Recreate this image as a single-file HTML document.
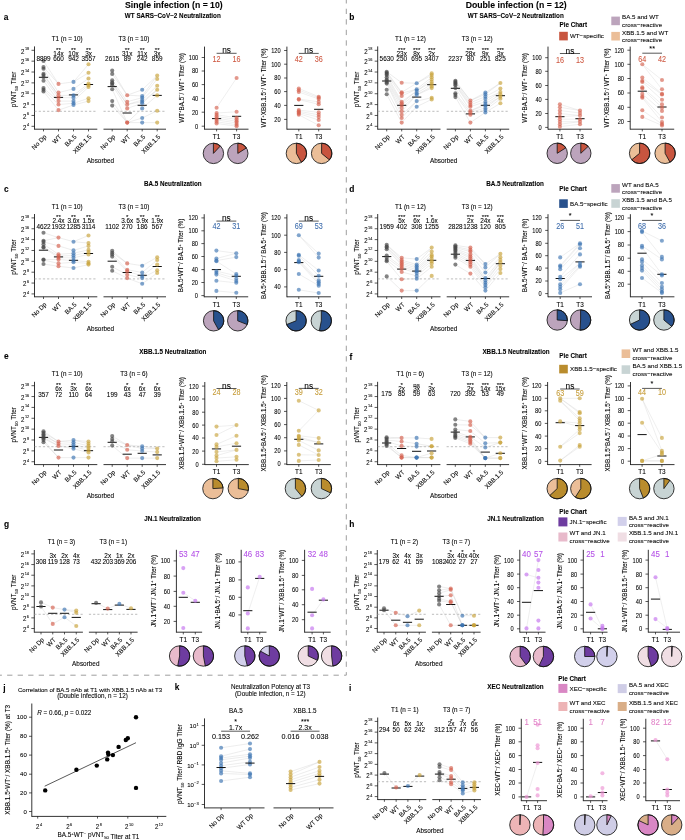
<!DOCTYPE html>
<html><head><meta charset="utf-8"><title>Figure</title><style>
html,body{margin:0;padding:0;background:#fff;}
svg{display:block;font-family:'Liberation Sans', Arial, Helvetica, sans-serif;}
text{stroke:#000;stroke-width:0.14px;stroke-opacity:0.55;}
</style></head><body>
<svg width="685" height="840" viewBox="0 0 685 840">
<rect width="685" height="840" fill="#fff"/>
<text x="173.80" y="8.11" font-size="8.7" text-anchor="middle" font-weight="bold">Single infection (n = 10)</text>
<text x="516.20" y="8.11" font-size="8.7" text-anchor="middle" font-weight="bold">Double infection (n = 12)</text>
<path d="M346.3,0 L346.3,675.2 L0,675.2" fill="none" stroke="#9a9a9a" stroke-width="0.95" stroke-dasharray="5.3,5.23" stroke-dashoffset="1.8"/>
<text x="3.70" y="20.20" font-size="8.4" font-weight="bold">a</text>
<text x="349.20" y="20.20" font-size="8.4" font-weight="bold">b</text>
<text x="3.90" y="191.70" font-size="8.4" font-weight="bold">c</text>
<text x="349.20" y="191.80" font-size="8.4" font-weight="bold">d</text>
<text x="3.90" y="358.80" font-size="8.4" font-weight="bold">e</text>
<text x="349.50" y="359.60" font-size="8.4" font-weight="bold">f</text>
<text x="3.90" y="527.00" font-size="8.4" font-weight="bold">g</text>
<text x="349.20" y="527.40" font-size="8.4" font-weight="bold">h</text>
<text x="3.30" y="691.00" font-size="8.4" font-weight="bold">j</text>
<text x="174.80" y="690.30" font-size="8.4" font-weight="bold">k</text>
<text x="349.00" y="690.60" font-size="8.4" font-weight="bold">i</text>
<text x="172.80" y="18.16" font-size="6.3" text-anchor="middle" font-weight="bold">WT SARS−CoV−2 Neutralization</text>
<text x="515.80" y="18.16" font-size="6.3" text-anchor="middle" font-weight="bold">WT SARS−CoV−2 Neutralization</text>
<text x="172.80" y="185.96" font-size="6.3" text-anchor="middle" font-weight="bold">BA.5 Neutralization</text>
<text x="515.00" y="185.86" font-size="6.3" text-anchor="middle" font-weight="bold">BA.5 Neutralization</text>
<text x="172.80" y="353.76" font-size="6.3" text-anchor="middle" font-weight="bold">XBB.1.5 Neutralization</text>
<text x="516.00" y="353.66" font-size="6.3" text-anchor="middle" font-weight="bold">XBB.1.5 Neutralization</text>
<text x="172.60" y="521.46" font-size="6.3" text-anchor="middle" font-weight="bold">JN.1 Neutralization</text>
<text x="515.50" y="521.36" font-size="6.3" text-anchor="middle" font-weight="bold">JN.1 Neutralization</text>
<text x="515.50" y="689.46" font-size="6.3" text-anchor="middle" font-weight="bold">XEC Neutralization</text>
<line x1="34.50" y1="46.40" x2="34.50" y2="129.62" stroke="#111" stroke-width="0.85"/>
<line x1="31.50" y1="50.30" x2="34.50" y2="50.30" stroke="#111" stroke-width="0.7"/>
<text x="0" y="0" transform="translate(29.20 53.53) scale(0.9 1)" font-size="6.8" text-anchor="end">2<tspan font-size="4.3" dx="0.6" dy="-3.3">18</tspan></text>
<line x1="31.50" y1="61.16" x2="34.50" y2="61.16" stroke="#111" stroke-width="0.7"/>
<text x="0" y="0" transform="translate(29.20 64.39) scale(0.9 1)" font-size="6.8" text-anchor="end">2<tspan font-size="4.3" dx="0.6" dy="-3.3">16</tspan></text>
<line x1="31.50" y1="72.02" x2="34.50" y2="72.02" stroke="#111" stroke-width="0.7"/>
<text x="0" y="0" transform="translate(29.20 75.25) scale(0.9 1)" font-size="6.8" text-anchor="end">2<tspan font-size="4.3" dx="0.6" dy="-3.3">14</tspan></text>
<line x1="31.50" y1="82.88" x2="34.50" y2="82.88" stroke="#111" stroke-width="0.7"/>
<text x="0" y="0" transform="translate(29.20 86.11) scale(0.9 1)" font-size="6.8" text-anchor="end">2<tspan font-size="4.3" dx="0.6" dy="-3.3">12</tspan></text>
<line x1="31.50" y1="93.74" x2="34.50" y2="93.74" stroke="#111" stroke-width="0.7"/>
<text x="0" y="0" transform="translate(29.20 96.97) scale(0.9 1)" font-size="6.8" text-anchor="end">2<tspan font-size="4.3" dx="0.6" dy="-3.3">10</tspan></text>
<line x1="31.50" y1="104.60" x2="34.50" y2="104.60" stroke="#111" stroke-width="0.7"/>
<text x="0" y="0" transform="translate(29.20 107.83) scale(0.9 1)" font-size="6.8" text-anchor="end">2<tspan font-size="4.3" dx="0.6" dy="-3.3">8</tspan></text>
<line x1="31.50" y1="115.46" x2="34.50" y2="115.46" stroke="#111" stroke-width="0.7"/>
<text x="0" y="0" transform="translate(29.20 118.69) scale(0.9 1)" font-size="6.8" text-anchor="end">2<tspan font-size="4.3" dx="0.6" dy="-3.3">6</tspan></text>
<line x1="31.50" y1="126.32" x2="34.50" y2="126.32" stroke="#111" stroke-width="0.7"/>
<text x="0" y="0" transform="translate(29.20 129.55) scale(0.9 1)" font-size="6.8" text-anchor="end">2<tspan font-size="4.3" dx="0.6" dy="-3.3">4</tspan></text>
<text x="14.00" y="89.41" font-size="6.4" text-anchor="middle" transform="rotate(-90 14.00 89.41)" dy="2.29">pVNT<tspan font-size="4.4" dy="1.6">50</tspan><tspan dy="-1.6"> Titer</tspan></text>
<line x1="34.50" y1="129.20" x2="97.30" y2="129.20" stroke="#111" stroke-width="0.85"/>
<line x1="34.50" y1="111.30" x2="97.30" y2="111.30" stroke="#a0a0a0" stroke-width="0.7" stroke-dasharray="2.2,2"/>
<text x="67.20" y="41.06" font-size="6.3" text-anchor="middle">T1 (n = 10)</text>
<line x1="43.50" y1="129.20" x2="43.50" y2="131.40" stroke="#111" stroke-width="0.7"/>
<text x="43.90" y="134.20" font-size="6.4" text-anchor="end" transform="rotate(-45 43.90 134.20)" dy="4.4">No Dp</text>
<line x1="58.50" y1="129.20" x2="58.50" y2="131.40" stroke="#111" stroke-width="0.7"/>
<text x="58.90" y="134.20" font-size="6.4" text-anchor="end" transform="rotate(-45 58.90 134.20)" dy="4.4">WT</text>
<line x1="73.50" y1="129.20" x2="73.50" y2="131.40" stroke="#111" stroke-width="0.7"/>
<text x="73.90" y="134.20" font-size="6.4" text-anchor="end" transform="rotate(-45 73.90 134.20)" dy="4.4">BA.5</text>
<line x1="88.50" y1="129.20" x2="88.50" y2="131.40" stroke="#111" stroke-width="0.7"/>
<text x="88.90" y="134.20" font-size="6.4" text-anchor="end" transform="rotate(-45 88.90 134.20)" dy="4.4">XBB.1.5</text>
<line x1="43.50" y1="60.90" x2="58.50" y2="83.90" stroke="#cbcbcb" stroke-width="0.35"/>
<line x1="43.50" y1="67.10" x2="58.50" y2="83.90" stroke="#cbcbcb" stroke-width="0.35"/>
<line x1="43.50" y1="68.80" x2="58.50" y2="92.60" stroke="#cbcbcb" stroke-width="0.35"/>
<line x1="43.50" y1="73.90" x2="58.50" y2="95.40" stroke="#cbcbcb" stroke-width="0.35"/>
<line x1="43.50" y1="75.00" x2="58.50" y2="95.40" stroke="#cbcbcb" stroke-width="0.35"/>
<line x1="43.50" y1="77.30" x2="58.50" y2="97.70" stroke="#cbcbcb" stroke-width="0.35"/>
<line x1="43.50" y1="80.70" x2="58.50" y2="101.10" stroke="#cbcbcb" stroke-width="0.35"/>
<line x1="43.50" y1="88.10" x2="58.50" y2="101.10" stroke="#cbcbcb" stroke-width="0.35"/>
<line x1="43.50" y1="89.80" x2="58.50" y2="104.50" stroke="#cbcbcb" stroke-width="0.35"/>
<line x1="43.50" y1="91.50" x2="58.50" y2="110.10" stroke="#cbcbcb" stroke-width="0.35"/>
<line x1="58.50" y1="83.90" x2="73.50" y2="81.90" stroke="#cbcbcb" stroke-width="0.35"/>
<line x1="58.50" y1="92.60" x2="73.50" y2="88.90" stroke="#cbcbcb" stroke-width="0.35"/>
<line x1="58.50" y1="95.40" x2="73.50" y2="95.40" stroke="#cbcbcb" stroke-width="0.35"/>
<line x1="58.50" y1="97.70" x2="73.50" y2="97.70" stroke="#cbcbcb" stroke-width="0.35"/>
<line x1="58.50" y1="101.10" x2="73.50" y2="101.10" stroke="#cbcbcb" stroke-width="0.35"/>
<line x1="58.50" y1="104.50" x2="73.50" y2="103.30" stroke="#cbcbcb" stroke-width="0.35"/>
<line x1="58.50" y1="110.10" x2="73.50" y2="105.00" stroke="#cbcbcb" stroke-width="0.35"/>
<line x1="73.50" y1="81.90" x2="88.50" y2="64.30" stroke="#cbcbcb" stroke-width="0.35"/>
<line x1="73.50" y1="81.90" x2="88.50" y2="72.80" stroke="#cbcbcb" stroke-width="0.35"/>
<line x1="73.50" y1="88.90" x2="88.50" y2="78.50" stroke="#cbcbcb" stroke-width="0.35"/>
<line x1="73.50" y1="95.40" x2="88.50" y2="83.50" stroke="#cbcbcb" stroke-width="0.35"/>
<line x1="73.50" y1="97.70" x2="88.50" y2="85.20" stroke="#cbcbcb" stroke-width="0.35"/>
<line x1="73.50" y1="101.10" x2="88.50" y2="87.00" stroke="#cbcbcb" stroke-width="0.35"/>
<line x1="73.50" y1="103.30" x2="88.50" y2="98.30" stroke="#cbcbcb" stroke-width="0.35"/>
<line x1="73.50" y1="105.00" x2="88.50" y2="101.10" stroke="#cbcbcb" stroke-width="0.35"/>
<line x1="38.90" y1="77.30" x2="48.10" y2="77.30" stroke="#111" stroke-width="1.0"/>
<line x1="53.90" y1="97.40" x2="63.10" y2="97.40" stroke="#111" stroke-width="1.0"/>
<line x1="68.90" y1="94.90" x2="78.10" y2="94.90" stroke="#111" stroke-width="1.0"/>
<line x1="83.90" y1="84.50" x2="93.10" y2="84.50" stroke="#111" stroke-width="1.0"/>
<circle cx="43.50" cy="60.90" r="2.05" fill="#444444" fill-opacity="0.66"/>
<circle cx="43.50" cy="67.10" r="2.05" fill="#444444" fill-opacity="0.66"/>
<circle cx="43.50" cy="68.80" r="2.05" fill="#444444" fill-opacity="0.66"/>
<circle cx="43.50" cy="73.90" r="2.05" fill="#444444" fill-opacity="0.66"/>
<circle cx="43.50" cy="75.00" r="2.05" fill="#444444" fill-opacity="0.66"/>
<circle cx="43.50" cy="77.30" r="2.05" fill="#444444" fill-opacity="0.66"/>
<circle cx="43.50" cy="80.70" r="2.05" fill="#444444" fill-opacity="0.66"/>
<circle cx="43.50" cy="88.10" r="2.05" fill="#444444" fill-opacity="0.66"/>
<circle cx="43.50" cy="89.80" r="2.05" fill="#444444" fill-opacity="0.66"/>
<circle cx="43.50" cy="91.50" r="2.05" fill="#444444" fill-opacity="0.66"/>
<circle cx="58.50" cy="83.90" r="2.05" fill="#D55F4D" fill-opacity="0.66"/>
<circle cx="58.50" cy="92.60" r="2.05" fill="#D55F4D" fill-opacity="0.66"/>
<circle cx="58.50" cy="95.40" r="2.05" fill="#D55F4D" fill-opacity="0.66"/>
<circle cx="58.50" cy="97.70" r="2.05" fill="#D55F4D" fill-opacity="0.66"/>
<circle cx="58.50" cy="101.10" r="2.05" fill="#D55F4D" fill-opacity="0.66"/>
<circle cx="58.50" cy="104.50" r="2.05" fill="#D55F4D" fill-opacity="0.66"/>
<circle cx="58.50" cy="110.10" r="2.05" fill="#D55F4D" fill-opacity="0.66"/>
<circle cx="73.50" cy="81.90" r="2.05" fill="#3B74B2" fill-opacity="0.66"/>
<circle cx="73.50" cy="88.90" r="2.05" fill="#3B74B2" fill-opacity="0.66"/>
<circle cx="73.50" cy="95.40" r="2.05" fill="#3B74B2" fill-opacity="0.66"/>
<circle cx="73.50" cy="97.70" r="2.05" fill="#3B74B2" fill-opacity="0.66"/>
<circle cx="73.50" cy="101.10" r="2.05" fill="#3B74B2" fill-opacity="0.66"/>
<circle cx="73.50" cy="103.30" r="2.05" fill="#3B74B2" fill-opacity="0.66"/>
<circle cx="73.50" cy="105.00" r="2.05" fill="#3B74B2" fill-opacity="0.66"/>
<circle cx="88.50" cy="64.30" r="2.05" fill="#C9A23A" fill-opacity="0.66"/>
<circle cx="88.50" cy="72.80" r="2.05" fill="#C9A23A" fill-opacity="0.66"/>
<circle cx="88.50" cy="78.50" r="2.05" fill="#C9A23A" fill-opacity="0.66"/>
<circle cx="88.50" cy="83.50" r="2.05" fill="#C9A23A" fill-opacity="0.66"/>
<circle cx="88.50" cy="85.20" r="2.05" fill="#C9A23A" fill-opacity="0.66"/>
<circle cx="88.50" cy="87.00" r="2.05" fill="#C9A23A" fill-opacity="0.66"/>
<circle cx="88.50" cy="98.30" r="2.05" fill="#C9A23A" fill-opacity="0.66"/>
<circle cx="88.50" cy="101.10" r="2.05" fill="#C9A23A" fill-opacity="0.66"/>
<text x="43.50" y="61.19" font-size="6.4" text-anchor="middle">8899</text>
<text x="58.50" y="61.19" font-size="6.4" text-anchor="middle">660</text>
<text x="58.50" y="55.89" font-size="6.4" text-anchor="middle">14x</text>
<text x="58.50" y="51.72" font-size="6.2" text-anchor="middle">**</text>
<text x="73.50" y="61.19" font-size="6.4" text-anchor="middle">942</text>
<text x="73.50" y="55.89" font-size="6.4" text-anchor="middle">10x</text>
<text x="73.50" y="51.72" font-size="6.2" text-anchor="middle">**</text>
<text x="88.50" y="61.19" font-size="6.4" text-anchor="middle">3557</text>
<text x="88.50" y="55.89" font-size="6.4" text-anchor="middle">3x</text>
<text x="88.50" y="51.72" font-size="6.2" text-anchor="middle">**</text>
<line x1="103.50" y1="129.20" x2="166.00" y2="129.20" stroke="#111" stroke-width="0.85"/>
<line x1="103.50" y1="111.30" x2="166.00" y2="111.30" stroke="#a0a0a0" stroke-width="0.7" stroke-dasharray="2.2,2"/>
<text x="133.95" y="41.06" font-size="6.3" text-anchor="middle">T3 (n = 10)</text>
<line x1="112.20" y1="129.20" x2="112.20" y2="131.40" stroke="#111" stroke-width="0.7"/>
<text x="112.60" y="134.20" font-size="6.4" text-anchor="end" transform="rotate(-45 112.60 134.20)" dy="4.4">No Dp</text>
<line x1="127.20" y1="129.20" x2="127.20" y2="131.40" stroke="#111" stroke-width="0.7"/>
<text x="127.60" y="134.20" font-size="6.4" text-anchor="end" transform="rotate(-45 127.60 134.20)" dy="4.4">WT</text>
<line x1="142.20" y1="129.20" x2="142.20" y2="131.40" stroke="#111" stroke-width="0.7"/>
<text x="142.60" y="134.20" font-size="6.4" text-anchor="end" transform="rotate(-45 142.60 134.20)" dy="4.4">BA.5</text>
<line x1="157.20" y1="129.20" x2="157.20" y2="131.40" stroke="#111" stroke-width="0.7"/>
<text x="157.60" y="134.20" font-size="6.4" text-anchor="end" transform="rotate(-45 157.60 134.20)" dy="4.4">XBB.1.5</text>
<line x1="112.20" y1="70.50" x2="127.20" y2="95.20" stroke="#cbcbcb" stroke-width="0.35"/>
<line x1="112.20" y1="73.90" x2="127.20" y2="95.20" stroke="#cbcbcb" stroke-width="0.35"/>
<line x1="112.20" y1="80.20" x2="127.20" y2="101.70" stroke="#cbcbcb" stroke-width="0.35"/>
<line x1="112.20" y1="82.40" x2="127.20" y2="104.50" stroke="#cbcbcb" stroke-width="0.35"/>
<line x1="112.20" y1="83.60" x2="127.20" y2="104.50" stroke="#cbcbcb" stroke-width="0.35"/>
<line x1="112.20" y1="85.20" x2="127.20" y2="108.40" stroke="#cbcbcb" stroke-width="0.35"/>
<line x1="112.20" y1="89.20" x2="127.20" y2="122.60" stroke="#cbcbcb" stroke-width="0.35"/>
<line x1="112.20" y1="101.10" x2="127.20" y2="122.60" stroke="#cbcbcb" stroke-width="0.35"/>
<line x1="112.20" y1="105.60" x2="127.20" y2="122.60" stroke="#cbcbcb" stroke-width="0.35"/>
<line x1="127.20" y1="95.20" x2="142.20" y2="89.80" stroke="#cbcbcb" stroke-width="0.35"/>
<line x1="127.20" y1="95.20" x2="142.20" y2="96.00" stroke="#cbcbcb" stroke-width="0.35"/>
<line x1="127.20" y1="101.70" x2="142.20" y2="97.70" stroke="#cbcbcb" stroke-width="0.35"/>
<line x1="127.20" y1="104.50" x2="142.20" y2="100.00" stroke="#cbcbcb" stroke-width="0.35"/>
<line x1="127.20" y1="104.50" x2="142.20" y2="101.70" stroke="#cbcbcb" stroke-width="0.35"/>
<line x1="127.20" y1="108.40" x2="142.20" y2="103.30" stroke="#cbcbcb" stroke-width="0.35"/>
<line x1="127.20" y1="122.60" x2="142.20" y2="108.40" stroke="#cbcbcb" stroke-width="0.35"/>
<line x1="127.20" y1="122.60" x2="142.20" y2="118.00" stroke="#cbcbcb" stroke-width="0.35"/>
<line x1="127.20" y1="122.60" x2="142.20" y2="122.60" stroke="#cbcbcb" stroke-width="0.35"/>
<line x1="142.20" y1="89.80" x2="157.20" y2="75.60" stroke="#cbcbcb" stroke-width="0.35"/>
<line x1="142.20" y1="96.00" x2="157.20" y2="75.60" stroke="#cbcbcb" stroke-width="0.35"/>
<line x1="142.20" y1="97.70" x2="157.20" y2="79.00" stroke="#cbcbcb" stroke-width="0.35"/>
<line x1="142.20" y1="100.00" x2="157.20" y2="85.80" stroke="#cbcbcb" stroke-width="0.35"/>
<line x1="142.20" y1="101.70" x2="157.20" y2="89.80" stroke="#cbcbcb" stroke-width="0.35"/>
<line x1="142.20" y1="103.30" x2="157.20" y2="89.80" stroke="#cbcbcb" stroke-width="0.35"/>
<line x1="142.20" y1="108.40" x2="157.20" y2="95.40" stroke="#cbcbcb" stroke-width="0.35"/>
<line x1="142.20" y1="118.00" x2="157.20" y2="110.70" stroke="#cbcbcb" stroke-width="0.35"/>
<line x1="142.20" y1="122.60" x2="157.20" y2="122.60" stroke="#cbcbcb" stroke-width="0.35"/>
<line x1="107.60" y1="86.60" x2="116.80" y2="86.60" stroke="#111" stroke-width="1.0"/>
<line x1="122.60" y1="113.00" x2="131.80" y2="113.00" stroke="#111" stroke-width="1.0"/>
<line x1="137.60" y1="105.30" x2="146.80" y2="105.30" stroke="#111" stroke-width="1.0"/>
<line x1="152.60" y1="95.40" x2="161.80" y2="95.40" stroke="#111" stroke-width="1.0"/>
<circle cx="112.20" cy="70.50" r="2.05" fill="#444444" fill-opacity="0.66"/>
<circle cx="112.20" cy="73.90" r="2.05" fill="#444444" fill-opacity="0.66"/>
<circle cx="112.20" cy="80.20" r="2.05" fill="#444444" fill-opacity="0.66"/>
<circle cx="112.20" cy="82.40" r="2.05" fill="#444444" fill-opacity="0.66"/>
<circle cx="112.20" cy="83.60" r="2.05" fill="#444444" fill-opacity="0.66"/>
<circle cx="112.20" cy="85.20" r="2.05" fill="#444444" fill-opacity="0.66"/>
<circle cx="112.20" cy="89.20" r="2.05" fill="#444444" fill-opacity="0.66"/>
<circle cx="112.20" cy="101.10" r="2.05" fill="#444444" fill-opacity="0.66"/>
<circle cx="112.20" cy="105.60" r="2.05" fill="#444444" fill-opacity="0.66"/>
<circle cx="127.20" cy="95.20" r="2.05" fill="#D55F4D" fill-opacity="0.66"/>
<circle cx="127.20" cy="101.70" r="2.05" fill="#D55F4D" fill-opacity="0.66"/>
<circle cx="127.20" cy="104.50" r="2.05" fill="#D55F4D" fill-opacity="0.66"/>
<circle cx="127.20" cy="108.40" r="2.05" fill="#D55F4D" fill-opacity="0.66"/>
<circle cx="127.20" cy="122.60" r="2.05" fill="#D55F4D" fill-opacity="0.66"/>
<circle cx="127.20" cy="122.60" r="2.05" fill="#D55F4D" fill-opacity="0.66"/>
<circle cx="142.20" cy="89.80" r="2.05" fill="#3B74B2" fill-opacity="0.66"/>
<circle cx="142.20" cy="96.00" r="2.05" fill="#3B74B2" fill-opacity="0.66"/>
<circle cx="142.20" cy="97.70" r="2.05" fill="#3B74B2" fill-opacity="0.66"/>
<circle cx="142.20" cy="100.00" r="2.05" fill="#3B74B2" fill-opacity="0.66"/>
<circle cx="142.20" cy="101.70" r="2.05" fill="#3B74B2" fill-opacity="0.66"/>
<circle cx="142.20" cy="103.30" r="2.05" fill="#3B74B2" fill-opacity="0.66"/>
<circle cx="142.20" cy="108.40" r="2.05" fill="#3B74B2" fill-opacity="0.66"/>
<circle cx="142.20" cy="118.00" r="2.05" fill="#3B74B2" fill-opacity="0.66"/>
<circle cx="142.20" cy="122.60" r="2.05" fill="#3B74B2" fill-opacity="0.66"/>
<circle cx="157.20" cy="75.60" r="2.05" fill="#C9A23A" fill-opacity="0.66"/>
<circle cx="157.20" cy="79.00" r="2.05" fill="#C9A23A" fill-opacity="0.66"/>
<circle cx="157.20" cy="85.80" r="2.05" fill="#C9A23A" fill-opacity="0.66"/>
<circle cx="157.20" cy="89.80" r="2.05" fill="#C9A23A" fill-opacity="0.66"/>
<circle cx="157.20" cy="95.40" r="2.05" fill="#C9A23A" fill-opacity="0.66"/>
<circle cx="157.20" cy="110.70" r="2.05" fill="#C9A23A" fill-opacity="0.66"/>
<circle cx="157.20" cy="122.60" r="2.05" fill="#C9A23A" fill-opacity="0.66"/>
<text x="112.20" y="61.19" font-size="6.4" text-anchor="middle">2615</text>
<text x="127.20" y="61.19" font-size="6.4" text-anchor="middle">89</text>
<text x="127.20" y="55.89" font-size="6.4" text-anchor="middle">31x</text>
<text x="127.20" y="51.72" font-size="6.2" text-anchor="middle">**</text>
<text x="142.20" y="61.19" font-size="6.4" text-anchor="middle">242</text>
<text x="142.20" y="55.89" font-size="6.4" text-anchor="middle">11x</text>
<text x="142.20" y="51.72" font-size="6.2" text-anchor="middle">**</text>
<text x="157.20" y="61.19" font-size="6.4" text-anchor="middle">859</text>
<text x="157.20" y="55.89" font-size="6.4" text-anchor="middle">3x</text>
<text x="157.20" y="51.72" font-size="6.2" text-anchor="middle">**</text>
<text x="100.50" y="163.09" font-size="6.4" text-anchor="middle">Absorbed</text>
<line x1="204.50" y1="46.60" x2="204.50" y2="129.62" stroke="#111" stroke-width="0.85"/>
<line x1="204.50" y1="129.20" x2="248.50" y2="129.20" stroke="#111" stroke-width="0.85"/>
<line x1="201.70" y1="126.20" x2="204.50" y2="126.20" stroke="#111" stroke-width="0.7"/>
<text x="0" y="0" font-size="6.8" transform="translate(198.30 128.63) scale(0.84 1)" text-anchor="end">0</text>
<line x1="201.70" y1="112.20" x2="204.50" y2="112.20" stroke="#111" stroke-width="0.7"/>
<text x="0" y="0" font-size="6.8" transform="translate(198.30 114.63) scale(0.84 1)" text-anchor="end">20</text>
<line x1="201.70" y1="98.40" x2="204.50" y2="98.40" stroke="#111" stroke-width="0.7"/>
<text x="0" y="0" font-size="6.8" transform="translate(198.30 100.83) scale(0.84 1)" text-anchor="end">40</text>
<line x1="201.70" y1="84.60" x2="204.50" y2="84.60" stroke="#111" stroke-width="0.7"/>
<text x="0" y="0" font-size="6.8" transform="translate(198.30 87.03) scale(0.84 1)" text-anchor="end">60</text>
<line x1="201.70" y1="71.00" x2="204.50" y2="71.00" stroke="#111" stroke-width="0.7"/>
<text x="0" y="0" font-size="6.8" transform="translate(198.30 73.43) scale(0.84 1)" text-anchor="end">80</text>
<line x1="201.70" y1="57.50" x2="204.50" y2="57.50" stroke="#111" stroke-width="0.7"/>
<text x="0" y="0" font-size="6.8" transform="translate(198.30 59.93) scale(0.84 1)" text-anchor="end">100</text>
<text x="181.40" y="87.90" font-size="6.3" text-anchor="middle" transform="rotate(-90 181.40 87.90)" dy="2.26">WT<tspan font-size="4.2" dy="-2.4">+</tspan><tspan dy="2.4">BA.5</tspan><tspan font-size="4.2" dy="-2.4">−</tspan><tspan dy="2.4">/ WT</tspan><tspan font-size="4.2" dy="-2.4">+</tspan><tspan dy="2.4"> Titer (%)</tspan></text>
<line x1="216.60" y1="129.20" x2="216.60" y2="131.40" stroke="#111" stroke-width="0.7"/>
<text x="216.60" y="139.09" font-size="6.4" text-anchor="middle">T1</text>
<line x1="236.60" y1="129.20" x2="236.60" y2="131.40" stroke="#111" stroke-width="0.7"/>
<text x="236.60" y="139.09" font-size="6.4" text-anchor="middle">T3</text>
<line x1="216.60" y1="107.80" x2="236.60" y2="78.00" stroke="#d0d0d0" stroke-width="0.35"/>
<line x1="216.60" y1="113.00" x2="236.60" y2="111.80" stroke="#d0d0d0" stroke-width="0.35"/>
<line x1="216.60" y1="114.80" x2="236.60" y2="117.70" stroke="#d0d0d0" stroke-width="0.35"/>
<line x1="216.60" y1="116.50" x2="236.60" y2="119.40" stroke="#d0d0d0" stroke-width="0.35"/>
<line x1="216.60" y1="118.30" x2="236.60" y2="121.20" stroke="#d0d0d0" stroke-width="0.35"/>
<line x1="216.60" y1="120.00" x2="236.60" y2="122.90" stroke="#d0d0d0" stroke-width="0.35"/>
<line x1="216.60" y1="121.80" x2="236.60" y2="124.70" stroke="#d0d0d0" stroke-width="0.35"/>
<line x1="216.60" y1="123.50" x2="236.60" y2="126.20" stroke="#d0d0d0" stroke-width="0.35"/>
<line x1="212.00" y1="118.60" x2="221.20" y2="118.60" stroke="#111" stroke-width="1.0"/>
<line x1="232.00" y1="116.30" x2="241.20" y2="116.30" stroke="#111" stroke-width="1.0"/>
<circle cx="216.60" cy="107.80" r="2.05" fill="#D55F4D" fill-opacity="0.64"/>
<circle cx="216.60" cy="113.00" r="2.05" fill="#D55F4D" fill-opacity="0.64"/>
<circle cx="216.60" cy="114.80" r="2.05" fill="#D55F4D" fill-opacity="0.64"/>
<circle cx="216.60" cy="116.50" r="2.05" fill="#D55F4D" fill-opacity="0.64"/>
<circle cx="216.60" cy="118.30" r="2.05" fill="#D55F4D" fill-opacity="0.64"/>
<circle cx="216.60" cy="120.00" r="2.05" fill="#D55F4D" fill-opacity="0.64"/>
<circle cx="216.60" cy="121.80" r="2.05" fill="#D55F4D" fill-opacity="0.64"/>
<circle cx="216.60" cy="123.50" r="2.05" fill="#D55F4D" fill-opacity="0.64"/>
<circle cx="236.60" cy="78.00" r="2.05" fill="#D55F4D" fill-opacity="0.64"/>
<circle cx="236.60" cy="111.80" r="2.05" fill="#D55F4D" fill-opacity="0.64"/>
<circle cx="236.60" cy="117.70" r="2.05" fill="#D55F4D" fill-opacity="0.64"/>
<circle cx="236.60" cy="119.40" r="2.05" fill="#D55F4D" fill-opacity="0.64"/>
<circle cx="236.60" cy="121.20" r="2.05" fill="#D55F4D" fill-opacity="0.64"/>
<circle cx="236.60" cy="122.90" r="2.05" fill="#D55F4D" fill-opacity="0.64"/>
<circle cx="236.60" cy="124.70" r="2.05" fill="#D55F4D" fill-opacity="0.64"/>
<circle cx="236.60" cy="126.20" r="2.05" fill="#D55F4D" fill-opacity="0.64"/>
<line x1="216.60" y1="53.30" x2="236.60" y2="53.30" stroke="#111" stroke-width="0.7"/>
<text x="226.60" y="53.47" font-size="8.3" text-anchor="middle">ns</text>
<text x="0" y="0" font-size="8.6" transform="translate(216.60 61.78) scale(0.84 1)" text-anchor="middle" fill="#CF5A43" style="stroke:#CF5A43">12</text>
<text x="0" y="0" font-size="8.6" transform="translate(236.60 61.78) scale(0.84 1)" text-anchor="middle" fill="#CF5A43" style="stroke:#CF5A43">16</text>
<circle cx="213.40" cy="153.40" r="10.2" fill="#BCA4BC"/>
<path d="M213.40,153.40 L213.40,143.20 A10.2,10.2 0 0 1 220.38,145.96 Z" fill="#C8553F" stroke="#151515" stroke-width="0.85" stroke-linejoin="round"/>
<circle cx="213.40" cy="153.40" r="10.2" fill="none" stroke="#151515" stroke-width="0.85"/>
<circle cx="237.80" cy="153.40" r="10.2" fill="#BCA4BC"/>
<path d="M237.80,153.40 L237.80,143.20 A10.2,10.2 0 0 1 246.41,147.93 Z" fill="#C8553F" stroke="#151515" stroke-width="0.85" stroke-linejoin="round"/>
<circle cx="237.80" cy="153.40" r="10.2" fill="none" stroke="#151515" stroke-width="0.85"/>
<line x1="286.90" y1="46.60" x2="286.90" y2="129.62" stroke="#111" stroke-width="0.85"/>
<line x1="286.90" y1="129.20" x2="330.90" y2="129.20" stroke="#111" stroke-width="0.85"/>
<line x1="284.10" y1="119.40" x2="286.90" y2="119.40" stroke="#111" stroke-width="0.7"/>
<text x="0" y="0" font-size="6.8" transform="translate(280.70 121.83) scale(0.84 1)" text-anchor="end">20</text>
<line x1="284.10" y1="105.40" x2="286.90" y2="105.40" stroke="#111" stroke-width="0.7"/>
<text x="0" y="0" font-size="6.8" transform="translate(280.70 107.83) scale(0.84 1)" text-anchor="end">40</text>
<line x1="284.10" y1="91.60" x2="286.90" y2="91.60" stroke="#111" stroke-width="0.7"/>
<text x="0" y="0" font-size="6.8" transform="translate(280.70 94.03) scale(0.84 1)" text-anchor="end">60</text>
<line x1="284.10" y1="78.00" x2="286.90" y2="78.00" stroke="#111" stroke-width="0.7"/>
<text x="0" y="0" font-size="6.8" transform="translate(280.70 80.43) scale(0.84 1)" text-anchor="end">80</text>
<line x1="284.10" y1="64.20" x2="286.90" y2="64.20" stroke="#111" stroke-width="0.7"/>
<text x="0" y="0" font-size="6.8" transform="translate(280.70 66.63) scale(0.84 1)" text-anchor="end">100</text>
<line x1="284.10" y1="50.50" x2="286.90" y2="50.50" stroke="#111" stroke-width="0.7"/>
<text x="0" y="0" font-size="6.8" transform="translate(280.70 52.93) scale(0.84 1)" text-anchor="end">120</text>
<text x="263.80" y="87.90" font-size="6.3" text-anchor="middle" transform="rotate(-90 263.80 87.90)" dy="2.26">WT<tspan font-size="4.2" dy="-2.4">+</tspan><tspan dy="2.4">XBB.1.5</tspan><tspan font-size="4.2" dy="-2.4">−</tspan><tspan dy="2.4">/ WT</tspan><tspan font-size="4.2" dy="-2.4">+</tspan><tspan dy="2.4"> Titer (%)</tspan></text>
<line x1="298.80" y1="129.20" x2="298.80" y2="131.40" stroke="#111" stroke-width="0.7"/>
<text x="298.80" y="139.09" font-size="6.4" text-anchor="middle">T1</text>
<line x1="318.70" y1="129.20" x2="318.70" y2="131.40" stroke="#111" stroke-width="0.7"/>
<text x="318.70" y="139.09" font-size="6.4" text-anchor="middle">T3</text>
<line x1="298.80" y1="88.50" x2="318.70" y2="96.70" stroke="#d0d0d0" stroke-width="0.35"/>
<line x1="298.80" y1="90.20" x2="318.70" y2="97.80" stroke="#d0d0d0" stroke-width="0.35"/>
<line x1="298.80" y1="92.00" x2="318.70" y2="99.00" stroke="#d0d0d0" stroke-width="0.35"/>
<line x1="298.80" y1="99.00" x2="318.70" y2="101.90" stroke="#d0d0d0" stroke-width="0.35"/>
<line x1="298.80" y1="99.60" x2="318.70" y2="104.30" stroke="#d0d0d0" stroke-width="0.35"/>
<line x1="298.80" y1="110.10" x2="318.70" y2="112.40" stroke="#d0d0d0" stroke-width="0.35"/>
<line x1="298.80" y1="111.30" x2="318.70" y2="114.80" stroke="#d0d0d0" stroke-width="0.35"/>
<line x1="298.80" y1="112.40" x2="318.70" y2="117.10" stroke="#d0d0d0" stroke-width="0.35"/>
<line x1="298.80" y1="113.60" x2="318.70" y2="120.00" stroke="#d0d0d0" stroke-width="0.35"/>
<line x1="298.80" y1="114.80" x2="318.70" y2="125.30" stroke="#d0d0d0" stroke-width="0.35"/>
<line x1="294.20" y1="105.40" x2="303.40" y2="105.40" stroke="#111" stroke-width="1.0"/>
<line x1="314.10" y1="109.30" x2="323.30" y2="109.30" stroke="#111" stroke-width="1.0"/>
<circle cx="298.80" cy="88.50" r="2.05" fill="#D55F4D" fill-opacity="0.64"/>
<circle cx="298.80" cy="90.20" r="2.05" fill="#D55F4D" fill-opacity="0.64"/>
<circle cx="298.80" cy="92.00" r="2.05" fill="#D55F4D" fill-opacity="0.64"/>
<circle cx="298.80" cy="99.00" r="2.05" fill="#D55F4D" fill-opacity="0.64"/>
<circle cx="298.80" cy="99.60" r="2.05" fill="#D55F4D" fill-opacity="0.64"/>
<circle cx="298.80" cy="110.10" r="2.05" fill="#D55F4D" fill-opacity="0.64"/>
<circle cx="298.80" cy="111.30" r="2.05" fill="#D55F4D" fill-opacity="0.64"/>
<circle cx="298.80" cy="112.40" r="2.05" fill="#D55F4D" fill-opacity="0.64"/>
<circle cx="298.80" cy="113.60" r="2.05" fill="#D55F4D" fill-opacity="0.64"/>
<circle cx="298.80" cy="114.80" r="2.05" fill="#D55F4D" fill-opacity="0.64"/>
<circle cx="318.70" cy="96.70" r="2.05" fill="#D55F4D" fill-opacity="0.64"/>
<circle cx="318.70" cy="97.80" r="2.05" fill="#D55F4D" fill-opacity="0.64"/>
<circle cx="318.70" cy="99.00" r="2.05" fill="#D55F4D" fill-opacity="0.64"/>
<circle cx="318.70" cy="101.90" r="2.05" fill="#D55F4D" fill-opacity="0.64"/>
<circle cx="318.70" cy="104.30" r="2.05" fill="#D55F4D" fill-opacity="0.64"/>
<circle cx="318.70" cy="112.40" r="2.05" fill="#D55F4D" fill-opacity="0.64"/>
<circle cx="318.70" cy="114.80" r="2.05" fill="#D55F4D" fill-opacity="0.64"/>
<circle cx="318.70" cy="117.10" r="2.05" fill="#D55F4D" fill-opacity="0.64"/>
<circle cx="318.70" cy="120.00" r="2.05" fill="#D55F4D" fill-opacity="0.64"/>
<circle cx="318.70" cy="125.30" r="2.05" fill="#D55F4D" fill-opacity="0.64"/>
<line x1="298.80" y1="53.40" x2="318.70" y2="53.40" stroke="#111" stroke-width="0.7"/>
<text x="308.75" y="53.47" font-size="8.3" text-anchor="middle">ns</text>
<text x="0" y="0" font-size="8.6" transform="translate(298.80 61.78) scale(0.84 1)" text-anchor="middle" fill="#CF5A43" style="stroke:#CF5A43">42</text>
<text x="0" y="0" font-size="8.6" transform="translate(318.70 61.78) scale(0.84 1)" text-anchor="middle" fill="#CF5A43" style="stroke:#CF5A43">36</text>
<circle cx="296.40" cy="153.40" r="10.2" fill="#EBBE98"/>
<path d="M296.40,153.40 L296.40,143.20 A10.2,10.2 0 0 1 301.31,162.34 Z" fill="#C8553F" stroke="#151515" stroke-width="0.85" stroke-linejoin="round"/>
<circle cx="296.40" cy="153.40" r="10.2" fill="none" stroke="#151515" stroke-width="0.85"/>
<circle cx="321.60" cy="153.40" r="10.2" fill="#EBBE98"/>
<path d="M321.60,153.40 L321.60,143.20 A10.2,10.2 0 0 1 329.46,159.90 Z" fill="#C8553F" stroke="#151515" stroke-width="0.85" stroke-linejoin="round"/>
<circle cx="321.60" cy="153.40" r="10.2" fill="none" stroke="#151515" stroke-width="0.85"/>
<line x1="377.70" y1="46.40" x2="377.70" y2="129.62" stroke="#111" stroke-width="0.85"/>
<line x1="374.70" y1="50.30" x2="377.70" y2="50.30" stroke="#111" stroke-width="0.7"/>
<text x="0" y="0" transform="translate(372.40 53.53) scale(0.9 1)" font-size="6.8" text-anchor="end">2<tspan font-size="4.3" dx="0.6" dy="-3.3">18</tspan></text>
<line x1="374.70" y1="61.16" x2="377.70" y2="61.16" stroke="#111" stroke-width="0.7"/>
<text x="0" y="0" transform="translate(372.40 64.39) scale(0.9 1)" font-size="6.8" text-anchor="end">2<tspan font-size="4.3" dx="0.6" dy="-3.3">16</tspan></text>
<line x1="374.70" y1="72.02" x2="377.70" y2="72.02" stroke="#111" stroke-width="0.7"/>
<text x="0" y="0" transform="translate(372.40 75.25) scale(0.9 1)" font-size="6.8" text-anchor="end">2<tspan font-size="4.3" dx="0.6" dy="-3.3">14</tspan></text>
<line x1="374.70" y1="82.88" x2="377.70" y2="82.88" stroke="#111" stroke-width="0.7"/>
<text x="0" y="0" transform="translate(372.40 86.11) scale(0.9 1)" font-size="6.8" text-anchor="end">2<tspan font-size="4.3" dx="0.6" dy="-3.3">12</tspan></text>
<line x1="374.70" y1="93.74" x2="377.70" y2="93.74" stroke="#111" stroke-width="0.7"/>
<text x="0" y="0" transform="translate(372.40 96.97) scale(0.9 1)" font-size="6.8" text-anchor="end">2<tspan font-size="4.3" dx="0.6" dy="-3.3">10</tspan></text>
<line x1="374.70" y1="104.60" x2="377.70" y2="104.60" stroke="#111" stroke-width="0.7"/>
<text x="0" y="0" transform="translate(372.40 107.83) scale(0.9 1)" font-size="6.8" text-anchor="end">2<tspan font-size="4.3" dx="0.6" dy="-3.3">8</tspan></text>
<line x1="374.70" y1="115.46" x2="377.70" y2="115.46" stroke="#111" stroke-width="0.7"/>
<text x="0" y="0" transform="translate(372.40 118.69) scale(0.9 1)" font-size="6.8" text-anchor="end">2<tspan font-size="4.3" dx="0.6" dy="-3.3">6</tspan></text>
<line x1="374.70" y1="126.32" x2="377.70" y2="126.32" stroke="#111" stroke-width="0.7"/>
<text x="0" y="0" transform="translate(372.40 129.55) scale(0.9 1)" font-size="6.8" text-anchor="end">2<tspan font-size="4.3" dx="0.6" dy="-3.3">4</tspan></text>
<text x="357.20" y="89.41" font-size="6.4" text-anchor="middle" transform="rotate(-90 357.20 89.41)" dy="2.29">pVNT<tspan font-size="4.4" dy="1.6">50</tspan><tspan dy="-1.6"> Titer</tspan></text>
<line x1="377.70" y1="129.20" x2="440.50" y2="129.20" stroke="#111" stroke-width="0.85"/>
<line x1="377.70" y1="111.30" x2="440.50" y2="111.30" stroke="#a0a0a0" stroke-width="0.7" stroke-dasharray="2.2,2"/>
<text x="410.40" y="41.06" font-size="6.3" text-anchor="middle">T1 (n = 12)</text>
<line x1="386.70" y1="129.20" x2="386.70" y2="131.40" stroke="#111" stroke-width="0.7"/>
<text x="387.10" y="134.20" font-size="6.4" text-anchor="end" transform="rotate(-45 387.10 134.20)" dy="4.4">No Dp</text>
<line x1="401.70" y1="129.20" x2="401.70" y2="131.40" stroke="#111" stroke-width="0.7"/>
<text x="402.10" y="134.20" font-size="6.4" text-anchor="end" transform="rotate(-45 402.10 134.20)" dy="4.4">WT</text>
<line x1="416.70" y1="129.20" x2="416.70" y2="131.40" stroke="#111" stroke-width="0.7"/>
<text x="417.10" y="134.20" font-size="6.4" text-anchor="end" transform="rotate(-45 417.10 134.20)" dy="4.4">BA.5</text>
<line x1="431.70" y1="129.20" x2="431.70" y2="131.40" stroke="#111" stroke-width="0.7"/>
<text x="432.10" y="134.20" font-size="6.4" text-anchor="end" transform="rotate(-45 432.10 134.20)" dy="4.4">XBB.1.5</text>
<line x1="386.70" y1="71.70" x2="401.70" y2="82.80" stroke="#cbcbcb" stroke-width="0.35"/>
<line x1="386.70" y1="71.70" x2="401.70" y2="92.30" stroke="#cbcbcb" stroke-width="0.35"/>
<line x1="386.70" y1="72.80" x2="401.70" y2="93.20" stroke="#cbcbcb" stroke-width="0.35"/>
<line x1="386.70" y1="73.90" x2="401.70" y2="96.00" stroke="#cbcbcb" stroke-width="0.35"/>
<line x1="386.70" y1="75.10" x2="401.70" y2="101.70" stroke="#cbcbcb" stroke-width="0.35"/>
<line x1="386.70" y1="77.30" x2="401.70" y2="103.30" stroke="#cbcbcb" stroke-width="0.35"/>
<line x1="386.70" y1="79.60" x2="401.70" y2="105.00" stroke="#cbcbcb" stroke-width="0.35"/>
<line x1="386.70" y1="80.70" x2="401.70" y2="107.90" stroke="#cbcbcb" stroke-width="0.35"/>
<line x1="386.70" y1="82.40" x2="401.70" y2="111.30" stroke="#cbcbcb" stroke-width="0.35"/>
<line x1="386.70" y1="83.60" x2="401.70" y2="114.70" stroke="#cbcbcb" stroke-width="0.35"/>
<line x1="386.70" y1="89.80" x2="401.70" y2="118.00" stroke="#cbcbcb" stroke-width="0.35"/>
<line x1="386.70" y1="94.30" x2="401.70" y2="122.60" stroke="#cbcbcb" stroke-width="0.35"/>
<line x1="401.70" y1="82.80" x2="416.70" y2="83.20" stroke="#cbcbcb" stroke-width="0.35"/>
<line x1="401.70" y1="92.30" x2="416.70" y2="83.20" stroke="#cbcbcb" stroke-width="0.35"/>
<line x1="401.70" y1="93.20" x2="416.70" y2="89.20" stroke="#cbcbcb" stroke-width="0.35"/>
<line x1="401.70" y1="96.00" x2="416.70" y2="89.20" stroke="#cbcbcb" stroke-width="0.35"/>
<line x1="401.70" y1="101.70" x2="416.70" y2="90.90" stroke="#cbcbcb" stroke-width="0.35"/>
<line x1="401.70" y1="103.30" x2="416.70" y2="90.90" stroke="#cbcbcb" stroke-width="0.35"/>
<line x1="401.70" y1="105.00" x2="416.70" y2="93.20" stroke="#cbcbcb" stroke-width="0.35"/>
<line x1="401.70" y1="107.90" x2="416.70" y2="94.90" stroke="#cbcbcb" stroke-width="0.35"/>
<line x1="401.70" y1="111.30" x2="416.70" y2="94.90" stroke="#cbcbcb" stroke-width="0.35"/>
<line x1="401.70" y1="114.70" x2="416.70" y2="101.10" stroke="#cbcbcb" stroke-width="0.35"/>
<line x1="401.70" y1="118.00" x2="416.70" y2="101.10" stroke="#cbcbcb" stroke-width="0.35"/>
<line x1="401.70" y1="122.60" x2="416.70" y2="106.70" stroke="#cbcbcb" stroke-width="0.35"/>
<line x1="416.70" y1="83.20" x2="431.70" y2="73.40" stroke="#cbcbcb" stroke-width="0.35"/>
<line x1="416.70" y1="83.20" x2="431.70" y2="75.10" stroke="#cbcbcb" stroke-width="0.35"/>
<line x1="416.70" y1="89.20" x2="431.70" y2="77.30" stroke="#cbcbcb" stroke-width="0.35"/>
<line x1="416.70" y1="90.90" x2="431.70" y2="79.60" stroke="#cbcbcb" stroke-width="0.35"/>
<line x1="416.70" y1="90.90" x2="431.70" y2="81.90" stroke="#cbcbcb" stroke-width="0.35"/>
<line x1="416.70" y1="93.20" x2="431.70" y2="84.10" stroke="#cbcbcb" stroke-width="0.35"/>
<line x1="416.70" y1="94.90" x2="431.70" y2="86.40" stroke="#cbcbcb" stroke-width="0.35"/>
<line x1="416.70" y1="94.90" x2="431.70" y2="88.10" stroke="#cbcbcb" stroke-width="0.35"/>
<line x1="416.70" y1="101.10" x2="431.70" y2="97.70" stroke="#cbcbcb" stroke-width="0.35"/>
<line x1="416.70" y1="106.70" x2="431.70" y2="99.40" stroke="#cbcbcb" stroke-width="0.35"/>
<line x1="382.10" y1="81.00" x2="391.30" y2="81.00" stroke="#111" stroke-width="1.0"/>
<line x1="397.10" y1="105.30" x2="406.30" y2="105.30" stroke="#111" stroke-width="1.0"/>
<line x1="412.10" y1="97.10" x2="421.30" y2="97.10" stroke="#111" stroke-width="1.0"/>
<line x1="427.10" y1="84.70" x2="436.30" y2="84.70" stroke="#111" stroke-width="1.0"/>
<circle cx="386.70" cy="71.70" r="2.05" fill="#444444" fill-opacity="0.66"/>
<circle cx="386.70" cy="72.80" r="2.05" fill="#444444" fill-opacity="0.66"/>
<circle cx="386.70" cy="73.90" r="2.05" fill="#444444" fill-opacity="0.66"/>
<circle cx="386.70" cy="75.10" r="2.05" fill="#444444" fill-opacity="0.66"/>
<circle cx="386.70" cy="77.30" r="2.05" fill="#444444" fill-opacity="0.66"/>
<circle cx="386.70" cy="79.60" r="2.05" fill="#444444" fill-opacity="0.66"/>
<circle cx="386.70" cy="80.70" r="2.05" fill="#444444" fill-opacity="0.66"/>
<circle cx="386.70" cy="82.40" r="2.05" fill="#444444" fill-opacity="0.66"/>
<circle cx="386.70" cy="83.60" r="2.05" fill="#444444" fill-opacity="0.66"/>
<circle cx="386.70" cy="89.80" r="2.05" fill="#444444" fill-opacity="0.66"/>
<circle cx="386.70" cy="94.30" r="2.05" fill="#444444" fill-opacity="0.66"/>
<circle cx="401.70" cy="82.80" r="2.05" fill="#D55F4D" fill-opacity="0.66"/>
<circle cx="401.70" cy="92.30" r="2.05" fill="#D55F4D" fill-opacity="0.66"/>
<circle cx="401.70" cy="93.20" r="2.05" fill="#D55F4D" fill-opacity="0.66"/>
<circle cx="401.70" cy="96.00" r="2.05" fill="#D55F4D" fill-opacity="0.66"/>
<circle cx="401.70" cy="101.70" r="2.05" fill="#D55F4D" fill-opacity="0.66"/>
<circle cx="401.70" cy="103.30" r="2.05" fill="#D55F4D" fill-opacity="0.66"/>
<circle cx="401.70" cy="105.00" r="2.05" fill="#D55F4D" fill-opacity="0.66"/>
<circle cx="401.70" cy="107.90" r="2.05" fill="#D55F4D" fill-opacity="0.66"/>
<circle cx="401.70" cy="111.30" r="2.05" fill="#D55F4D" fill-opacity="0.66"/>
<circle cx="401.70" cy="114.70" r="2.05" fill="#D55F4D" fill-opacity="0.66"/>
<circle cx="401.70" cy="118.00" r="2.05" fill="#D55F4D" fill-opacity="0.66"/>
<circle cx="401.70" cy="122.60" r="2.05" fill="#D55F4D" fill-opacity="0.66"/>
<circle cx="416.70" cy="83.20" r="2.05" fill="#3B74B2" fill-opacity="0.66"/>
<circle cx="416.70" cy="89.20" r="2.05" fill="#3B74B2" fill-opacity="0.66"/>
<circle cx="416.70" cy="90.90" r="2.05" fill="#3B74B2" fill-opacity="0.66"/>
<circle cx="416.70" cy="93.20" r="2.05" fill="#3B74B2" fill-opacity="0.66"/>
<circle cx="416.70" cy="94.90" r="2.05" fill="#3B74B2" fill-opacity="0.66"/>
<circle cx="416.70" cy="101.10" r="2.05" fill="#3B74B2" fill-opacity="0.66"/>
<circle cx="416.70" cy="106.70" r="2.05" fill="#3B74B2" fill-opacity="0.66"/>
<circle cx="431.70" cy="73.40" r="2.05" fill="#C9A23A" fill-opacity="0.66"/>
<circle cx="431.70" cy="75.10" r="2.05" fill="#C9A23A" fill-opacity="0.66"/>
<circle cx="431.70" cy="77.30" r="2.05" fill="#C9A23A" fill-opacity="0.66"/>
<circle cx="431.70" cy="79.60" r="2.05" fill="#C9A23A" fill-opacity="0.66"/>
<circle cx="431.70" cy="81.90" r="2.05" fill="#C9A23A" fill-opacity="0.66"/>
<circle cx="431.70" cy="84.10" r="2.05" fill="#C9A23A" fill-opacity="0.66"/>
<circle cx="431.70" cy="86.40" r="2.05" fill="#C9A23A" fill-opacity="0.66"/>
<circle cx="431.70" cy="88.10" r="2.05" fill="#C9A23A" fill-opacity="0.66"/>
<circle cx="431.70" cy="97.70" r="2.05" fill="#C9A23A" fill-opacity="0.66"/>
<circle cx="431.70" cy="99.40" r="2.05" fill="#C9A23A" fill-opacity="0.66"/>
<text x="386.70" y="61.19" font-size="6.4" text-anchor="middle">5630</text>
<text x="401.70" y="61.19" font-size="6.4" text-anchor="middle">250</text>
<text x="401.70" y="55.89" font-size="6.4" text-anchor="middle">23x</text>
<text x="401.70" y="51.72" font-size="6.2" text-anchor="middle">***</text>
<text x="416.70" y="61.19" font-size="6.4" text-anchor="middle">695</text>
<text x="416.70" y="55.89" font-size="6.4" text-anchor="middle">8x</text>
<text x="416.70" y="51.72" font-size="6.2" text-anchor="middle">***</text>
<text x="431.70" y="61.19" font-size="6.4" text-anchor="middle">3407</text>
<text x="431.70" y="55.89" font-size="6.4" text-anchor="middle">2x</text>
<text x="431.70" y="51.72" font-size="6.2" text-anchor="middle">***</text>
<line x1="446.70" y1="129.20" x2="509.20" y2="129.20" stroke="#111" stroke-width="0.85"/>
<line x1="446.70" y1="111.30" x2="509.20" y2="111.30" stroke="#a0a0a0" stroke-width="0.7" stroke-dasharray="2.2,2"/>
<text x="477.15" y="41.06" font-size="6.3" text-anchor="middle">T3 (n = 12)</text>
<line x1="455.40" y1="129.20" x2="455.40" y2="131.40" stroke="#111" stroke-width="0.7"/>
<text x="455.80" y="134.20" font-size="6.4" text-anchor="end" transform="rotate(-45 455.80 134.20)" dy="4.4">No Dp</text>
<line x1="470.40" y1="129.20" x2="470.40" y2="131.40" stroke="#111" stroke-width="0.7"/>
<text x="470.80" y="134.20" font-size="6.4" text-anchor="end" transform="rotate(-45 470.80 134.20)" dy="4.4">WT</text>
<line x1="485.40" y1="129.20" x2="485.40" y2="131.40" stroke="#111" stroke-width="0.7"/>
<text x="485.80" y="134.20" font-size="6.4" text-anchor="end" transform="rotate(-45 485.80 134.20)" dy="4.4">BA.5</text>
<line x1="500.40" y1="129.20" x2="500.40" y2="131.40" stroke="#111" stroke-width="0.7"/>
<text x="500.80" y="134.20" font-size="6.4" text-anchor="end" transform="rotate(-45 500.80 134.20)" dy="4.4">XBB.1.5</text>
<line x1="455.40" y1="80.70" x2="470.40" y2="100.50" stroke="#cbcbcb" stroke-width="0.35"/>
<line x1="455.40" y1="81.90" x2="470.40" y2="100.50" stroke="#cbcbcb" stroke-width="0.35"/>
<line x1="455.40" y1="83.00" x2="470.40" y2="102.80" stroke="#cbcbcb" stroke-width="0.35"/>
<line x1="455.40" y1="84.10" x2="470.40" y2="105.00" stroke="#cbcbcb" stroke-width="0.35"/>
<line x1="455.40" y1="85.20" x2="470.40" y2="106.70" stroke="#cbcbcb" stroke-width="0.35"/>
<line x1="455.40" y1="88.10" x2="470.40" y2="110.70" stroke="#cbcbcb" stroke-width="0.35"/>
<line x1="455.40" y1="93.20" x2="470.40" y2="112.40" stroke="#cbcbcb" stroke-width="0.35"/>
<line x1="455.40" y1="94.90" x2="470.40" y2="114.70" stroke="#cbcbcb" stroke-width="0.35"/>
<line x1="455.40" y1="97.10" x2="470.40" y2="122.60" stroke="#cbcbcb" stroke-width="0.35"/>
<line x1="470.40" y1="100.50" x2="485.40" y2="92.60" stroke="#cbcbcb" stroke-width="0.35"/>
<line x1="470.40" y1="100.50" x2="485.40" y2="94.30" stroke="#cbcbcb" stroke-width="0.35"/>
<line x1="470.40" y1="102.80" x2="485.40" y2="96.60" stroke="#cbcbcb" stroke-width="0.35"/>
<line x1="470.40" y1="105.00" x2="485.40" y2="98.80" stroke="#cbcbcb" stroke-width="0.35"/>
<line x1="470.40" y1="106.70" x2="485.40" y2="101.70" stroke="#cbcbcb" stroke-width="0.35"/>
<line x1="470.40" y1="110.70" x2="485.40" y2="103.90" stroke="#cbcbcb" stroke-width="0.35"/>
<line x1="470.40" y1="110.70" x2="485.40" y2="105.60" stroke="#cbcbcb" stroke-width="0.35"/>
<line x1="470.40" y1="112.40" x2="485.40" y2="107.90" stroke="#cbcbcb" stroke-width="0.35"/>
<line x1="470.40" y1="114.70" x2="485.40" y2="110.10" stroke="#cbcbcb" stroke-width="0.35"/>
<line x1="470.40" y1="122.60" x2="485.40" y2="112.40" stroke="#cbcbcb" stroke-width="0.35"/>
<line x1="485.40" y1="92.60" x2="500.40" y2="83.00" stroke="#cbcbcb" stroke-width="0.35"/>
<line x1="485.40" y1="94.30" x2="500.40" y2="83.00" stroke="#cbcbcb" stroke-width="0.35"/>
<line x1="485.40" y1="96.60" x2="500.40" y2="88.60" stroke="#cbcbcb" stroke-width="0.35"/>
<line x1="485.40" y1="98.80" x2="500.40" y2="92.00" stroke="#cbcbcb" stroke-width="0.35"/>
<line x1="485.40" y1="101.70" x2="500.40" y2="92.00" stroke="#cbcbcb" stroke-width="0.35"/>
<line x1="485.40" y1="103.90" x2="500.40" y2="94.30" stroke="#cbcbcb" stroke-width="0.35"/>
<line x1="485.40" y1="105.60" x2="500.40" y2="96.60" stroke="#cbcbcb" stroke-width="0.35"/>
<line x1="485.40" y1="107.90" x2="500.40" y2="96.60" stroke="#cbcbcb" stroke-width="0.35"/>
<line x1="485.40" y1="110.10" x2="500.40" y2="98.80" stroke="#cbcbcb" stroke-width="0.35"/>
<line x1="485.40" y1="112.40" x2="500.40" y2="103.30" stroke="#cbcbcb" stroke-width="0.35"/>
<line x1="450.80" y1="88.30" x2="460.00" y2="88.30" stroke="#111" stroke-width="1.0"/>
<line x1="465.80" y1="113.90" x2="475.00" y2="113.90" stroke="#111" stroke-width="1.0"/>
<line x1="480.80" y1="105.30" x2="490.00" y2="105.30" stroke="#111" stroke-width="1.0"/>
<line x1="495.80" y1="95.70" x2="505.00" y2="95.70" stroke="#111" stroke-width="1.0"/>
<circle cx="455.40" cy="80.70" r="2.05" fill="#444444" fill-opacity="0.66"/>
<circle cx="455.40" cy="81.90" r="2.05" fill="#444444" fill-opacity="0.66"/>
<circle cx="455.40" cy="83.00" r="2.05" fill="#444444" fill-opacity="0.66"/>
<circle cx="455.40" cy="84.10" r="2.05" fill="#444444" fill-opacity="0.66"/>
<circle cx="455.40" cy="85.20" r="2.05" fill="#444444" fill-opacity="0.66"/>
<circle cx="455.40" cy="88.10" r="2.05" fill="#444444" fill-opacity="0.66"/>
<circle cx="455.40" cy="93.20" r="2.05" fill="#444444" fill-opacity="0.66"/>
<circle cx="455.40" cy="94.90" r="2.05" fill="#444444" fill-opacity="0.66"/>
<circle cx="455.40" cy="97.10" r="2.05" fill="#444444" fill-opacity="0.66"/>
<circle cx="470.40" cy="100.50" r="2.05" fill="#D55F4D" fill-opacity="0.66"/>
<circle cx="470.40" cy="102.80" r="2.05" fill="#D55F4D" fill-opacity="0.66"/>
<circle cx="470.40" cy="105.00" r="2.05" fill="#D55F4D" fill-opacity="0.66"/>
<circle cx="470.40" cy="106.70" r="2.05" fill="#D55F4D" fill-opacity="0.66"/>
<circle cx="470.40" cy="110.70" r="2.05" fill="#D55F4D" fill-opacity="0.66"/>
<circle cx="470.40" cy="112.40" r="2.05" fill="#D55F4D" fill-opacity="0.66"/>
<circle cx="470.40" cy="114.70" r="2.05" fill="#D55F4D" fill-opacity="0.66"/>
<circle cx="470.40" cy="122.60" r="2.05" fill="#D55F4D" fill-opacity="0.66"/>
<circle cx="485.40" cy="92.60" r="2.05" fill="#3B74B2" fill-opacity="0.66"/>
<circle cx="485.40" cy="94.30" r="2.05" fill="#3B74B2" fill-opacity="0.66"/>
<circle cx="485.40" cy="96.60" r="2.05" fill="#3B74B2" fill-opacity="0.66"/>
<circle cx="485.40" cy="98.80" r="2.05" fill="#3B74B2" fill-opacity="0.66"/>
<circle cx="485.40" cy="101.70" r="2.05" fill="#3B74B2" fill-opacity="0.66"/>
<circle cx="485.40" cy="103.90" r="2.05" fill="#3B74B2" fill-opacity="0.66"/>
<circle cx="485.40" cy="105.60" r="2.05" fill="#3B74B2" fill-opacity="0.66"/>
<circle cx="485.40" cy="107.90" r="2.05" fill="#3B74B2" fill-opacity="0.66"/>
<circle cx="485.40" cy="110.10" r="2.05" fill="#3B74B2" fill-opacity="0.66"/>
<circle cx="485.40" cy="112.40" r="2.05" fill="#3B74B2" fill-opacity="0.66"/>
<circle cx="500.40" cy="83.00" r="2.05" fill="#C9A23A" fill-opacity="0.66"/>
<circle cx="500.40" cy="88.60" r="2.05" fill="#C9A23A" fill-opacity="0.66"/>
<circle cx="500.40" cy="92.00" r="2.05" fill="#C9A23A" fill-opacity="0.66"/>
<circle cx="500.40" cy="94.30" r="2.05" fill="#C9A23A" fill-opacity="0.66"/>
<circle cx="500.40" cy="96.60" r="2.05" fill="#C9A23A" fill-opacity="0.66"/>
<circle cx="500.40" cy="98.80" r="2.05" fill="#C9A23A" fill-opacity="0.66"/>
<circle cx="500.40" cy="103.30" r="2.05" fill="#C9A23A" fill-opacity="0.66"/>
<text x="455.40" y="61.19" font-size="6.4" text-anchor="middle">2237</text>
<text x="470.40" y="61.19" font-size="6.4" text-anchor="middle">80</text>
<text x="470.40" y="55.89" font-size="6.4" text-anchor="middle">28x</text>
<text x="470.40" y="51.72" font-size="6.2" text-anchor="middle">***</text>
<text x="485.40" y="61.19" font-size="6.4" text-anchor="middle">251</text>
<text x="485.40" y="55.89" font-size="6.4" text-anchor="middle">9x</text>
<text x="485.40" y="51.72" font-size="6.2" text-anchor="middle">***</text>
<text x="500.40" y="61.19" font-size="6.4" text-anchor="middle">825</text>
<text x="500.40" y="55.89" font-size="6.4" text-anchor="middle">3x</text>
<text x="500.40" y="51.72" font-size="6.2" text-anchor="middle">***</text>
<text x="443.70" y="163.09" font-size="6.4" text-anchor="middle">Absorbed</text>
<line x1="548.00" y1="46.60" x2="548.00" y2="129.62" stroke="#111" stroke-width="0.85"/>
<line x1="548.00" y1="129.20" x2="592.00" y2="129.20" stroke="#111" stroke-width="0.85"/>
<line x1="545.20" y1="127.40" x2="548.00" y2="127.40" stroke="#111" stroke-width="0.7"/>
<text x="0" y="0" font-size="6.8" transform="translate(541.80 129.83) scale(0.84 1)" text-anchor="end">0</text>
<line x1="545.20" y1="113.50" x2="548.00" y2="113.50" stroke="#111" stroke-width="0.7"/>
<text x="0" y="0" font-size="6.8" transform="translate(541.80 115.93) scale(0.84 1)" text-anchor="end">20</text>
<line x1="545.20" y1="99.40" x2="548.00" y2="99.40" stroke="#111" stroke-width="0.7"/>
<text x="0" y="0" font-size="6.8" transform="translate(541.80 101.83) scale(0.84 1)" text-anchor="end">40</text>
<line x1="545.20" y1="85.50" x2="548.00" y2="85.50" stroke="#111" stroke-width="0.7"/>
<text x="0" y="0" font-size="6.8" transform="translate(541.80 87.93) scale(0.84 1)" text-anchor="end">60</text>
<line x1="545.20" y1="71.30" x2="548.00" y2="71.30" stroke="#111" stroke-width="0.7"/>
<text x="0" y="0" font-size="6.8" transform="translate(541.80 73.73) scale(0.84 1)" text-anchor="end">80</text>
<line x1="545.20" y1="57.70" x2="548.00" y2="57.70" stroke="#111" stroke-width="0.7"/>
<text x="0" y="0" font-size="6.8" transform="translate(541.80 60.13) scale(0.84 1)" text-anchor="end">100</text>
<text x="524.90" y="87.90" font-size="6.3" text-anchor="middle" transform="rotate(-90 524.90 87.90)" dy="2.26">WT<tspan font-size="4.2" dy="-2.4">+</tspan><tspan dy="2.4">BA.5</tspan><tspan font-size="4.2" dy="-2.4">−</tspan><tspan dy="2.4">/ WT</tspan><tspan font-size="4.2" dy="-2.4">+</tspan><tspan dy="2.4"> Titer (%)</tspan></text>
<line x1="559.90" y1="129.20" x2="559.90" y2="131.40" stroke="#111" stroke-width="0.7"/>
<text x="559.90" y="139.09" font-size="6.4" text-anchor="middle">T1</text>
<line x1="580.00" y1="129.20" x2="580.00" y2="131.40" stroke="#111" stroke-width="0.7"/>
<text x="580.00" y="139.09" font-size="6.4" text-anchor="middle">T3</text>
<line x1="559.90" y1="104.30" x2="580.00" y2="110.50" stroke="#d0d0d0" stroke-width="0.35"/>
<line x1="559.90" y1="107.30" x2="580.00" y2="110.50" stroke="#d0d0d0" stroke-width="0.35"/>
<line x1="559.90" y1="110.50" x2="580.00" y2="113.00" stroke="#d0d0d0" stroke-width="0.35"/>
<line x1="559.90" y1="113.50" x2="580.00" y2="115.50" stroke="#d0d0d0" stroke-width="0.35"/>
<line x1="559.90" y1="116.70" x2="580.00" y2="115.50" stroke="#d0d0d0" stroke-width="0.35"/>
<line x1="559.90" y1="119.20" x2="580.00" y2="119.20" stroke="#d0d0d0" stroke-width="0.35"/>
<line x1="559.90" y1="121.70" x2="580.00" y2="121.70" stroke="#d0d0d0" stroke-width="0.35"/>
<line x1="559.90" y1="124.20" x2="580.00" y2="121.70" stroke="#d0d0d0" stroke-width="0.35"/>
<line x1="559.90" y1="126.70" x2="580.00" y2="124.20" stroke="#d0d0d0" stroke-width="0.35"/>
<line x1="555.30" y1="116.70" x2="564.50" y2="116.70" stroke="#111" stroke-width="1.0"/>
<line x1="575.40" y1="118.70" x2="584.60" y2="118.70" stroke="#111" stroke-width="1.0"/>
<circle cx="559.90" cy="104.30" r="2.05" fill="#D55F4D" fill-opacity="0.64"/>
<circle cx="559.90" cy="107.30" r="2.05" fill="#D55F4D" fill-opacity="0.64"/>
<circle cx="559.90" cy="110.50" r="2.05" fill="#D55F4D" fill-opacity="0.64"/>
<circle cx="559.90" cy="113.50" r="2.05" fill="#D55F4D" fill-opacity="0.64"/>
<circle cx="559.90" cy="116.70" r="2.05" fill="#D55F4D" fill-opacity="0.64"/>
<circle cx="559.90" cy="119.20" r="2.05" fill="#D55F4D" fill-opacity="0.64"/>
<circle cx="559.90" cy="121.70" r="2.05" fill="#D55F4D" fill-opacity="0.64"/>
<circle cx="559.90" cy="124.20" r="2.05" fill="#D55F4D" fill-opacity="0.64"/>
<circle cx="559.90" cy="126.70" r="2.05" fill="#D55F4D" fill-opacity="0.64"/>
<circle cx="580.00" cy="110.50" r="2.05" fill="#D55F4D" fill-opacity="0.64"/>
<circle cx="580.00" cy="113.00" r="2.05" fill="#D55F4D" fill-opacity="0.64"/>
<circle cx="580.00" cy="115.50" r="2.05" fill="#D55F4D" fill-opacity="0.64"/>
<circle cx="580.00" cy="119.20" r="2.05" fill="#D55F4D" fill-opacity="0.64"/>
<circle cx="580.00" cy="121.70" r="2.05" fill="#D55F4D" fill-opacity="0.64"/>
<circle cx="580.00" cy="124.20" r="2.05" fill="#D55F4D" fill-opacity="0.64"/>
<line x1="559.90" y1="53.50" x2="580.00" y2="53.50" stroke="#111" stroke-width="0.7"/>
<text x="569.95" y="53.97" font-size="8.3" text-anchor="middle">ns</text>
<text x="0" y="0" font-size="8.6" transform="translate(559.90 62.58) scale(0.84 1)" text-anchor="middle" fill="#CF5A43" style="stroke:#CF5A43">16</text>
<text x="0" y="0" font-size="8.6" transform="translate(580.00 62.58) scale(0.84 1)" text-anchor="middle" fill="#CF5A43" style="stroke:#CF5A43">13</text>
<circle cx="557.20" cy="153.30" r="10.2" fill="#BCA4BC"/>
<path d="M557.20,153.30 L557.20,143.10 A10.2,10.2 0 0 1 565.81,147.83 Z" fill="#C8553F" stroke="#151515" stroke-width="0.85" stroke-linejoin="round"/>
<circle cx="557.20" cy="153.30" r="10.2" fill="none" stroke="#151515" stroke-width="0.85"/>
<circle cx="580.80" cy="153.30" r="10.2" fill="#BCA4BC"/>
<path d="M580.80,153.30 L580.80,143.10 A10.2,10.2 0 0 1 588.24,146.32 Z" fill="#C8553F" stroke="#151515" stroke-width="0.85" stroke-linejoin="round"/>
<circle cx="580.80" cy="153.30" r="10.2" fill="none" stroke="#151515" stroke-width="0.85"/>
<line x1="630.20" y1="46.60" x2="630.20" y2="129.62" stroke="#111" stroke-width="0.85"/>
<line x1="630.20" y1="129.20" x2="674.20" y2="129.20" stroke="#111" stroke-width="0.85"/>
<line x1="627.40" y1="121.50" x2="630.20" y2="121.50" stroke="#111" stroke-width="0.7"/>
<text x="0" y="0" font-size="6.8" transform="translate(624.00 123.93) scale(0.84 1)" text-anchor="end">20</text>
<line x1="627.40" y1="107.30" x2="630.20" y2="107.30" stroke="#111" stroke-width="0.7"/>
<text x="0" y="0" font-size="6.8" transform="translate(624.00 109.73) scale(0.84 1)" text-anchor="end">40</text>
<line x1="627.40" y1="93.00" x2="630.20" y2="93.00" stroke="#111" stroke-width="0.7"/>
<text x="0" y="0" font-size="6.8" transform="translate(624.00 95.43) scale(0.84 1)" text-anchor="end">60</text>
<line x1="627.40" y1="78.50" x2="630.20" y2="78.50" stroke="#111" stroke-width="0.7"/>
<text x="0" y="0" font-size="6.8" transform="translate(624.00 80.93) scale(0.84 1)" text-anchor="end">80</text>
<line x1="627.40" y1="64.30" x2="630.20" y2="64.30" stroke="#111" stroke-width="0.7"/>
<text x="0" y="0" font-size="6.8" transform="translate(624.00 66.73) scale(0.84 1)" text-anchor="end">100</text>
<line x1="627.40" y1="50.20" x2="630.20" y2="50.20" stroke="#111" stroke-width="0.7"/>
<text x="0" y="0" font-size="6.8" transform="translate(624.00 52.63) scale(0.84 1)" text-anchor="end">120</text>
<text x="607.10" y="87.90" font-size="6.3" text-anchor="middle" transform="rotate(-90 607.10 87.90)" dy="2.26">WT<tspan font-size="4.2" dy="-2.4">+</tspan><tspan dy="2.4">XBB.1.5</tspan><tspan font-size="4.2" dy="-2.4">−</tspan><tspan dy="2.4">/ WT</tspan><tspan font-size="4.2" dy="-2.4">+</tspan><tspan dy="2.4"> Titer (%)</tspan></text>
<line x1="642.30" y1="129.20" x2="642.30" y2="131.40" stroke="#111" stroke-width="0.7"/>
<text x="642.30" y="139.09" font-size="6.4" text-anchor="middle">T1</text>
<line x1="662.00" y1="129.20" x2="662.00" y2="131.40" stroke="#111" stroke-width="0.7"/>
<text x="662.00" y="139.09" font-size="6.4" text-anchor="middle">T3</text>
<line x1="642.30" y1="64.30" x2="662.00" y2="80.00" stroke="#d0d0d0" stroke-width="0.35"/>
<line x1="642.30" y1="64.30" x2="662.00" y2="89.30" stroke="#d0d0d0" stroke-width="0.35"/>
<line x1="642.30" y1="77.50" x2="662.00" y2="93.90" stroke="#d0d0d0" stroke-width="0.35"/>
<line x1="642.30" y1="80.70" x2="662.00" y2="94.50" stroke="#d0d0d0" stroke-width="0.35"/>
<line x1="642.30" y1="82.00" x2="662.00" y2="99.80" stroke="#d0d0d0" stroke-width="0.35"/>
<line x1="642.30" y1="87.30" x2="662.00" y2="104.40" stroke="#d0d0d0" stroke-width="0.35"/>
<line x1="642.30" y1="88.60" x2="662.00" y2="107.70" stroke="#d0d0d0" stroke-width="0.35"/>
<line x1="642.30" y1="93.90" x2="662.00" y2="111.00" stroke="#d0d0d0" stroke-width="0.35"/>
<line x1="642.30" y1="96.50" x2="662.00" y2="117.50" stroke="#d0d0d0" stroke-width="0.35"/>
<line x1="642.30" y1="97.80" x2="662.00" y2="122.10" stroke="#d0d0d0" stroke-width="0.35"/>
<line x1="642.30" y1="110.30" x2="662.00" y2="124.10" stroke="#d0d0d0" stroke-width="0.35"/>
<line x1="642.30" y1="116.90" x2="662.00" y2="125.40" stroke="#d0d0d0" stroke-width="0.35"/>
<line x1="637.70" y1="91.20" x2="646.90" y2="91.20" stroke="#111" stroke-width="1.0"/>
<line x1="657.40" y1="107.00" x2="666.60" y2="107.00" stroke="#111" stroke-width="1.0"/>
<circle cx="642.30" cy="64.30" r="2.05" fill="#D55F4D" fill-opacity="0.64"/>
<circle cx="642.30" cy="77.50" r="2.05" fill="#D55F4D" fill-opacity="0.64"/>
<circle cx="642.30" cy="80.70" r="2.05" fill="#D55F4D" fill-opacity="0.64"/>
<circle cx="642.30" cy="82.00" r="2.05" fill="#D55F4D" fill-opacity="0.64"/>
<circle cx="642.30" cy="87.30" r="2.05" fill="#D55F4D" fill-opacity="0.64"/>
<circle cx="642.30" cy="88.60" r="2.05" fill="#D55F4D" fill-opacity="0.64"/>
<circle cx="642.30" cy="93.90" r="2.05" fill="#D55F4D" fill-opacity="0.64"/>
<circle cx="642.30" cy="96.50" r="2.05" fill="#D55F4D" fill-opacity="0.64"/>
<circle cx="642.30" cy="97.80" r="2.05" fill="#D55F4D" fill-opacity="0.64"/>
<circle cx="642.30" cy="110.30" r="2.05" fill="#D55F4D" fill-opacity="0.64"/>
<circle cx="642.30" cy="116.90" r="2.05" fill="#D55F4D" fill-opacity="0.64"/>
<circle cx="662.00" cy="80.00" r="2.05" fill="#D55F4D" fill-opacity="0.64"/>
<circle cx="662.00" cy="89.30" r="2.05" fill="#D55F4D" fill-opacity="0.64"/>
<circle cx="662.00" cy="93.90" r="2.05" fill="#D55F4D" fill-opacity="0.64"/>
<circle cx="662.00" cy="94.50" r="2.05" fill="#D55F4D" fill-opacity="0.64"/>
<circle cx="662.00" cy="99.80" r="2.05" fill="#D55F4D" fill-opacity="0.64"/>
<circle cx="662.00" cy="104.40" r="2.05" fill="#D55F4D" fill-opacity="0.64"/>
<circle cx="662.00" cy="107.70" r="2.05" fill="#D55F4D" fill-opacity="0.64"/>
<circle cx="662.00" cy="111.00" r="2.05" fill="#D55F4D" fill-opacity="0.64"/>
<circle cx="662.00" cy="117.50" r="2.05" fill="#D55F4D" fill-opacity="0.64"/>
<circle cx="662.00" cy="122.10" r="2.05" fill="#D55F4D" fill-opacity="0.64"/>
<circle cx="662.00" cy="124.10" r="2.05" fill="#D55F4D" fill-opacity="0.64"/>
<circle cx="662.00" cy="125.40" r="2.05" fill="#D55F4D" fill-opacity="0.64"/>
<line x1="642.30" y1="53.20" x2="662.00" y2="53.20" stroke="#111" stroke-width="0.7"/>
<text x="652.15" y="51.18" font-size="7.2" text-anchor="middle">**</text>
<text x="0" y="0" font-size="8.6" transform="translate(642.30 62.38) scale(0.84 1)" text-anchor="middle" fill="#CF5A43" style="stroke:#CF5A43">64</text>
<text x="0" y="0" font-size="8.6" transform="translate(662.00 62.38) scale(0.84 1)" text-anchor="middle" fill="#CF5A43" style="stroke:#CF5A43">42</text>
<circle cx="639.60" cy="153.30" r="10.2" fill="#EBBE98"/>
<path d="M639.60,153.30 L639.60,143.10 A10.2,10.2 0 1 1 631.74,159.80 Z" fill="#C8553F" stroke="#151515" stroke-width="0.85" stroke-linejoin="round"/>
<circle cx="639.60" cy="153.30" r="10.2" fill="none" stroke="#151515" stroke-width="0.85"/>
<circle cx="665.10" cy="153.30" r="10.2" fill="#EBBE98"/>
<path d="M665.10,153.30 L665.10,143.10 A10.2,10.2 0 0 1 670.01,162.24 Z" fill="#C8553F" stroke="#151515" stroke-width="0.85" stroke-linejoin="round"/>
<circle cx="665.10" cy="153.30" r="10.2" fill="none" stroke="#151515" stroke-width="0.85"/>
<text x="559.50" y="27.16" font-size="6.3" font-weight="bold">Pie Chart</text>
<rect x="559.20" y="31.80" width="8.60" height="8.60" fill="#C8553F"/>
<text x="570.00" y="38.32" font-size="6.2">WT−specific</text>
<rect x="611.30" y="16.60" width="8.60" height="8.60" fill="#BCA4BC"/>
<text x="622.10" y="19.42" font-size="6.2">BA.5 and WT</text>
<text x="622.10" y="26.82" font-size="6.2">cross−reactive</text>
<rect x="611.30" y="31.90" width="8.60" height="8.60" fill="#EBBE98"/>
<text x="622.10" y="34.72" font-size="6.2">XBB.1.5 and WT</text>
<text x="622.10" y="42.12" font-size="6.2">cross−reactive</text>
<line x1="34.50" y1="214.00" x2="34.50" y2="297.23" stroke="#111" stroke-width="0.85"/>
<line x1="31.50" y1="217.90" x2="34.50" y2="217.90" stroke="#111" stroke-width="0.7"/>
<text x="0" y="0" transform="translate(29.20 221.13) scale(0.9 1)" font-size="6.8" text-anchor="end">2<tspan font-size="4.3" dx="0.6" dy="-3.3">18</tspan></text>
<line x1="31.50" y1="228.76" x2="34.50" y2="228.76" stroke="#111" stroke-width="0.7"/>
<text x="0" y="0" transform="translate(29.20 231.99) scale(0.9 1)" font-size="6.8" text-anchor="end">2<tspan font-size="4.3" dx="0.6" dy="-3.3">16</tspan></text>
<line x1="31.50" y1="239.62" x2="34.50" y2="239.62" stroke="#111" stroke-width="0.7"/>
<text x="0" y="0" transform="translate(29.20 242.85) scale(0.9 1)" font-size="6.8" text-anchor="end">2<tspan font-size="4.3" dx="0.6" dy="-3.3">14</tspan></text>
<line x1="31.50" y1="250.48" x2="34.50" y2="250.48" stroke="#111" stroke-width="0.7"/>
<text x="0" y="0" transform="translate(29.20 253.71) scale(0.9 1)" font-size="6.8" text-anchor="end">2<tspan font-size="4.3" dx="0.6" dy="-3.3">12</tspan></text>
<line x1="31.50" y1="261.34" x2="34.50" y2="261.34" stroke="#111" stroke-width="0.7"/>
<text x="0" y="0" transform="translate(29.20 264.57) scale(0.9 1)" font-size="6.8" text-anchor="end">2<tspan font-size="4.3" dx="0.6" dy="-3.3">10</tspan></text>
<line x1="31.50" y1="272.20" x2="34.50" y2="272.20" stroke="#111" stroke-width="0.7"/>
<text x="0" y="0" transform="translate(29.20 275.43) scale(0.9 1)" font-size="6.8" text-anchor="end">2<tspan font-size="4.3" dx="0.6" dy="-3.3">8</tspan></text>
<line x1="31.50" y1="283.06" x2="34.50" y2="283.06" stroke="#111" stroke-width="0.7"/>
<text x="0" y="0" transform="translate(29.20 286.29) scale(0.9 1)" font-size="6.8" text-anchor="end">2<tspan font-size="4.3" dx="0.6" dy="-3.3">6</tspan></text>
<line x1="31.50" y1="293.92" x2="34.50" y2="293.92" stroke="#111" stroke-width="0.7"/>
<text x="0" y="0" transform="translate(29.20 297.15) scale(0.9 1)" font-size="6.8" text-anchor="end">2<tspan font-size="4.3" dx="0.6" dy="-3.3">4</tspan></text>
<text x="14.00" y="257.01" font-size="6.4" text-anchor="middle" transform="rotate(-90 14.00 257.01)" dy="2.29">pVNT<tspan font-size="4.4" dy="1.6">50</tspan><tspan dy="-1.6"> Titer</tspan></text>
<line x1="34.50" y1="296.80" x2="97.30" y2="296.80" stroke="#111" stroke-width="0.85"/>
<line x1="34.50" y1="278.90" x2="97.30" y2="278.90" stroke="#a0a0a0" stroke-width="0.7" stroke-dasharray="2.2,2"/>
<text x="67.20" y="208.66" font-size="6.3" text-anchor="middle">T1 (n = 10)</text>
<line x1="43.50" y1="296.80" x2="43.50" y2="299.00" stroke="#111" stroke-width="0.7"/>
<text x="43.90" y="301.80" font-size="6.4" text-anchor="end" transform="rotate(-45 43.90 301.80)" dy="4.4">No Dp</text>
<line x1="58.50" y1="296.80" x2="58.50" y2="299.00" stroke="#111" stroke-width="0.7"/>
<text x="58.90" y="301.80" font-size="6.4" text-anchor="end" transform="rotate(-45 58.90 301.80)" dy="4.4">WT</text>
<line x1="73.50" y1="296.80" x2="73.50" y2="299.00" stroke="#111" stroke-width="0.7"/>
<text x="73.90" y="301.80" font-size="6.4" text-anchor="end" transform="rotate(-45 73.90 301.80)" dy="4.4">BA.5</text>
<line x1="88.50" y1="296.80" x2="88.50" y2="299.00" stroke="#111" stroke-width="0.7"/>
<text x="88.90" y="301.80" font-size="6.4" text-anchor="end" transform="rotate(-45 88.90 301.80)" dy="4.4">XBB.1.5</text>
<line x1="43.50" y1="232.70" x2="58.50" y2="237.60" stroke="#cbcbcb" stroke-width="0.35"/>
<line x1="43.50" y1="240.80" x2="58.50" y2="237.60" stroke="#cbcbcb" stroke-width="0.35"/>
<line x1="43.50" y1="241.90" x2="58.50" y2="245.90" stroke="#cbcbcb" stroke-width="0.35"/>
<line x1="43.50" y1="244.20" x2="58.50" y2="254.40" stroke="#cbcbcb" stroke-width="0.35"/>
<line x1="43.50" y1="247.00" x2="58.50" y2="256.10" stroke="#cbcbcb" stroke-width="0.35"/>
<line x1="43.50" y1="247.60" x2="58.50" y2="257.80" stroke="#cbcbcb" stroke-width="0.35"/>
<line x1="43.50" y1="259.50" x2="58.50" y2="259.50" stroke="#cbcbcb" stroke-width="0.35"/>
<line x1="43.50" y1="260.00" x2="58.50" y2="263.40" stroke="#cbcbcb" stroke-width="0.35"/>
<line x1="43.50" y1="264.00" x2="58.50" y2="266.30" stroke="#cbcbcb" stroke-width="0.35"/>
<line x1="58.50" y1="237.60" x2="73.50" y2="241.70" stroke="#cbcbcb" stroke-width="0.35"/>
<line x1="58.50" y1="245.90" x2="73.50" y2="250.40" stroke="#cbcbcb" stroke-width="0.35"/>
<line x1="58.50" y1="254.40" x2="73.50" y2="253.20" stroke="#cbcbcb" stroke-width="0.35"/>
<line x1="58.50" y1="256.10" x2="73.50" y2="255.50" stroke="#cbcbcb" stroke-width="0.35"/>
<line x1="58.50" y1="257.80" x2="73.50" y2="257.80" stroke="#cbcbcb" stroke-width="0.35"/>
<line x1="58.50" y1="259.50" x2="73.50" y2="260.60" stroke="#cbcbcb" stroke-width="0.35"/>
<line x1="58.50" y1="263.40" x2="73.50" y2="262.30" stroke="#cbcbcb" stroke-width="0.35"/>
<line x1="58.50" y1="266.30" x2="73.50" y2="268.00" stroke="#cbcbcb" stroke-width="0.35"/>
<line x1="73.50" y1="241.70" x2="88.50" y2="235.50" stroke="#cbcbcb" stroke-width="0.35"/>
<line x1="73.50" y1="241.70" x2="88.50" y2="243.10" stroke="#cbcbcb" stroke-width="0.35"/>
<line x1="73.50" y1="250.40" x2="88.50" y2="245.90" stroke="#cbcbcb" stroke-width="0.35"/>
<line x1="73.50" y1="253.20" x2="88.50" y2="249.90" stroke="#cbcbcb" stroke-width="0.35"/>
<line x1="73.50" y1="255.50" x2="88.50" y2="252.10" stroke="#cbcbcb" stroke-width="0.35"/>
<line x1="73.50" y1="257.80" x2="88.50" y2="254.40" stroke="#cbcbcb" stroke-width="0.35"/>
<line x1="73.50" y1="260.60" x2="88.50" y2="261.70" stroke="#cbcbcb" stroke-width="0.35"/>
<line x1="73.50" y1="262.30" x2="88.50" y2="263.40" stroke="#cbcbcb" stroke-width="0.35"/>
<line x1="73.50" y1="268.00" x2="88.50" y2="264.60" stroke="#cbcbcb" stroke-width="0.35"/>
<line x1="38.90" y1="250.20" x2="48.10" y2="250.20" stroke="#111" stroke-width="1.0"/>
<line x1="53.90" y1="256.90" x2="63.10" y2="256.90" stroke="#111" stroke-width="1.0"/>
<line x1="68.90" y1="260.30" x2="78.10" y2="260.30" stroke="#111" stroke-width="1.0"/>
<line x1="83.90" y1="253.50" x2="93.10" y2="253.50" stroke="#111" stroke-width="1.0"/>
<circle cx="43.50" cy="232.70" r="2.05" fill="#444444" fill-opacity="0.66"/>
<circle cx="43.50" cy="240.80" r="2.05" fill="#444444" fill-opacity="0.66"/>
<circle cx="43.50" cy="241.90" r="2.05" fill="#444444" fill-opacity="0.66"/>
<circle cx="43.50" cy="244.20" r="2.05" fill="#444444" fill-opacity="0.66"/>
<circle cx="43.50" cy="247.00" r="2.05" fill="#444444" fill-opacity="0.66"/>
<circle cx="43.50" cy="247.60" r="2.05" fill="#444444" fill-opacity="0.66"/>
<circle cx="43.50" cy="259.50" r="2.05" fill="#444444" fill-opacity="0.66"/>
<circle cx="43.50" cy="260.00" r="2.05" fill="#444444" fill-opacity="0.66"/>
<circle cx="43.50" cy="264.00" r="2.05" fill="#444444" fill-opacity="0.66"/>
<circle cx="58.50" cy="237.60" r="2.05" fill="#D55F4D" fill-opacity="0.66"/>
<circle cx="58.50" cy="245.90" r="2.05" fill="#D55F4D" fill-opacity="0.66"/>
<circle cx="58.50" cy="254.40" r="2.05" fill="#D55F4D" fill-opacity="0.66"/>
<circle cx="58.50" cy="256.10" r="2.05" fill="#D55F4D" fill-opacity="0.66"/>
<circle cx="58.50" cy="257.80" r="2.05" fill="#D55F4D" fill-opacity="0.66"/>
<circle cx="58.50" cy="259.50" r="2.05" fill="#D55F4D" fill-opacity="0.66"/>
<circle cx="58.50" cy="263.40" r="2.05" fill="#D55F4D" fill-opacity="0.66"/>
<circle cx="58.50" cy="266.30" r="2.05" fill="#D55F4D" fill-opacity="0.66"/>
<circle cx="73.50" cy="241.70" r="2.05" fill="#3B74B2" fill-opacity="0.66"/>
<circle cx="73.50" cy="250.40" r="2.05" fill="#3B74B2" fill-opacity="0.66"/>
<circle cx="73.50" cy="253.20" r="2.05" fill="#3B74B2" fill-opacity="0.66"/>
<circle cx="73.50" cy="255.50" r="2.05" fill="#3B74B2" fill-opacity="0.66"/>
<circle cx="73.50" cy="257.80" r="2.05" fill="#3B74B2" fill-opacity="0.66"/>
<circle cx="73.50" cy="260.60" r="2.05" fill="#3B74B2" fill-opacity="0.66"/>
<circle cx="73.50" cy="262.30" r="2.05" fill="#3B74B2" fill-opacity="0.66"/>
<circle cx="73.50" cy="268.00" r="2.05" fill="#3B74B2" fill-opacity="0.66"/>
<circle cx="88.50" cy="235.50" r="2.05" fill="#C9A23A" fill-opacity="0.66"/>
<circle cx="88.50" cy="243.10" r="2.05" fill="#C9A23A" fill-opacity="0.66"/>
<circle cx="88.50" cy="245.90" r="2.05" fill="#C9A23A" fill-opacity="0.66"/>
<circle cx="88.50" cy="249.90" r="2.05" fill="#C9A23A" fill-opacity="0.66"/>
<circle cx="88.50" cy="252.10" r="2.05" fill="#C9A23A" fill-opacity="0.66"/>
<circle cx="88.50" cy="254.40" r="2.05" fill="#C9A23A" fill-opacity="0.66"/>
<circle cx="88.50" cy="261.70" r="2.05" fill="#C9A23A" fill-opacity="0.66"/>
<circle cx="88.50" cy="263.40" r="2.05" fill="#C9A23A" fill-opacity="0.66"/>
<circle cx="88.50" cy="264.60" r="2.05" fill="#C9A23A" fill-opacity="0.66"/>
<text x="43.50" y="228.79" font-size="6.4" text-anchor="middle">4622</text>
<text x="58.50" y="228.79" font-size="6.4" text-anchor="middle">1932</text>
<text x="58.50" y="223.49" font-size="6.4" text-anchor="middle">2.4x</text>
<text x="58.50" y="219.32" font-size="6.2" text-anchor="middle">**</text>
<text x="73.50" y="228.79" font-size="6.4" text-anchor="middle">1285</text>
<text x="73.50" y="223.49" font-size="6.4" text-anchor="middle">3.6x</text>
<text x="73.50" y="219.32" font-size="6.2" text-anchor="middle">**</text>
<text x="88.50" y="228.79" font-size="6.4" text-anchor="middle">3114</text>
<text x="88.50" y="223.49" font-size="6.4" text-anchor="middle">1.5x</text>
<text x="88.50" y="219.32" font-size="6.2" text-anchor="middle">**</text>
<line x1="103.50" y1="296.80" x2="166.00" y2="296.80" stroke="#111" stroke-width="0.85"/>
<line x1="103.50" y1="278.90" x2="166.00" y2="278.90" stroke="#a0a0a0" stroke-width="0.7" stroke-dasharray="2.2,2"/>
<text x="133.95" y="208.66" font-size="6.3" text-anchor="middle">T3 (n = 10)</text>
<line x1="112.20" y1="296.80" x2="112.20" y2="299.00" stroke="#111" stroke-width="0.7"/>
<text x="112.60" y="301.80" font-size="6.4" text-anchor="end" transform="rotate(-45 112.60 301.80)" dy="4.4">No Dp</text>
<line x1="127.20" y1="296.80" x2="127.20" y2="299.00" stroke="#111" stroke-width="0.7"/>
<text x="127.60" y="301.80" font-size="6.4" text-anchor="end" transform="rotate(-45 127.60 301.80)" dy="4.4">WT</text>
<line x1="142.20" y1="296.80" x2="142.20" y2="299.00" stroke="#111" stroke-width="0.7"/>
<text x="142.60" y="301.80" font-size="6.4" text-anchor="end" transform="rotate(-45 142.60 301.80)" dy="4.4">BA.5</text>
<line x1="157.20" y1="296.80" x2="157.20" y2="299.00" stroke="#111" stroke-width="0.7"/>
<text x="157.60" y="301.80" font-size="6.4" text-anchor="end" transform="rotate(-45 157.60 301.80)" dy="4.4">XBB.1.5</text>
<line x1="112.20" y1="250.80" x2="127.20" y2="263.40" stroke="#cbcbcb" stroke-width="0.35"/>
<line x1="112.20" y1="252.70" x2="127.20" y2="263.40" stroke="#cbcbcb" stroke-width="0.35"/>
<line x1="112.20" y1="254.40" x2="127.20" y2="269.70" stroke="#cbcbcb" stroke-width="0.35"/>
<line x1="112.20" y1="256.60" x2="127.20" y2="271.30" stroke="#cbcbcb" stroke-width="0.35"/>
<line x1="112.20" y1="266.80" x2="127.20" y2="274.70" stroke="#cbcbcb" stroke-width="0.35"/>
<line x1="112.20" y1="270.80" x2="127.20" y2="278.10" stroke="#cbcbcb" stroke-width="0.35"/>
<line x1="127.20" y1="263.40" x2="142.20" y2="265.70" stroke="#cbcbcb" stroke-width="0.35"/>
<line x1="127.20" y1="269.70" x2="142.20" y2="272.50" stroke="#cbcbcb" stroke-width="0.35"/>
<line x1="127.20" y1="271.30" x2="142.20" y2="275.90" stroke="#cbcbcb" stroke-width="0.35"/>
<line x1="127.20" y1="274.70" x2="142.20" y2="278.10" stroke="#cbcbcb" stroke-width="0.35"/>
<line x1="127.20" y1="278.10" x2="142.20" y2="283.80" stroke="#cbcbcb" stroke-width="0.35"/>
<line x1="142.20" y1="265.70" x2="157.20" y2="257.20" stroke="#cbcbcb" stroke-width="0.35"/>
<line x1="142.20" y1="272.50" x2="157.20" y2="260.00" stroke="#cbcbcb" stroke-width="0.35"/>
<line x1="142.20" y1="275.90" x2="157.20" y2="264.60" stroke="#cbcbcb" stroke-width="0.35"/>
<line x1="142.20" y1="278.10" x2="157.20" y2="270.20" stroke="#cbcbcb" stroke-width="0.35"/>
<line x1="142.20" y1="283.80" x2="157.20" y2="273.00" stroke="#cbcbcb" stroke-width="0.35"/>
<line x1="107.60" y1="261.20" x2="116.80" y2="261.20" stroke="#111" stroke-width="1.0"/>
<line x1="122.60" y1="272.50" x2="131.80" y2="272.50" stroke="#111" stroke-width="1.0"/>
<line x1="137.60" y1="275.30" x2="146.80" y2="275.30" stroke="#111" stroke-width="1.0"/>
<line x1="152.60" y1="266.50" x2="161.80" y2="266.50" stroke="#111" stroke-width="1.0"/>
<circle cx="112.20" cy="250.80" r="2.05" fill="#444444" fill-opacity="0.66"/>
<circle cx="112.20" cy="252.70" r="2.05" fill="#444444" fill-opacity="0.66"/>
<circle cx="112.20" cy="254.40" r="2.05" fill="#444444" fill-opacity="0.66"/>
<circle cx="112.20" cy="256.60" r="2.05" fill="#444444" fill-opacity="0.66"/>
<circle cx="112.20" cy="266.80" r="2.05" fill="#444444" fill-opacity="0.66"/>
<circle cx="112.20" cy="270.80" r="2.05" fill="#444444" fill-opacity="0.66"/>
<circle cx="127.20" cy="263.40" r="2.05" fill="#D55F4D" fill-opacity="0.66"/>
<circle cx="127.20" cy="269.70" r="2.05" fill="#D55F4D" fill-opacity="0.66"/>
<circle cx="127.20" cy="271.30" r="2.05" fill="#D55F4D" fill-opacity="0.66"/>
<circle cx="127.20" cy="274.70" r="2.05" fill="#D55F4D" fill-opacity="0.66"/>
<circle cx="127.20" cy="278.10" r="2.05" fill="#D55F4D" fill-opacity="0.66"/>
<circle cx="142.20" cy="265.70" r="2.05" fill="#3B74B2" fill-opacity="0.66"/>
<circle cx="142.20" cy="272.50" r="2.05" fill="#3B74B2" fill-opacity="0.66"/>
<circle cx="142.20" cy="275.90" r="2.05" fill="#3B74B2" fill-opacity="0.66"/>
<circle cx="142.20" cy="278.10" r="2.05" fill="#3B74B2" fill-opacity="0.66"/>
<circle cx="142.20" cy="283.80" r="2.05" fill="#3B74B2" fill-opacity="0.66"/>
<circle cx="157.20" cy="257.20" r="2.05" fill="#C9A23A" fill-opacity="0.66"/>
<circle cx="157.20" cy="260.00" r="2.05" fill="#C9A23A" fill-opacity="0.66"/>
<circle cx="157.20" cy="264.60" r="2.05" fill="#C9A23A" fill-opacity="0.66"/>
<circle cx="157.20" cy="270.20" r="2.05" fill="#C9A23A" fill-opacity="0.66"/>
<circle cx="157.20" cy="273.00" r="2.05" fill="#C9A23A" fill-opacity="0.66"/>
<text x="112.20" y="228.79" font-size="6.4" text-anchor="middle">1102</text>
<text x="127.20" y="228.79" font-size="6.4" text-anchor="middle">270</text>
<text x="127.20" y="223.49" font-size="6.4" text-anchor="middle">3.6x</text>
<text x="127.20" y="219.32" font-size="6.2" text-anchor="middle">*</text>
<text x="142.20" y="228.79" font-size="6.4" text-anchor="middle">186</text>
<text x="142.20" y="223.49" font-size="6.4" text-anchor="middle">5.9x</text>
<text x="142.20" y="219.32" font-size="6.2" text-anchor="middle">**</text>
<text x="157.20" y="228.79" font-size="6.4" text-anchor="middle">567</text>
<text x="157.20" y="223.49" font-size="6.4" text-anchor="middle">1.9x</text>
<text x="157.20" y="219.32" font-size="6.2" text-anchor="middle">**</text>
<text x="100.50" y="330.69" font-size="6.4" text-anchor="middle">Absorbed</text>
<line x1="204.20" y1="214.20" x2="204.20" y2="297.23" stroke="#111" stroke-width="0.85"/>
<line x1="204.20" y1="296.80" x2="248.20" y2="296.80" stroke="#111" stroke-width="0.85"/>
<line x1="201.40" y1="295.60" x2="204.20" y2="295.60" stroke="#111" stroke-width="0.7"/>
<text x="0" y="0" font-size="6.8" transform="translate(198.00 298.03) scale(0.84 1)" text-anchor="end">0</text>
<line x1="201.40" y1="282.50" x2="204.20" y2="282.50" stroke="#111" stroke-width="0.7"/>
<text x="0" y="0" font-size="6.8" transform="translate(198.00 284.93) scale(0.84 1)" text-anchor="end">20</text>
<line x1="201.40" y1="269.60" x2="204.20" y2="269.60" stroke="#111" stroke-width="0.7"/>
<text x="0" y="0" font-size="6.8" transform="translate(198.00 272.03) scale(0.84 1)" text-anchor="end">40</text>
<line x1="201.40" y1="256.50" x2="204.20" y2="256.50" stroke="#111" stroke-width="0.7"/>
<text x="0" y="0" font-size="6.8" transform="translate(198.00 258.93) scale(0.84 1)" text-anchor="end">60</text>
<line x1="201.40" y1="243.60" x2="204.20" y2="243.60" stroke="#111" stroke-width="0.7"/>
<text x="0" y="0" font-size="6.8" transform="translate(198.00 246.03) scale(0.84 1)" text-anchor="end">80</text>
<line x1="201.40" y1="230.80" x2="204.20" y2="230.80" stroke="#111" stroke-width="0.7"/>
<text x="0" y="0" font-size="6.8" transform="translate(198.00 233.23) scale(0.84 1)" text-anchor="end">100</text>
<line x1="201.40" y1="217.90" x2="204.20" y2="217.90" stroke="#111" stroke-width="0.7"/>
<text x="0" y="0" font-size="6.8" transform="translate(198.00 220.33) scale(0.84 1)" text-anchor="end">120</text>
<text x="181.10" y="255.50" font-size="6.3" text-anchor="middle" transform="rotate(-90 181.10 255.50)" dy="2.26">BA.5<tspan font-size="4.2" dy="-2.4">+</tspan><tspan dy="2.4">WT</tspan><tspan font-size="4.2" dy="-2.4">−</tspan><tspan dy="2.4">/ BA.5</tspan><tspan font-size="4.2" dy="-2.4">+</tspan><tspan dy="2.4"> Titer (%)</tspan></text>
<line x1="216.40" y1="296.80" x2="216.40" y2="299.00" stroke="#111" stroke-width="0.7"/>
<text x="216.40" y="306.69" font-size="6.4" text-anchor="middle">T1</text>
<line x1="236.30" y1="296.80" x2="236.30" y2="299.00" stroke="#111" stroke-width="0.7"/>
<text x="236.30" y="306.69" font-size="6.4" text-anchor="middle">T3</text>
<line x1="216.40" y1="250.60" x2="236.30" y2="253.30" stroke="#d0d0d0" stroke-width="0.35"/>
<line x1="216.40" y1="258.50" x2="236.30" y2="253.30" stroke="#d0d0d0" stroke-width="0.35"/>
<line x1="216.40" y1="260.60" x2="236.30" y2="257.10" stroke="#d0d0d0" stroke-width="0.35"/>
<line x1="216.40" y1="261.20" x2="236.30" y2="274.00" stroke="#d0d0d0" stroke-width="0.35"/>
<line x1="216.40" y1="271.10" x2="236.30" y2="275.80" stroke="#d0d0d0" stroke-width="0.35"/>
<line x1="216.40" y1="272.80" x2="236.30" y2="278.70" stroke="#d0d0d0" stroke-width="0.35"/>
<line x1="216.40" y1="274.60" x2="236.30" y2="281.00" stroke="#d0d0d0" stroke-width="0.35"/>
<line x1="216.40" y1="280.70" x2="236.30" y2="282.80" stroke="#d0d0d0" stroke-width="0.35"/>
<line x1="216.40" y1="290.90" x2="236.30" y2="292.70" stroke="#d0d0d0" stroke-width="0.35"/>
<line x1="211.80" y1="269.60" x2="221.00" y2="269.60" stroke="#111" stroke-width="1.0"/>
<line x1="231.70" y1="276.30" x2="240.90" y2="276.30" stroke="#111" stroke-width="1.0"/>
<circle cx="216.40" cy="250.60" r="2.05" fill="#3B74B2" fill-opacity="0.64"/>
<circle cx="216.40" cy="258.50" r="2.05" fill="#3B74B2" fill-opacity="0.64"/>
<circle cx="216.40" cy="260.60" r="2.05" fill="#3B74B2" fill-opacity="0.64"/>
<circle cx="216.40" cy="261.20" r="2.05" fill="#3B74B2" fill-opacity="0.64"/>
<circle cx="216.40" cy="271.10" r="2.05" fill="#3B74B2" fill-opacity="0.64"/>
<circle cx="216.40" cy="272.80" r="2.05" fill="#3B74B2" fill-opacity="0.64"/>
<circle cx="216.40" cy="274.60" r="2.05" fill="#3B74B2" fill-opacity="0.64"/>
<circle cx="216.40" cy="280.70" r="2.05" fill="#3B74B2" fill-opacity="0.64"/>
<circle cx="216.40" cy="290.90" r="2.05" fill="#3B74B2" fill-opacity="0.64"/>
<circle cx="236.30" cy="253.30" r="2.05" fill="#3B74B2" fill-opacity="0.64"/>
<circle cx="236.30" cy="257.10" r="2.05" fill="#3B74B2" fill-opacity="0.64"/>
<circle cx="236.30" cy="274.00" r="2.05" fill="#3B74B2" fill-opacity="0.64"/>
<circle cx="236.30" cy="275.80" r="2.05" fill="#3B74B2" fill-opacity="0.64"/>
<circle cx="236.30" cy="278.70" r="2.05" fill="#3B74B2" fill-opacity="0.64"/>
<circle cx="236.30" cy="281.00" r="2.05" fill="#3B74B2" fill-opacity="0.64"/>
<circle cx="236.30" cy="282.80" r="2.05" fill="#3B74B2" fill-opacity="0.64"/>
<circle cx="236.30" cy="292.70" r="2.05" fill="#3B74B2" fill-opacity="0.64"/>
<line x1="216.40" y1="221.10" x2="236.30" y2="221.10" stroke="#111" stroke-width="0.7"/>
<text x="226.35" y="221.27" font-size="8.3" text-anchor="middle">ns</text>
<text x="0" y="0" font-size="8.6" transform="translate(216.40 229.18) scale(0.84 1)" text-anchor="middle" fill="#3F6EAD" style="stroke:#3F6EAD">42</text>
<text x="0" y="0" font-size="8.6" transform="translate(236.30 229.18) scale(0.84 1)" text-anchor="middle" fill="#3F6EAD" style="stroke:#3F6EAD">31</text>
<circle cx="213.60" cy="320.80" r="10.2" fill="#BCA4BC"/>
<path d="M213.60,320.80 L213.60,310.60 A10.2,10.2 0 0 1 218.51,329.74 Z" fill="#28518D" stroke="#151515" stroke-width="0.85" stroke-linejoin="round"/>
<circle cx="213.60" cy="320.80" r="10.2" fill="none" stroke="#151515" stroke-width="0.85"/>
<circle cx="237.70" cy="320.80" r="10.2" fill="#BCA4BC"/>
<path d="M237.70,320.80 L237.70,310.60 A10.2,10.2 0 0 1 247.18,324.55 Z" fill="#28518D" stroke="#151515" stroke-width="0.85" stroke-linejoin="round"/>
<circle cx="237.70" cy="320.80" r="10.2" fill="none" stroke="#151515" stroke-width="0.85"/>
<line x1="286.90" y1="214.20" x2="286.90" y2="297.23" stroke="#111" stroke-width="0.85"/>
<line x1="286.90" y1="296.80" x2="330.90" y2="296.80" stroke="#111" stroke-width="0.85"/>
<line x1="284.10" y1="286.90" x2="286.90" y2="286.90" stroke="#111" stroke-width="0.7"/>
<text x="0" y="0" font-size="6.8" transform="translate(280.70 289.33) scale(0.84 1)" text-anchor="end">40</text>
<line x1="284.10" y1="269.60" x2="286.90" y2="269.60" stroke="#111" stroke-width="0.7"/>
<text x="0" y="0" font-size="6.8" transform="translate(280.70 272.03) scale(0.84 1)" text-anchor="end">60</text>
<line x1="284.10" y1="252.40" x2="286.90" y2="252.40" stroke="#111" stroke-width="0.7"/>
<text x="0" y="0" font-size="6.8" transform="translate(280.70 254.83) scale(0.84 1)" text-anchor="end">80</text>
<line x1="284.10" y1="235.20" x2="286.90" y2="235.20" stroke="#111" stroke-width="0.7"/>
<text x="0" y="0" font-size="6.8" transform="translate(280.70 237.63) scale(0.84 1)" text-anchor="end">100</text>
<line x1="284.10" y1="217.90" x2="286.90" y2="217.90" stroke="#111" stroke-width="0.7"/>
<text x="0" y="0" font-size="6.8" transform="translate(280.70 220.33) scale(0.84 1)" text-anchor="end">120</text>
<text x="263.80" y="255.50" font-size="6.3" text-anchor="middle" transform="rotate(-90 263.80 255.50)" dy="2.26">BA.5<tspan font-size="4.2" dy="-2.4">+</tspan><tspan dy="2.4">XBB.1.5</tspan><tspan font-size="4.2" dy="-2.4">−</tspan><tspan dy="2.4">/ BA.5</tspan><tspan font-size="4.2" dy="-2.4">+</tspan><tspan dy="2.4"> Titer (%)</tspan></text>
<line x1="298.80" y1="296.80" x2="298.80" y2="299.00" stroke="#111" stroke-width="0.7"/>
<text x="298.80" y="306.69" font-size="6.4" text-anchor="middle">T1</text>
<line x1="318.70" y1="296.80" x2="318.70" y2="299.00" stroke="#111" stroke-width="0.7"/>
<text x="318.70" y="306.69" font-size="6.4" text-anchor="middle">T3</text>
<line x1="298.80" y1="235.20" x2="318.70" y2="253.60" stroke="#d0d0d0" stroke-width="0.35"/>
<line x1="298.80" y1="235.20" x2="318.70" y2="257.60" stroke="#d0d0d0" stroke-width="0.35"/>
<line x1="298.80" y1="254.70" x2="318.70" y2="270.50" stroke="#d0d0d0" stroke-width="0.35"/>
<line x1="298.80" y1="255.70" x2="318.70" y2="275.80" stroke="#d0d0d0" stroke-width="0.35"/>
<line x1="298.80" y1="260.00" x2="318.70" y2="280.40" stroke="#d0d0d0" stroke-width="0.35"/>
<line x1="298.80" y1="261.20" x2="318.70" y2="282.20" stroke="#d0d0d0" stroke-width="0.35"/>
<line x1="298.80" y1="262.30" x2="318.70" y2="283.90" stroke="#d0d0d0" stroke-width="0.35"/>
<line x1="298.80" y1="274.00" x2="318.70" y2="285.70" stroke="#d0d0d0" stroke-width="0.35"/>
<line x1="298.80" y1="289.80" x2="318.70" y2="293.00" stroke="#d0d0d0" stroke-width="0.35"/>
<line x1="294.20" y1="262.60" x2="303.40" y2="262.60" stroke="#111" stroke-width="1.0"/>
<line x1="314.10" y1="276.30" x2="323.30" y2="276.30" stroke="#111" stroke-width="1.0"/>
<circle cx="298.80" cy="235.20" r="2.05" fill="#3B74B2" fill-opacity="0.64"/>
<circle cx="298.80" cy="254.70" r="2.05" fill="#3B74B2" fill-opacity="0.64"/>
<circle cx="298.80" cy="255.70" r="2.05" fill="#3B74B2" fill-opacity="0.64"/>
<circle cx="298.80" cy="260.00" r="2.05" fill="#3B74B2" fill-opacity="0.64"/>
<circle cx="298.80" cy="261.20" r="2.05" fill="#3B74B2" fill-opacity="0.64"/>
<circle cx="298.80" cy="262.30" r="2.05" fill="#3B74B2" fill-opacity="0.64"/>
<circle cx="298.80" cy="274.00" r="2.05" fill="#3B74B2" fill-opacity="0.64"/>
<circle cx="298.80" cy="289.80" r="2.05" fill="#3B74B2" fill-opacity="0.64"/>
<circle cx="318.70" cy="253.60" r="2.05" fill="#3B74B2" fill-opacity="0.64"/>
<circle cx="318.70" cy="257.60" r="2.05" fill="#3B74B2" fill-opacity="0.64"/>
<circle cx="318.70" cy="270.50" r="2.05" fill="#3B74B2" fill-opacity="0.64"/>
<circle cx="318.70" cy="275.80" r="2.05" fill="#3B74B2" fill-opacity="0.64"/>
<circle cx="318.70" cy="280.40" r="2.05" fill="#3B74B2" fill-opacity="0.64"/>
<circle cx="318.70" cy="282.20" r="2.05" fill="#3B74B2" fill-opacity="0.64"/>
<circle cx="318.70" cy="283.90" r="2.05" fill="#3B74B2" fill-opacity="0.64"/>
<circle cx="318.70" cy="285.70" r="2.05" fill="#3B74B2" fill-opacity="0.64"/>
<circle cx="318.70" cy="293.00" r="2.05" fill="#3B74B2" fill-opacity="0.64"/>
<line x1="298.80" y1="221.10" x2="318.70" y2="221.10" stroke="#111" stroke-width="0.7"/>
<text x="308.75" y="221.27" font-size="8.3" text-anchor="middle">ns</text>
<text x="0" y="0" font-size="8.6" transform="translate(298.80 229.18) scale(0.84 1)" text-anchor="middle" fill="#3F6EAD" style="stroke:#3F6EAD">69</text>
<text x="0" y="0" font-size="8.6" transform="translate(318.70 229.18) scale(0.84 1)" text-anchor="middle" fill="#3F6EAD" style="stroke:#3F6EAD">53</text>
<circle cx="296.10" cy="320.80" r="10.2" fill="#C8D4D4"/>
<path d="M296.10,320.80 L296.10,310.60 A10.2,10.2 0 1 1 286.62,324.55 Z" fill="#28518D" stroke="#151515" stroke-width="0.85" stroke-linejoin="round"/>
<circle cx="296.10" cy="320.80" r="10.2" fill="none" stroke="#151515" stroke-width="0.85"/>
<circle cx="321.30" cy="320.80" r="10.2" fill="#C8D4D4"/>
<path d="M321.30,320.80 L321.30,310.60 A10.2,10.2 0 1 1 319.39,330.82 Z" fill="#28518D" stroke="#151515" stroke-width="0.85" stroke-linejoin="round"/>
<circle cx="321.30" cy="320.80" r="10.2" fill="none" stroke="#151515" stroke-width="0.85"/>
<line x1="377.70" y1="214.00" x2="377.70" y2="297.23" stroke="#111" stroke-width="0.85"/>
<line x1="374.70" y1="217.90" x2="377.70" y2="217.90" stroke="#111" stroke-width="0.7"/>
<text x="0" y="0" transform="translate(372.40 221.13) scale(0.9 1)" font-size="6.8" text-anchor="end">2<tspan font-size="4.3" dx="0.6" dy="-3.3">18</tspan></text>
<line x1="374.70" y1="228.76" x2="377.70" y2="228.76" stroke="#111" stroke-width="0.7"/>
<text x="0" y="0" transform="translate(372.40 231.99) scale(0.9 1)" font-size="6.8" text-anchor="end">2<tspan font-size="4.3" dx="0.6" dy="-3.3">16</tspan></text>
<line x1="374.70" y1="239.62" x2="377.70" y2="239.62" stroke="#111" stroke-width="0.7"/>
<text x="0" y="0" transform="translate(372.40 242.85) scale(0.9 1)" font-size="6.8" text-anchor="end">2<tspan font-size="4.3" dx="0.6" dy="-3.3">14</tspan></text>
<line x1="374.70" y1="250.48" x2="377.70" y2="250.48" stroke="#111" stroke-width="0.7"/>
<text x="0" y="0" transform="translate(372.40 253.71) scale(0.9 1)" font-size="6.8" text-anchor="end">2<tspan font-size="4.3" dx="0.6" dy="-3.3">12</tspan></text>
<line x1="374.70" y1="261.34" x2="377.70" y2="261.34" stroke="#111" stroke-width="0.7"/>
<text x="0" y="0" transform="translate(372.40 264.57) scale(0.9 1)" font-size="6.8" text-anchor="end">2<tspan font-size="4.3" dx="0.6" dy="-3.3">10</tspan></text>
<line x1="374.70" y1="272.20" x2="377.70" y2="272.20" stroke="#111" stroke-width="0.7"/>
<text x="0" y="0" transform="translate(372.40 275.43) scale(0.9 1)" font-size="6.8" text-anchor="end">2<tspan font-size="4.3" dx="0.6" dy="-3.3">8</tspan></text>
<line x1="374.70" y1="283.06" x2="377.70" y2="283.06" stroke="#111" stroke-width="0.7"/>
<text x="0" y="0" transform="translate(372.40 286.29) scale(0.9 1)" font-size="6.8" text-anchor="end">2<tspan font-size="4.3" dx="0.6" dy="-3.3">6</tspan></text>
<line x1="374.70" y1="293.92" x2="377.70" y2="293.92" stroke="#111" stroke-width="0.7"/>
<text x="0" y="0" transform="translate(372.40 297.15) scale(0.9 1)" font-size="6.8" text-anchor="end">2<tspan font-size="4.3" dx="0.6" dy="-3.3">4</tspan></text>
<text x="357.20" y="257.01" font-size="6.4" text-anchor="middle" transform="rotate(-90 357.20 257.01)" dy="2.29">pVNT<tspan font-size="4.4" dy="1.6">50</tspan><tspan dy="-1.6"> Titer</tspan></text>
<line x1="377.70" y1="296.80" x2="440.50" y2="296.80" stroke="#111" stroke-width="0.85"/>
<line x1="377.70" y1="278.90" x2="440.50" y2="278.90" stroke="#a0a0a0" stroke-width="0.7" stroke-dasharray="2.2,2"/>
<text x="410.40" y="208.66" font-size="6.3" text-anchor="middle">T1 (n = 12)</text>
<line x1="386.70" y1="296.80" x2="386.70" y2="299.00" stroke="#111" stroke-width="0.7"/>
<text x="387.10" y="301.80" font-size="6.4" text-anchor="end" transform="rotate(-45 387.10 301.80)" dy="4.4">No Dp</text>
<line x1="401.70" y1="296.80" x2="401.70" y2="299.00" stroke="#111" stroke-width="0.7"/>
<text x="402.10" y="301.80" font-size="6.4" text-anchor="end" transform="rotate(-45 402.10 301.80)" dy="4.4">WT</text>
<line x1="416.70" y1="296.80" x2="416.70" y2="299.00" stroke="#111" stroke-width="0.7"/>
<text x="417.10" y="301.80" font-size="6.4" text-anchor="end" transform="rotate(-45 417.10 301.80)" dy="4.4">BA.5</text>
<line x1="431.70" y1="296.80" x2="431.70" y2="299.00" stroke="#111" stroke-width="0.7"/>
<text x="432.10" y="301.80" font-size="6.4" text-anchor="end" transform="rotate(-45 432.10 301.80)" dy="4.4">XBB.1.5</text>
<line x1="386.70" y1="244.80" x2="401.70" y2="257.80" stroke="#cbcbcb" stroke-width="0.35"/>
<line x1="386.70" y1="244.80" x2="401.70" y2="260.00" stroke="#cbcbcb" stroke-width="0.35"/>
<line x1="386.70" y1="246.50" x2="401.70" y2="261.70" stroke="#cbcbcb" stroke-width="0.35"/>
<line x1="386.70" y1="247.60" x2="401.70" y2="263.40" stroke="#cbcbcb" stroke-width="0.35"/>
<line x1="386.70" y1="249.30" x2="401.70" y2="265.10" stroke="#cbcbcb" stroke-width="0.35"/>
<line x1="386.70" y1="255.50" x2="401.70" y2="266.80" stroke="#cbcbcb" stroke-width="0.35"/>
<line x1="386.70" y1="257.80" x2="401.70" y2="268.50" stroke="#cbcbcb" stroke-width="0.35"/>
<line x1="386.70" y1="260.00" x2="401.70" y2="271.90" stroke="#cbcbcb" stroke-width="0.35"/>
<line x1="386.70" y1="261.20" x2="401.70" y2="279.30" stroke="#cbcbcb" stroke-width="0.35"/>
<line x1="386.70" y1="276.40" x2="401.70" y2="290.60" stroke="#cbcbcb" stroke-width="0.35"/>
<line x1="401.70" y1="257.80" x2="416.70" y2="259.10" stroke="#cbcbcb" stroke-width="0.35"/>
<line x1="401.70" y1="260.00" x2="416.70" y2="264.60" stroke="#cbcbcb" stroke-width="0.35"/>
<line x1="401.70" y1="261.70" x2="416.70" y2="266.30" stroke="#cbcbcb" stroke-width="0.35"/>
<line x1="401.70" y1="263.40" x2="416.70" y2="268.00" stroke="#cbcbcb" stroke-width="0.35"/>
<line x1="401.70" y1="265.10" x2="416.70" y2="269.70" stroke="#cbcbcb" stroke-width="0.35"/>
<line x1="401.70" y1="266.80" x2="416.70" y2="271.30" stroke="#cbcbcb" stroke-width="0.35"/>
<line x1="401.70" y1="268.50" x2="416.70" y2="273.00" stroke="#cbcbcb" stroke-width="0.35"/>
<line x1="401.70" y1="271.90" x2="416.70" y2="275.90" stroke="#cbcbcb" stroke-width="0.35"/>
<line x1="401.70" y1="279.30" x2="416.70" y2="278.70" stroke="#cbcbcb" stroke-width="0.35"/>
<line x1="401.70" y1="290.60" x2="416.70" y2="290.60" stroke="#cbcbcb" stroke-width="0.35"/>
<line x1="416.70" y1="259.10" x2="431.70" y2="247.60" stroke="#cbcbcb" stroke-width="0.35"/>
<line x1="416.70" y1="264.60" x2="431.70" y2="247.60" stroke="#cbcbcb" stroke-width="0.35"/>
<line x1="416.70" y1="266.30" x2="431.70" y2="251.60" stroke="#cbcbcb" stroke-width="0.35"/>
<line x1="416.70" y1="268.00" x2="431.70" y2="254.90" stroke="#cbcbcb" stroke-width="0.35"/>
<line x1="416.70" y1="269.70" x2="431.70" y2="256.60" stroke="#cbcbcb" stroke-width="0.35"/>
<line x1="416.70" y1="271.30" x2="431.70" y2="258.90" stroke="#cbcbcb" stroke-width="0.35"/>
<line x1="416.70" y1="273.00" x2="431.70" y2="261.20" stroke="#cbcbcb" stroke-width="0.35"/>
<line x1="416.70" y1="275.90" x2="431.70" y2="263.40" stroke="#cbcbcb" stroke-width="0.35"/>
<line x1="416.70" y1="278.70" x2="431.70" y2="266.80" stroke="#cbcbcb" stroke-width="0.35"/>
<line x1="416.70" y1="290.60" x2="431.70" y2="275.90" stroke="#cbcbcb" stroke-width="0.35"/>
<line x1="382.10" y1="256.60" x2="391.30" y2="256.60" stroke="#111" stroke-width="1.0"/>
<line x1="397.10" y1="269.10" x2="406.30" y2="269.10" stroke="#111" stroke-width="1.0"/>
<line x1="412.10" y1="271.10" x2="421.30" y2="271.10" stroke="#111" stroke-width="1.0"/>
<line x1="427.10" y1="260.30" x2="436.30" y2="260.30" stroke="#111" stroke-width="1.0"/>
<circle cx="386.70" cy="244.80" r="2.05" fill="#444444" fill-opacity="0.66"/>
<circle cx="386.70" cy="246.50" r="2.05" fill="#444444" fill-opacity="0.66"/>
<circle cx="386.70" cy="247.60" r="2.05" fill="#444444" fill-opacity="0.66"/>
<circle cx="386.70" cy="249.30" r="2.05" fill="#444444" fill-opacity="0.66"/>
<circle cx="386.70" cy="255.50" r="2.05" fill="#444444" fill-opacity="0.66"/>
<circle cx="386.70" cy="257.80" r="2.05" fill="#444444" fill-opacity="0.66"/>
<circle cx="386.70" cy="260.00" r="2.05" fill="#444444" fill-opacity="0.66"/>
<circle cx="386.70" cy="261.20" r="2.05" fill="#444444" fill-opacity="0.66"/>
<circle cx="386.70" cy="276.40" r="2.05" fill="#444444" fill-opacity="0.66"/>
<circle cx="401.70" cy="257.80" r="2.05" fill="#D55F4D" fill-opacity="0.66"/>
<circle cx="401.70" cy="260.00" r="2.05" fill="#D55F4D" fill-opacity="0.66"/>
<circle cx="401.70" cy="261.70" r="2.05" fill="#D55F4D" fill-opacity="0.66"/>
<circle cx="401.70" cy="263.40" r="2.05" fill="#D55F4D" fill-opacity="0.66"/>
<circle cx="401.70" cy="265.10" r="2.05" fill="#D55F4D" fill-opacity="0.66"/>
<circle cx="401.70" cy="266.80" r="2.05" fill="#D55F4D" fill-opacity="0.66"/>
<circle cx="401.70" cy="268.50" r="2.05" fill="#D55F4D" fill-opacity="0.66"/>
<circle cx="401.70" cy="271.90" r="2.05" fill="#D55F4D" fill-opacity="0.66"/>
<circle cx="401.70" cy="279.30" r="2.05" fill="#D55F4D" fill-opacity="0.66"/>
<circle cx="401.70" cy="290.60" r="2.05" fill="#D55F4D" fill-opacity="0.66"/>
<circle cx="416.70" cy="259.10" r="2.05" fill="#3B74B2" fill-opacity="0.66"/>
<circle cx="416.70" cy="264.60" r="2.05" fill="#3B74B2" fill-opacity="0.66"/>
<circle cx="416.70" cy="266.30" r="2.05" fill="#3B74B2" fill-opacity="0.66"/>
<circle cx="416.70" cy="268.00" r="2.05" fill="#3B74B2" fill-opacity="0.66"/>
<circle cx="416.70" cy="269.70" r="2.05" fill="#3B74B2" fill-opacity="0.66"/>
<circle cx="416.70" cy="271.30" r="2.05" fill="#3B74B2" fill-opacity="0.66"/>
<circle cx="416.70" cy="273.00" r="2.05" fill="#3B74B2" fill-opacity="0.66"/>
<circle cx="416.70" cy="275.90" r="2.05" fill="#3B74B2" fill-opacity="0.66"/>
<circle cx="416.70" cy="278.70" r="2.05" fill="#3B74B2" fill-opacity="0.66"/>
<circle cx="416.70" cy="290.60" r="2.05" fill="#3B74B2" fill-opacity="0.66"/>
<circle cx="431.70" cy="247.60" r="2.05" fill="#C9A23A" fill-opacity="0.66"/>
<circle cx="431.70" cy="251.60" r="2.05" fill="#C9A23A" fill-opacity="0.66"/>
<circle cx="431.70" cy="254.90" r="2.05" fill="#C9A23A" fill-opacity="0.66"/>
<circle cx="431.70" cy="256.60" r="2.05" fill="#C9A23A" fill-opacity="0.66"/>
<circle cx="431.70" cy="258.90" r="2.05" fill="#C9A23A" fill-opacity="0.66"/>
<circle cx="431.70" cy="261.20" r="2.05" fill="#C9A23A" fill-opacity="0.66"/>
<circle cx="431.70" cy="263.40" r="2.05" fill="#C9A23A" fill-opacity="0.66"/>
<circle cx="431.70" cy="266.80" r="2.05" fill="#C9A23A" fill-opacity="0.66"/>
<circle cx="431.70" cy="275.90" r="2.05" fill="#C9A23A" fill-opacity="0.66"/>
<text x="386.70" y="228.79" font-size="6.4" text-anchor="middle">1959</text>
<text x="401.70" y="228.79" font-size="6.4" text-anchor="middle">402</text>
<text x="401.70" y="223.49" font-size="6.4" text-anchor="middle">5x</text>
<text x="401.70" y="219.32" font-size="6.2" text-anchor="middle">***</text>
<text x="416.70" y="228.79" font-size="6.4" text-anchor="middle">308</text>
<text x="416.70" y="223.49" font-size="6.4" text-anchor="middle">6x</text>
<text x="416.70" y="219.32" font-size="6.2" text-anchor="middle">***</text>
<text x="431.70" y="228.79" font-size="6.4" text-anchor="middle">1255</text>
<text x="431.70" y="223.49" font-size="6.4" text-anchor="middle">1.6x</text>
<text x="431.70" y="219.32" font-size="6.2" text-anchor="middle">*</text>
<line x1="446.70" y1="296.80" x2="509.20" y2="296.80" stroke="#111" stroke-width="0.85"/>
<line x1="446.70" y1="278.90" x2="509.20" y2="278.90" stroke="#a0a0a0" stroke-width="0.7" stroke-dasharray="2.2,2"/>
<text x="477.15" y="208.66" font-size="6.3" text-anchor="middle">T3 (n = 12)</text>
<line x1="455.40" y1="296.80" x2="455.40" y2="299.00" stroke="#111" stroke-width="0.7"/>
<text x="455.80" y="301.80" font-size="6.4" text-anchor="end" transform="rotate(-45 455.80 301.80)" dy="4.4">No Dp</text>
<line x1="470.40" y1="296.80" x2="470.40" y2="299.00" stroke="#111" stroke-width="0.7"/>
<text x="470.80" y="301.80" font-size="6.4" text-anchor="end" transform="rotate(-45 470.80 301.80)" dy="4.4">WT</text>
<line x1="485.40" y1="296.80" x2="485.40" y2="299.00" stroke="#111" stroke-width="0.7"/>
<text x="485.80" y="301.80" font-size="6.4" text-anchor="end" transform="rotate(-45 485.80 301.80)" dy="4.4">BA.5</text>
<line x1="500.40" y1="296.80" x2="500.40" y2="299.00" stroke="#111" stroke-width="0.7"/>
<text x="500.80" y="301.80" font-size="6.4" text-anchor="end" transform="rotate(-45 500.80 301.80)" dy="4.4">XBB.1.5</text>
<line x1="455.40" y1="245.30" x2="470.40" y2="247.60" stroke="#cbcbcb" stroke-width="0.35"/>
<line x1="455.40" y1="246.50" x2="470.40" y2="249.90" stroke="#cbcbcb" stroke-width="0.35"/>
<line x1="455.40" y1="247.60" x2="470.40" y2="251.60" stroke="#cbcbcb" stroke-width="0.35"/>
<line x1="455.40" y1="248.70" x2="470.40" y2="254.40" stroke="#cbcbcb" stroke-width="0.35"/>
<line x1="455.40" y1="249.90" x2="470.40" y2="256.60" stroke="#cbcbcb" stroke-width="0.35"/>
<line x1="455.40" y1="251.00" x2="470.40" y2="258.30" stroke="#cbcbcb" stroke-width="0.35"/>
<line x1="455.40" y1="252.70" x2="470.40" y2="260.60" stroke="#cbcbcb" stroke-width="0.35"/>
<line x1="455.40" y1="254.40" x2="470.40" y2="262.30" stroke="#cbcbcb" stroke-width="0.35"/>
<line x1="455.40" y1="256.10" x2="470.40" y2="264.60" stroke="#cbcbcb" stroke-width="0.35"/>
<line x1="455.40" y1="257.80" x2="470.40" y2="266.80" stroke="#cbcbcb" stroke-width="0.35"/>
<line x1="455.40" y1="264.60" x2="470.40" y2="273.60" stroke="#cbcbcb" stroke-width="0.35"/>
<line x1="470.40" y1="247.60" x2="485.40" y2="264.00" stroke="#cbcbcb" stroke-width="0.35"/>
<line x1="470.40" y1="249.90" x2="485.40" y2="264.00" stroke="#cbcbcb" stroke-width="0.35"/>
<line x1="470.40" y1="251.60" x2="485.40" y2="267.40" stroke="#cbcbcb" stroke-width="0.35"/>
<line x1="470.40" y1="254.40" x2="485.40" y2="272.50" stroke="#cbcbcb" stroke-width="0.35"/>
<line x1="470.40" y1="256.60" x2="485.40" y2="278.10" stroke="#cbcbcb" stroke-width="0.35"/>
<line x1="470.40" y1="258.30" x2="485.40" y2="280.40" stroke="#cbcbcb" stroke-width="0.35"/>
<line x1="470.40" y1="260.60" x2="485.40" y2="280.40" stroke="#cbcbcb" stroke-width="0.35"/>
<line x1="470.40" y1="262.30" x2="485.40" y2="282.70" stroke="#cbcbcb" stroke-width="0.35"/>
<line x1="470.40" y1="264.60" x2="485.40" y2="284.90" stroke="#cbcbcb" stroke-width="0.35"/>
<line x1="470.40" y1="266.80" x2="485.40" y2="287.20" stroke="#cbcbcb" stroke-width="0.35"/>
<line x1="470.40" y1="273.60" x2="485.40" y2="290.60" stroke="#cbcbcb" stroke-width="0.35"/>
<line x1="485.40" y1="264.00" x2="500.40" y2="253.80" stroke="#cbcbcb" stroke-width="0.35"/>
<line x1="485.40" y1="267.40" x2="500.40" y2="253.80" stroke="#cbcbcb" stroke-width="0.35"/>
<line x1="485.40" y1="272.50" x2="500.40" y2="257.20" stroke="#cbcbcb" stroke-width="0.35"/>
<line x1="485.40" y1="278.10" x2="500.40" y2="260.00" stroke="#cbcbcb" stroke-width="0.35"/>
<line x1="485.40" y1="280.40" x2="500.40" y2="262.30" stroke="#cbcbcb" stroke-width="0.35"/>
<line x1="485.40" y1="282.70" x2="500.40" y2="262.30" stroke="#cbcbcb" stroke-width="0.35"/>
<line x1="485.40" y1="284.90" x2="500.40" y2="265.70" stroke="#cbcbcb" stroke-width="0.35"/>
<line x1="485.40" y1="287.20" x2="500.40" y2="269.10" stroke="#cbcbcb" stroke-width="0.35"/>
<line x1="485.40" y1="290.60" x2="500.40" y2="273.00" stroke="#cbcbcb" stroke-width="0.35"/>
<line x1="450.80" y1="254.20" x2="460.00" y2="254.20" stroke="#111" stroke-width="1.0"/>
<line x1="465.80" y1="260.40" x2="475.00" y2="260.40" stroke="#111" stroke-width="1.0"/>
<line x1="480.80" y1="278.50" x2="490.00" y2="278.50" stroke="#111" stroke-width="1.0"/>
<line x1="495.80" y1="263.70" x2="505.00" y2="263.70" stroke="#111" stroke-width="1.0"/>
<circle cx="455.40" cy="245.30" r="2.05" fill="#444444" fill-opacity="0.66"/>
<circle cx="455.40" cy="246.50" r="2.05" fill="#444444" fill-opacity="0.66"/>
<circle cx="455.40" cy="247.60" r="2.05" fill="#444444" fill-opacity="0.66"/>
<circle cx="455.40" cy="248.70" r="2.05" fill="#444444" fill-opacity="0.66"/>
<circle cx="455.40" cy="249.90" r="2.05" fill="#444444" fill-opacity="0.66"/>
<circle cx="455.40" cy="251.00" r="2.05" fill="#444444" fill-opacity="0.66"/>
<circle cx="455.40" cy="252.70" r="2.05" fill="#444444" fill-opacity="0.66"/>
<circle cx="455.40" cy="254.40" r="2.05" fill="#444444" fill-opacity="0.66"/>
<circle cx="455.40" cy="256.10" r="2.05" fill="#444444" fill-opacity="0.66"/>
<circle cx="455.40" cy="257.80" r="2.05" fill="#444444" fill-opacity="0.66"/>
<circle cx="455.40" cy="264.60" r="2.05" fill="#444444" fill-opacity="0.66"/>
<circle cx="470.40" cy="247.60" r="2.05" fill="#D55F4D" fill-opacity="0.66"/>
<circle cx="470.40" cy="249.90" r="2.05" fill="#D55F4D" fill-opacity="0.66"/>
<circle cx="470.40" cy="251.60" r="2.05" fill="#D55F4D" fill-opacity="0.66"/>
<circle cx="470.40" cy="254.40" r="2.05" fill="#D55F4D" fill-opacity="0.66"/>
<circle cx="470.40" cy="256.60" r="2.05" fill="#D55F4D" fill-opacity="0.66"/>
<circle cx="470.40" cy="258.30" r="2.05" fill="#D55F4D" fill-opacity="0.66"/>
<circle cx="470.40" cy="260.60" r="2.05" fill="#D55F4D" fill-opacity="0.66"/>
<circle cx="470.40" cy="262.30" r="2.05" fill="#D55F4D" fill-opacity="0.66"/>
<circle cx="470.40" cy="264.60" r="2.05" fill="#D55F4D" fill-opacity="0.66"/>
<circle cx="470.40" cy="266.80" r="2.05" fill="#D55F4D" fill-opacity="0.66"/>
<circle cx="470.40" cy="273.60" r="2.05" fill="#D55F4D" fill-opacity="0.66"/>
<circle cx="485.40" cy="264.00" r="2.05" fill="#3B74B2" fill-opacity="0.66"/>
<circle cx="485.40" cy="267.40" r="2.05" fill="#3B74B2" fill-opacity="0.66"/>
<circle cx="485.40" cy="272.50" r="2.05" fill="#3B74B2" fill-opacity="0.66"/>
<circle cx="485.40" cy="278.10" r="2.05" fill="#3B74B2" fill-opacity="0.66"/>
<circle cx="485.40" cy="280.40" r="2.05" fill="#3B74B2" fill-opacity="0.66"/>
<circle cx="485.40" cy="282.70" r="2.05" fill="#3B74B2" fill-opacity="0.66"/>
<circle cx="485.40" cy="284.90" r="2.05" fill="#3B74B2" fill-opacity="0.66"/>
<circle cx="485.40" cy="287.20" r="2.05" fill="#3B74B2" fill-opacity="0.66"/>
<circle cx="485.40" cy="290.60" r="2.05" fill="#3B74B2" fill-opacity="0.66"/>
<circle cx="500.40" cy="253.80" r="2.05" fill="#C9A23A" fill-opacity="0.66"/>
<circle cx="500.40" cy="257.20" r="2.05" fill="#C9A23A" fill-opacity="0.66"/>
<circle cx="500.40" cy="260.00" r="2.05" fill="#C9A23A" fill-opacity="0.66"/>
<circle cx="500.40" cy="262.30" r="2.05" fill="#C9A23A" fill-opacity="0.66"/>
<circle cx="500.40" cy="265.70" r="2.05" fill="#C9A23A" fill-opacity="0.66"/>
<circle cx="500.40" cy="269.10" r="2.05" fill="#C9A23A" fill-opacity="0.66"/>
<circle cx="500.40" cy="273.00" r="2.05" fill="#C9A23A" fill-opacity="0.66"/>
<text x="455.40" y="228.79" font-size="6.4" text-anchor="middle">2828</text>
<text x="470.40" y="228.79" font-size="6.4" text-anchor="middle">1238</text>
<text x="470.40" y="223.49" font-size="6.4" text-anchor="middle">2x</text>
<text x="470.40" y="219.32" font-size="6.2" text-anchor="middle">***</text>
<text x="485.40" y="228.79" font-size="6.4" text-anchor="middle">120</text>
<text x="485.40" y="223.49" font-size="6.4" text-anchor="middle">24x</text>
<text x="485.40" y="219.32" font-size="6.2" text-anchor="middle">***</text>
<text x="500.40" y="228.79" font-size="6.4" text-anchor="middle">805</text>
<text x="500.40" y="223.49" font-size="6.4" text-anchor="middle">4x</text>
<text x="500.40" y="219.32" font-size="6.2" text-anchor="middle">***</text>
<text x="443.70" y="330.69" font-size="6.4" text-anchor="middle">Absorbed</text>
<line x1="548.00" y1="214.20" x2="548.00" y2="297.23" stroke="#111" stroke-width="0.85"/>
<line x1="548.00" y1="296.80" x2="592.00" y2="296.80" stroke="#111" stroke-width="0.85"/>
<line x1="545.20" y1="293.60" x2="548.00" y2="293.60" stroke="#111" stroke-width="0.7"/>
<text x="0" y="0" font-size="6.8" transform="translate(541.80 296.03) scale(0.84 1)" text-anchor="end">0</text>
<line x1="545.20" y1="281.00" x2="548.00" y2="281.00" stroke="#111" stroke-width="0.7"/>
<text x="0" y="0" font-size="6.8" transform="translate(541.80 283.43) scale(0.84 1)" text-anchor="end">20</text>
<line x1="545.20" y1="268.10" x2="548.00" y2="268.10" stroke="#111" stroke-width="0.7"/>
<text x="0" y="0" font-size="6.8" transform="translate(541.80 270.53) scale(0.84 1)" text-anchor="end">40</text>
<line x1="545.20" y1="255.70" x2="548.00" y2="255.70" stroke="#111" stroke-width="0.7"/>
<text x="0" y="0" font-size="6.8" transform="translate(541.80 258.13) scale(0.84 1)" text-anchor="end">60</text>
<line x1="545.20" y1="243.30" x2="548.00" y2="243.30" stroke="#111" stroke-width="0.7"/>
<text x="0" y="0" font-size="6.8" transform="translate(541.80 245.73) scale(0.84 1)" text-anchor="end">80</text>
<line x1="545.20" y1="230.40" x2="548.00" y2="230.40" stroke="#111" stroke-width="0.7"/>
<text x="0" y="0" font-size="6.8" transform="translate(541.80 232.83) scale(0.84 1)" text-anchor="end">100</text>
<line x1="545.20" y1="217.70" x2="548.00" y2="217.70" stroke="#111" stroke-width="0.7"/>
<text x="0" y="0" font-size="6.8" transform="translate(541.80 220.13) scale(0.84 1)" text-anchor="end">120</text>
<text x="524.90" y="255.50" font-size="6.3" text-anchor="middle" transform="rotate(-90 524.90 255.50)" dy="2.26">BA.5<tspan font-size="4.2" dy="-2.4">+</tspan><tspan dy="2.4">WT</tspan><tspan font-size="4.2" dy="-2.4">−</tspan><tspan dy="2.4">/ BA.5</tspan><tspan font-size="4.2" dy="-2.4">+</tspan><tspan dy="2.4"> Titer (%)</tspan></text>
<line x1="560.20" y1="296.80" x2="560.20" y2="299.00" stroke="#111" stroke-width="0.7"/>
<text x="560.20" y="306.69" font-size="6.4" text-anchor="middle">T1</text>
<line x1="580.00" y1="296.80" x2="580.00" y2="299.00" stroke="#111" stroke-width="0.7"/>
<text x="580.00" y="306.69" font-size="6.4" text-anchor="middle">T3</text>
<line x1="560.20" y1="257.40" x2="580.00" y2="243.30" stroke="#d0d0d0" stroke-width="0.35"/>
<line x1="560.20" y1="265.60" x2="580.00" y2="243.30" stroke="#d0d0d0" stroke-width="0.35"/>
<line x1="560.20" y1="266.80" x2="580.00" y2="244.50" stroke="#d0d0d0" stroke-width="0.35"/>
<line x1="560.20" y1="269.30" x2="580.00" y2="248.20" stroke="#d0d0d0" stroke-width="0.35"/>
<line x1="560.20" y1="276.80" x2="580.00" y2="254.40" stroke="#d0d0d0" stroke-width="0.35"/>
<line x1="560.20" y1="279.30" x2="580.00" y2="263.10" stroke="#d0d0d0" stroke-width="0.35"/>
<line x1="560.20" y1="284.20" x2="580.00" y2="263.10" stroke="#d0d0d0" stroke-width="0.35"/>
<line x1="560.20" y1="286.70" x2="580.00" y2="265.60" stroke="#d0d0d0" stroke-width="0.35"/>
<line x1="560.20" y1="289.20" x2="580.00" y2="266.80" stroke="#d0d0d0" stroke-width="0.35"/>
<line x1="560.20" y1="292.90" x2="580.00" y2="284.20" stroke="#d0d0d0" stroke-width="0.35"/>
<line x1="555.60" y1="278.50" x2="564.80" y2="278.50" stroke="#111" stroke-width="1.0"/>
<line x1="575.40" y1="261.90" x2="584.60" y2="261.90" stroke="#111" stroke-width="1.0"/>
<circle cx="560.20" cy="257.40" r="2.05" fill="#3B74B2" fill-opacity="0.64"/>
<circle cx="560.20" cy="265.60" r="2.05" fill="#3B74B2" fill-opacity="0.64"/>
<circle cx="560.20" cy="266.80" r="2.05" fill="#3B74B2" fill-opacity="0.64"/>
<circle cx="560.20" cy="269.30" r="2.05" fill="#3B74B2" fill-opacity="0.64"/>
<circle cx="560.20" cy="276.80" r="2.05" fill="#3B74B2" fill-opacity="0.64"/>
<circle cx="560.20" cy="279.30" r="2.05" fill="#3B74B2" fill-opacity="0.64"/>
<circle cx="560.20" cy="284.20" r="2.05" fill="#3B74B2" fill-opacity="0.64"/>
<circle cx="560.20" cy="286.70" r="2.05" fill="#3B74B2" fill-opacity="0.64"/>
<circle cx="560.20" cy="289.20" r="2.05" fill="#3B74B2" fill-opacity="0.64"/>
<circle cx="560.20" cy="292.90" r="2.05" fill="#3B74B2" fill-opacity="0.64"/>
<circle cx="580.00" cy="243.30" r="2.05" fill="#3B74B2" fill-opacity="0.64"/>
<circle cx="580.00" cy="244.50" r="2.05" fill="#3B74B2" fill-opacity="0.64"/>
<circle cx="580.00" cy="248.20" r="2.05" fill="#3B74B2" fill-opacity="0.64"/>
<circle cx="580.00" cy="254.40" r="2.05" fill="#3B74B2" fill-opacity="0.64"/>
<circle cx="580.00" cy="263.10" r="2.05" fill="#3B74B2" fill-opacity="0.64"/>
<circle cx="580.00" cy="265.60" r="2.05" fill="#3B74B2" fill-opacity="0.64"/>
<circle cx="580.00" cy="266.80" r="2.05" fill="#3B74B2" fill-opacity="0.64"/>
<circle cx="580.00" cy="284.20" r="2.05" fill="#3B74B2" fill-opacity="0.64"/>
<line x1="560.20" y1="220.40" x2="580.00" y2="220.40" stroke="#111" stroke-width="0.7"/>
<text x="570.10" y="217.58" font-size="7.2" text-anchor="middle">*</text>
<text x="0" y="0" font-size="8.6" transform="translate(560.20 228.98) scale(0.84 1)" text-anchor="middle" fill="#3F6EAD" style="stroke:#3F6EAD">26</text>
<text x="0" y="0" font-size="8.6" transform="translate(580.00 228.98) scale(0.84 1)" text-anchor="middle" fill="#3F6EAD" style="stroke:#3F6EAD">51</text>
<circle cx="557.20" cy="320.00" r="10.2" fill="#BCA4BC"/>
<path d="M557.20,320.00 L557.20,309.80 A10.2,10.2 0 0 1 567.38,320.64 Z" fill="#28518D" stroke="#151515" stroke-width="0.85" stroke-linejoin="round"/>
<circle cx="557.20" cy="320.00" r="10.2" fill="none" stroke="#151515" stroke-width="0.85"/>
<circle cx="580.60" cy="320.00" r="10.2" fill="#BCA4BC"/>
<path d="M580.60,320.00 L580.60,309.80 A10.2,10.2 0 1 1 579.96,330.18 Z" fill="#28518D" stroke="#151515" stroke-width="0.85" stroke-linejoin="round"/>
<circle cx="580.60" cy="320.00" r="10.2" fill="none" stroke="#151515" stroke-width="0.85"/>
<line x1="630.40" y1="214.20" x2="630.40" y2="297.23" stroke="#111" stroke-width="0.85"/>
<line x1="630.40" y1="296.80" x2="674.40" y2="296.80" stroke="#111" stroke-width="0.85"/>
<line x1="627.60" y1="284.20" x2="630.40" y2="284.20" stroke="#111" stroke-width="0.7"/>
<text x="0" y="0" font-size="6.8" transform="translate(624.20 286.63) scale(0.84 1)" text-anchor="end">20</text>
<line x1="627.60" y1="271.30" x2="630.40" y2="271.30" stroke="#111" stroke-width="0.7"/>
<text x="0" y="0" font-size="6.8" transform="translate(624.20 273.73) scale(0.84 1)" text-anchor="end">40</text>
<line x1="627.60" y1="258.20" x2="630.40" y2="258.20" stroke="#111" stroke-width="0.7"/>
<text x="0" y="0" font-size="6.8" transform="translate(624.20 260.63) scale(0.84 1)" text-anchor="end">60</text>
<line x1="627.60" y1="245.00" x2="630.40" y2="245.00" stroke="#111" stroke-width="0.7"/>
<text x="0" y="0" font-size="6.8" transform="translate(624.20 247.43) scale(0.84 1)" text-anchor="end">80</text>
<line x1="627.60" y1="231.60" x2="630.40" y2="231.60" stroke="#111" stroke-width="0.7"/>
<text x="0" y="0" font-size="6.8" transform="translate(624.20 234.03) scale(0.84 1)" text-anchor="end">100</text>
<line x1="627.60" y1="218.00" x2="630.40" y2="218.00" stroke="#111" stroke-width="0.7"/>
<text x="0" y="0" font-size="6.8" transform="translate(624.20 220.43) scale(0.84 1)" text-anchor="end">120</text>
<text x="607.30" y="255.50" font-size="6.3" text-anchor="middle" transform="rotate(-90 607.30 255.50)" dy="2.26">BA.5<tspan font-size="4.2" dy="-2.4">+</tspan><tspan dy="2.4">XBB.1.5</tspan><tspan font-size="4.2" dy="-2.4">−</tspan><tspan dy="2.4">/ BA.5</tspan><tspan font-size="4.2" dy="-2.4">+</tspan><tspan dy="2.4"> Titer (%)</tspan></text>
<line x1="642.00" y1="296.80" x2="642.00" y2="299.00" stroke="#111" stroke-width="0.7"/>
<text x="642.00" y="306.69" font-size="6.4" text-anchor="middle">T1</text>
<line x1="661.90" y1="296.80" x2="661.90" y2="299.00" stroke="#111" stroke-width="0.7"/>
<text x="661.90" y="306.69" font-size="6.4" text-anchor="middle">T3</text>
<line x1="642.00" y1="230.90" x2="661.90" y2="240.80" stroke="#d0d0d0" stroke-width="0.35"/>
<line x1="642.00" y1="232.10" x2="661.90" y2="256.90" stroke="#d0d0d0" stroke-width="0.35"/>
<line x1="642.00" y1="245.80" x2="661.90" y2="259.40" stroke="#d0d0d0" stroke-width="0.35"/>
<line x1="642.00" y1="247.50" x2="661.90" y2="274.30" stroke="#d0d0d0" stroke-width="0.35"/>
<line x1="642.00" y1="259.40" x2="661.90" y2="275.50" stroke="#d0d0d0" stroke-width="0.35"/>
<line x1="642.00" y1="261.90" x2="661.90" y2="283.00" stroke="#d0d0d0" stroke-width="0.35"/>
<line x1="642.00" y1="265.60" x2="661.90" y2="286.70" stroke="#d0d0d0" stroke-width="0.35"/>
<line x1="642.00" y1="268.10" x2="661.90" y2="289.20" stroke="#d0d0d0" stroke-width="0.35"/>
<line x1="642.00" y1="270.60" x2="661.90" y2="291.70" stroke="#d0d0d0" stroke-width="0.35"/>
<line x1="642.00" y1="278.00" x2="661.90" y2="292.90" stroke="#d0d0d0" stroke-width="0.35"/>
<line x1="637.40" y1="253.20" x2="646.60" y2="253.20" stroke="#111" stroke-width="1.0"/>
<line x1="657.30" y1="274.30" x2="666.50" y2="274.30" stroke="#111" stroke-width="1.0"/>
<circle cx="642.00" cy="230.90" r="2.05" fill="#3B74B2" fill-opacity="0.64"/>
<circle cx="642.00" cy="232.10" r="2.05" fill="#3B74B2" fill-opacity="0.64"/>
<circle cx="642.00" cy="245.80" r="2.05" fill="#3B74B2" fill-opacity="0.64"/>
<circle cx="642.00" cy="247.50" r="2.05" fill="#3B74B2" fill-opacity="0.64"/>
<circle cx="642.00" cy="259.40" r="2.05" fill="#3B74B2" fill-opacity="0.64"/>
<circle cx="642.00" cy="261.90" r="2.05" fill="#3B74B2" fill-opacity="0.64"/>
<circle cx="642.00" cy="265.60" r="2.05" fill="#3B74B2" fill-opacity="0.64"/>
<circle cx="642.00" cy="268.10" r="2.05" fill="#3B74B2" fill-opacity="0.64"/>
<circle cx="642.00" cy="270.60" r="2.05" fill="#3B74B2" fill-opacity="0.64"/>
<circle cx="642.00" cy="278.00" r="2.05" fill="#3B74B2" fill-opacity="0.64"/>
<circle cx="661.90" cy="240.80" r="2.05" fill="#3B74B2" fill-opacity="0.64"/>
<circle cx="661.90" cy="256.90" r="2.05" fill="#3B74B2" fill-opacity="0.64"/>
<circle cx="661.90" cy="259.40" r="2.05" fill="#3B74B2" fill-opacity="0.64"/>
<circle cx="661.90" cy="274.30" r="2.05" fill="#3B74B2" fill-opacity="0.64"/>
<circle cx="661.90" cy="275.50" r="2.05" fill="#3B74B2" fill-opacity="0.64"/>
<circle cx="661.90" cy="283.00" r="2.05" fill="#3B74B2" fill-opacity="0.64"/>
<circle cx="661.90" cy="286.70" r="2.05" fill="#3B74B2" fill-opacity="0.64"/>
<circle cx="661.90" cy="289.20" r="2.05" fill="#3B74B2" fill-opacity="0.64"/>
<circle cx="661.90" cy="291.70" r="2.05" fill="#3B74B2" fill-opacity="0.64"/>
<circle cx="661.90" cy="292.90" r="2.05" fill="#3B74B2" fill-opacity="0.64"/>
<line x1="642.00" y1="220.40" x2="661.90" y2="220.40" stroke="#111" stroke-width="0.7"/>
<text x="651.95" y="217.58" font-size="7.2" text-anchor="middle">*</text>
<text x="0" y="0" font-size="8.6" transform="translate(642.00 228.98) scale(0.84 1)" text-anchor="middle" fill="#3F6EAD" style="stroke:#3F6EAD">68</text>
<text x="0" y="0" font-size="8.6" transform="translate(661.90 228.98) scale(0.84 1)" text-anchor="middle" fill="#3F6EAD" style="stroke:#3F6EAD">36</text>
<circle cx="639.60" cy="320.00" r="10.2" fill="#C8D4D4"/>
<path d="M639.60,320.00 L639.60,309.80 A10.2,10.2 0 1 1 630.37,324.34 Z" fill="#28518D" stroke="#151515" stroke-width="0.85" stroke-linejoin="round"/>
<circle cx="639.60" cy="320.00" r="10.2" fill="none" stroke="#151515" stroke-width="0.85"/>
<circle cx="663.90" cy="320.00" r="10.2" fill="#C8D4D4"/>
<path d="M663.90,320.00 L663.90,309.80 A10.2,10.2 0 0 1 671.76,326.50 Z" fill="#28518D" stroke="#151515" stroke-width="0.85" stroke-linejoin="round"/>
<circle cx="663.90" cy="320.00" r="10.2" fill="none" stroke="#151515" stroke-width="0.85"/>
<text x="559.20" y="190.96" font-size="6.3" font-weight="bold">Pie Chart</text>
<rect x="559.20" y="199.30" width="8.60" height="8.60" fill="#28518D"/>
<text x="570.00" y="205.82" font-size="6.2">BA.5−specific</text>
<rect x="611.30" y="184.10" width="8.60" height="8.60" fill="#BCA4BC"/>
<text x="622.10" y="186.82" font-size="6.2">WT and BA.5</text>
<text x="622.10" y="194.42" font-size="6.2">cross−reactive</text>
<rect x="611.30" y="199.20" width="8.60" height="8.60" fill="#C8D4D4"/>
<text x="622.10" y="201.92" font-size="6.2">XBB.1.5 and BA.5</text>
<text x="622.10" y="209.52" font-size="6.2">cross−reactive</text>
<line x1="34.50" y1="381.80" x2="34.50" y2="465.03" stroke="#111" stroke-width="0.85"/>
<line x1="31.50" y1="385.70" x2="34.50" y2="385.70" stroke="#111" stroke-width="0.7"/>
<text x="0" y="0" transform="translate(29.20 388.93) scale(0.9 1)" font-size="6.8" text-anchor="end">2<tspan font-size="4.3" dx="0.6" dy="-3.3">18</tspan></text>
<line x1="31.50" y1="396.56" x2="34.50" y2="396.56" stroke="#111" stroke-width="0.7"/>
<text x="0" y="0" transform="translate(29.20 399.79) scale(0.9 1)" font-size="6.8" text-anchor="end">2<tspan font-size="4.3" dx="0.6" dy="-3.3">16</tspan></text>
<line x1="31.50" y1="407.42" x2="34.50" y2="407.42" stroke="#111" stroke-width="0.7"/>
<text x="0" y="0" transform="translate(29.20 410.65) scale(0.9 1)" font-size="6.8" text-anchor="end">2<tspan font-size="4.3" dx="0.6" dy="-3.3">14</tspan></text>
<line x1="31.50" y1="418.28" x2="34.50" y2="418.28" stroke="#111" stroke-width="0.7"/>
<text x="0" y="0" transform="translate(29.20 421.51) scale(0.9 1)" font-size="6.8" text-anchor="end">2<tspan font-size="4.3" dx="0.6" dy="-3.3">12</tspan></text>
<line x1="31.50" y1="429.14" x2="34.50" y2="429.14" stroke="#111" stroke-width="0.7"/>
<text x="0" y="0" transform="translate(29.20 432.37) scale(0.9 1)" font-size="6.8" text-anchor="end">2<tspan font-size="4.3" dx="0.6" dy="-3.3">10</tspan></text>
<line x1="31.50" y1="440.00" x2="34.50" y2="440.00" stroke="#111" stroke-width="0.7"/>
<text x="0" y="0" transform="translate(29.20 443.23) scale(0.9 1)" font-size="6.8" text-anchor="end">2<tspan font-size="4.3" dx="0.6" dy="-3.3">8</tspan></text>
<line x1="31.50" y1="450.86" x2="34.50" y2="450.86" stroke="#111" stroke-width="0.7"/>
<text x="0" y="0" transform="translate(29.20 454.09) scale(0.9 1)" font-size="6.8" text-anchor="end">2<tspan font-size="4.3" dx="0.6" dy="-3.3">6</tspan></text>
<line x1="31.50" y1="461.72" x2="34.50" y2="461.72" stroke="#111" stroke-width="0.7"/>
<text x="0" y="0" transform="translate(29.20 464.95) scale(0.9 1)" font-size="6.8" text-anchor="end">2<tspan font-size="4.3" dx="0.6" dy="-3.3">4</tspan></text>
<text x="14.00" y="424.81" font-size="6.4" text-anchor="middle" transform="rotate(-90 14.00 424.81)" dy="2.29">pVNT<tspan font-size="4.4" dy="1.6">50</tspan><tspan dy="-1.6"> Titer</tspan></text>
<line x1="34.50" y1="464.60" x2="97.30" y2="464.60" stroke="#111" stroke-width="0.85"/>
<line x1="34.50" y1="446.70" x2="97.30" y2="446.70" stroke="#a0a0a0" stroke-width="0.7" stroke-dasharray="2.2,2"/>
<text x="67.20" y="376.46" font-size="6.3" text-anchor="middle">T1 (n = 10)</text>
<line x1="43.50" y1="464.60" x2="43.50" y2="466.80" stroke="#111" stroke-width="0.7"/>
<text x="43.90" y="469.60" font-size="6.4" text-anchor="end" transform="rotate(-45 43.90 469.60)" dy="4.4">No Dp</text>
<line x1="58.50" y1="464.60" x2="58.50" y2="466.80" stroke="#111" stroke-width="0.7"/>
<text x="58.90" y="469.60" font-size="6.4" text-anchor="end" transform="rotate(-45 58.90 469.60)" dy="4.4">WT</text>
<line x1="73.50" y1="464.60" x2="73.50" y2="466.80" stroke="#111" stroke-width="0.7"/>
<text x="73.90" y="469.60" font-size="6.4" text-anchor="end" transform="rotate(-45 73.90 469.60)" dy="4.4">BA.5</text>
<line x1="88.50" y1="464.60" x2="88.50" y2="466.80" stroke="#111" stroke-width="0.7"/>
<text x="88.90" y="469.60" font-size="6.4" text-anchor="end" transform="rotate(-45 88.90 469.60)" dy="4.4">XBB.1.5</text>
<line x1="43.50" y1="431.30" x2="58.50" y2="441.50" stroke="#cbcbcb" stroke-width="0.35"/>
<line x1="43.50" y1="432.80" x2="58.50" y2="441.50" stroke="#cbcbcb" stroke-width="0.35"/>
<line x1="43.50" y1="434.20" x2="58.50" y2="443.70" stroke="#cbcbcb" stroke-width="0.35"/>
<line x1="43.50" y1="435.70" x2="58.50" y2="443.70" stroke="#cbcbcb" stroke-width="0.35"/>
<line x1="43.50" y1="437.20" x2="58.50" y2="445.90" stroke="#cbcbcb" stroke-width="0.35"/>
<line x1="43.50" y1="438.60" x2="58.50" y2="445.90" stroke="#cbcbcb" stroke-width="0.35"/>
<line x1="43.50" y1="440.10" x2="58.50" y2="457.60" stroke="#cbcbcb" stroke-width="0.35"/>
<line x1="43.50" y1="442.30" x2="58.50" y2="457.60" stroke="#cbcbcb" stroke-width="0.35"/>
<line x1="58.50" y1="441.50" x2="73.50" y2="440.10" stroke="#cbcbcb" stroke-width="0.35"/>
<line x1="58.50" y1="441.50" x2="73.50" y2="442.30" stroke="#cbcbcb" stroke-width="0.35"/>
<line x1="58.50" y1="443.70" x2="73.50" y2="444.50" stroke="#cbcbcb" stroke-width="0.35"/>
<line x1="58.50" y1="445.90" x2="73.50" y2="446.60" stroke="#cbcbcb" stroke-width="0.35"/>
<line x1="58.50" y1="445.90" x2="73.50" y2="448.80" stroke="#cbcbcb" stroke-width="0.35"/>
<line x1="58.50" y1="457.60" x2="73.50" y2="457.60" stroke="#cbcbcb" stroke-width="0.35"/>
<line x1="73.50" y1="440.10" x2="88.50" y2="441.50" stroke="#cbcbcb" stroke-width="0.35"/>
<line x1="73.50" y1="440.10" x2="88.50" y2="443.70" stroke="#cbcbcb" stroke-width="0.35"/>
<line x1="73.50" y1="442.30" x2="88.50" y2="445.90" stroke="#cbcbcb" stroke-width="0.35"/>
<line x1="73.50" y1="444.50" x2="88.50" y2="448.10" stroke="#cbcbcb" stroke-width="0.35"/>
<line x1="73.50" y1="446.60" x2="88.50" y2="450.30" stroke="#cbcbcb" stroke-width="0.35"/>
<line x1="73.50" y1="448.80" x2="88.50" y2="452.50" stroke="#cbcbcb" stroke-width="0.35"/>
<line x1="73.50" y1="457.60" x2="88.50" y2="457.60" stroke="#cbcbcb" stroke-width="0.35"/>
<line x1="38.90" y1="437.40" x2="48.10" y2="437.40" stroke="#111" stroke-width="1.0"/>
<line x1="53.90" y1="450.00" x2="63.10" y2="450.00" stroke="#111" stroke-width="1.0"/>
<line x1="68.90" y1="446.40" x2="78.10" y2="446.40" stroke="#111" stroke-width="1.0"/>
<line x1="83.90" y1="450.70" x2="93.10" y2="450.70" stroke="#111" stroke-width="1.0"/>
<circle cx="43.50" cy="431.30" r="2.05" fill="#444444" fill-opacity="0.66"/>
<circle cx="43.50" cy="432.80" r="2.05" fill="#444444" fill-opacity="0.66"/>
<circle cx="43.50" cy="434.20" r="2.05" fill="#444444" fill-opacity="0.66"/>
<circle cx="43.50" cy="435.70" r="2.05" fill="#444444" fill-opacity="0.66"/>
<circle cx="43.50" cy="437.20" r="2.05" fill="#444444" fill-opacity="0.66"/>
<circle cx="43.50" cy="438.60" r="2.05" fill="#444444" fill-opacity="0.66"/>
<circle cx="43.50" cy="440.10" r="2.05" fill="#444444" fill-opacity="0.66"/>
<circle cx="43.50" cy="442.30" r="2.05" fill="#444444" fill-opacity="0.66"/>
<circle cx="58.50" cy="441.50" r="2.05" fill="#D55F4D" fill-opacity="0.66"/>
<circle cx="58.50" cy="443.70" r="2.05" fill="#D55F4D" fill-opacity="0.66"/>
<circle cx="58.50" cy="445.90" r="2.05" fill="#D55F4D" fill-opacity="0.66"/>
<circle cx="58.50" cy="457.60" r="2.05" fill="#D55F4D" fill-opacity="0.66"/>
<circle cx="73.50" cy="440.10" r="2.05" fill="#3B74B2" fill-opacity="0.66"/>
<circle cx="73.50" cy="442.30" r="2.05" fill="#3B74B2" fill-opacity="0.66"/>
<circle cx="73.50" cy="444.50" r="2.05" fill="#3B74B2" fill-opacity="0.66"/>
<circle cx="73.50" cy="446.60" r="2.05" fill="#3B74B2" fill-opacity="0.66"/>
<circle cx="73.50" cy="448.80" r="2.05" fill="#3B74B2" fill-opacity="0.66"/>
<circle cx="73.50" cy="457.60" r="2.05" fill="#3B74B2" fill-opacity="0.66"/>
<circle cx="88.50" cy="441.50" r="2.05" fill="#C9A23A" fill-opacity="0.66"/>
<circle cx="88.50" cy="443.70" r="2.05" fill="#C9A23A" fill-opacity="0.66"/>
<circle cx="88.50" cy="445.90" r="2.05" fill="#C9A23A" fill-opacity="0.66"/>
<circle cx="88.50" cy="448.10" r="2.05" fill="#C9A23A" fill-opacity="0.66"/>
<circle cx="88.50" cy="450.30" r="2.05" fill="#C9A23A" fill-opacity="0.66"/>
<circle cx="88.50" cy="452.50" r="2.05" fill="#C9A23A" fill-opacity="0.66"/>
<circle cx="88.50" cy="457.60" r="2.05" fill="#C9A23A" fill-opacity="0.66"/>
<text x="43.50" y="396.59" font-size="6.4" text-anchor="middle">357</text>
<text x="58.50" y="396.59" font-size="6.4" text-anchor="middle">72</text>
<text x="58.50" y="391.29" font-size="6.4" text-anchor="middle">6x</text>
<text x="58.50" y="387.12" font-size="6.2" text-anchor="middle">**</text>
<text x="73.50" y="396.59" font-size="6.4" text-anchor="middle">110</text>
<text x="73.50" y="391.29" font-size="6.4" text-anchor="middle">3x</text>
<text x="73.50" y="387.12" font-size="6.2" text-anchor="middle">**</text>
<text x="88.50" y="396.59" font-size="6.4" text-anchor="middle">64</text>
<text x="88.50" y="391.29" font-size="6.4" text-anchor="middle">6x</text>
<text x="88.50" y="387.12" font-size="6.2" text-anchor="middle">**</text>
<line x1="103.50" y1="464.60" x2="166.00" y2="464.60" stroke="#111" stroke-width="0.85"/>
<line x1="103.50" y1="446.70" x2="166.00" y2="446.70" stroke="#a0a0a0" stroke-width="0.7" stroke-dasharray="2.2,2"/>
<text x="133.95" y="376.46" font-size="6.3" text-anchor="middle">T3 (n = 6)</text>
<line x1="112.20" y1="464.60" x2="112.20" y2="466.80" stroke="#111" stroke-width="0.7"/>
<text x="112.60" y="469.60" font-size="6.4" text-anchor="end" transform="rotate(-45 112.60 469.60)" dy="4.4">No Dp</text>
<line x1="127.20" y1="464.60" x2="127.20" y2="466.80" stroke="#111" stroke-width="0.7"/>
<text x="127.60" y="469.60" font-size="6.4" text-anchor="end" transform="rotate(-45 127.60 469.60)" dy="4.4">WT</text>
<line x1="142.20" y1="464.60" x2="142.20" y2="466.80" stroke="#111" stroke-width="0.7"/>
<text x="142.60" y="469.60" font-size="6.4" text-anchor="end" transform="rotate(-45 142.60 469.60)" dy="4.4">BA.5</text>
<line x1="157.20" y1="464.60" x2="157.20" y2="466.80" stroke="#111" stroke-width="0.7"/>
<text x="157.60" y="469.60" font-size="6.4" text-anchor="end" transform="rotate(-45 157.60 469.60)" dy="4.4">XBB.1.5</text>
<line x1="112.20" y1="436.10" x2="127.20" y2="445.00" stroke="#cbcbcb" stroke-width="0.35"/>
<line x1="112.20" y1="439.00" x2="127.20" y2="445.00" stroke="#cbcbcb" stroke-width="0.35"/>
<line x1="112.20" y1="441.40" x2="127.20" y2="449.80" stroke="#cbcbcb" stroke-width="0.35"/>
<line x1="112.20" y1="445.60" x2="127.20" y2="458.10" stroke="#cbcbcb" stroke-width="0.35"/>
<line x1="127.20" y1="445.00" x2="142.20" y2="446.20" stroke="#cbcbcb" stroke-width="0.35"/>
<line x1="127.20" y1="445.00" x2="142.20" y2="448.60" stroke="#cbcbcb" stroke-width="0.35"/>
<line x1="127.20" y1="449.80" x2="142.20" y2="451.00" stroke="#cbcbcb" stroke-width="0.35"/>
<line x1="127.20" y1="458.10" x2="142.20" y2="458.10" stroke="#cbcbcb" stroke-width="0.35"/>
<line x1="142.20" y1="446.20" x2="157.20" y2="448.60" stroke="#cbcbcb" stroke-width="0.35"/>
<line x1="142.20" y1="448.60" x2="157.20" y2="448.60" stroke="#cbcbcb" stroke-width="0.35"/>
<line x1="142.20" y1="451.00" x2="157.20" y2="452.10" stroke="#cbcbcb" stroke-width="0.35"/>
<line x1="142.20" y1="458.10" x2="157.20" y2="458.10" stroke="#cbcbcb" stroke-width="0.35"/>
<line x1="107.60" y1="442.30" x2="116.80" y2="442.30" stroke="#111" stroke-width="1.0"/>
<line x1="122.60" y1="454.20" x2="131.80" y2="454.20" stroke="#111" stroke-width="1.0"/>
<line x1="137.60" y1="453.30" x2="146.80" y2="453.30" stroke="#111" stroke-width="1.0"/>
<line x1="152.60" y1="454.90" x2="161.80" y2="454.90" stroke="#111" stroke-width="1.0"/>
<circle cx="112.20" cy="436.10" r="2.05" fill="#444444" fill-opacity="0.66"/>
<circle cx="112.20" cy="439.00" r="2.05" fill="#444444" fill-opacity="0.66"/>
<circle cx="112.20" cy="441.40" r="2.05" fill="#444444" fill-opacity="0.66"/>
<circle cx="112.20" cy="445.60" r="2.05" fill="#444444" fill-opacity="0.66"/>
<circle cx="127.20" cy="445.00" r="2.05" fill="#D55F4D" fill-opacity="0.66"/>
<circle cx="127.20" cy="449.80" r="2.05" fill="#D55F4D" fill-opacity="0.66"/>
<circle cx="127.20" cy="458.10" r="2.05" fill="#D55F4D" fill-opacity="0.66"/>
<circle cx="142.20" cy="446.20" r="2.05" fill="#3B74B2" fill-opacity="0.66"/>
<circle cx="142.20" cy="448.60" r="2.05" fill="#3B74B2" fill-opacity="0.66"/>
<circle cx="142.20" cy="451.00" r="2.05" fill="#3B74B2" fill-opacity="0.66"/>
<circle cx="142.20" cy="458.10" r="2.05" fill="#3B74B2" fill-opacity="0.66"/>
<circle cx="157.20" cy="448.60" r="2.05" fill="#C9A23A" fill-opacity="0.66"/>
<circle cx="157.20" cy="452.10" r="2.05" fill="#C9A23A" fill-opacity="0.66"/>
<circle cx="157.20" cy="458.10" r="2.05" fill="#C9A23A" fill-opacity="0.66"/>
<text x="112.20" y="396.59" font-size="6.4" text-anchor="middle">199</text>
<text x="127.20" y="396.59" font-size="6.4" text-anchor="middle">43</text>
<text x="127.20" y="391.29" font-size="6.4" text-anchor="middle">6x</text>
<text x="127.20" y="387.12" font-size="6.2" text-anchor="middle">*</text>
<text x="142.20" y="396.59" font-size="6.4" text-anchor="middle">47</text>
<text x="142.20" y="391.29" font-size="6.4" text-anchor="middle">6x</text>
<text x="142.20" y="387.12" font-size="6.2" text-anchor="middle">*</text>
<text x="157.20" y="396.59" font-size="6.4" text-anchor="middle">39</text>
<text x="157.20" y="391.29" font-size="6.4" text-anchor="middle">6x</text>
<text x="157.20" y="387.12" font-size="6.2" text-anchor="middle">*</text>
<text x="100.50" y="498.49" font-size="6.4" text-anchor="middle">Absorbed</text>
<line x1="204.80" y1="382.00" x2="204.80" y2="465.03" stroke="#111" stroke-width="0.85"/>
<line x1="204.80" y1="464.60" x2="248.80" y2="464.60" stroke="#111" stroke-width="0.85"/>
<line x1="202.00" y1="464.30" x2="204.80" y2="464.30" stroke="#111" stroke-width="0.7"/>
<text x="0" y="0" font-size="6.8" transform="translate(198.60 466.73) scale(0.84 1)" text-anchor="end">0</text>
<line x1="202.00" y1="451.10" x2="204.80" y2="451.10" stroke="#111" stroke-width="0.7"/>
<text x="0" y="0" font-size="6.8" transform="translate(198.60 453.53) scale(0.84 1)" text-anchor="end">20</text>
<line x1="202.00" y1="438.00" x2="204.80" y2="438.00" stroke="#111" stroke-width="0.7"/>
<text x="0" y="0" font-size="6.8" transform="translate(198.60 440.43) scale(0.84 1)" text-anchor="end">40</text>
<line x1="202.00" y1="425.10" x2="204.80" y2="425.10" stroke="#111" stroke-width="0.7"/>
<text x="0" y="0" font-size="6.8" transform="translate(198.60 427.53) scale(0.84 1)" text-anchor="end">60</text>
<line x1="202.00" y1="412.20" x2="204.80" y2="412.20" stroke="#111" stroke-width="0.7"/>
<text x="0" y="0" font-size="6.8" transform="translate(198.60 414.63) scale(0.84 1)" text-anchor="end">80</text>
<line x1="202.00" y1="399.00" x2="204.80" y2="399.00" stroke="#111" stroke-width="0.7"/>
<text x="0" y="0" font-size="6.8" transform="translate(198.60 401.43) scale(0.84 1)" text-anchor="end">100</text>
<line x1="202.00" y1="386.10" x2="204.80" y2="386.10" stroke="#111" stroke-width="0.7"/>
<text x="0" y="0" font-size="6.8" transform="translate(198.60 388.53) scale(0.84 1)" text-anchor="end">120</text>
<text x="181.70" y="423.30" font-size="6.3" text-anchor="middle" transform="rotate(-90 181.70 423.30)" dy="2.26">XBB.1.5<tspan font-size="4.2" dy="-2.4">+</tspan><tspan dy="2.4">WT</tspan><tspan font-size="4.2" dy="-2.4">−</tspan><tspan dy="2.4">/ XBB.1.5</tspan><tspan font-size="4.2" dy="-2.4">+</tspan><tspan dy="2.4"> Titer (%)</tspan></text>
<line x1="216.50" y1="464.60" x2="216.50" y2="466.80" stroke="#111" stroke-width="0.7"/>
<text x="216.50" y="474.49" font-size="6.4" text-anchor="middle">T1</text>
<line x1="236.50" y1="464.60" x2="236.50" y2="466.80" stroke="#111" stroke-width="0.7"/>
<text x="236.50" y="474.49" font-size="6.4" text-anchor="middle">T3</text>
<line x1="216.50" y1="426.60" x2="236.50" y2="425.10" stroke="#d0d0d0" stroke-width="0.35"/>
<line x1="216.50" y1="435.00" x2="236.50" y2="425.10" stroke="#d0d0d0" stroke-width="0.35"/>
<line x1="216.50" y1="444.40" x2="236.50" y2="435.80" stroke="#d0d0d0" stroke-width="0.35"/>
<line x1="216.50" y1="446.90" x2="236.50" y2="443.20" stroke="#d0d0d0" stroke-width="0.35"/>
<line x1="216.50" y1="451.90" x2="236.50" y2="449.90" stroke="#d0d0d0" stroke-width="0.35"/>
<line x1="216.50" y1="455.60" x2="236.50" y2="449.90" stroke="#d0d0d0" stroke-width="0.35"/>
<line x1="216.50" y1="458.10" x2="236.50" y2="456.80" stroke="#d0d0d0" stroke-width="0.35"/>
<line x1="216.50" y1="461.30" x2="236.50" y2="459.80" stroke="#d0d0d0" stroke-width="0.35"/>
<line x1="211.90" y1="448.90" x2="221.10" y2="448.90" stroke="#111" stroke-width="1.0"/>
<line x1="231.90" y1="446.20" x2="241.10" y2="446.20" stroke="#111" stroke-width="1.0"/>
<circle cx="216.50" cy="426.60" r="2.05" fill="#C9A23A" fill-opacity="0.64"/>
<circle cx="216.50" cy="435.00" r="2.05" fill="#C9A23A" fill-opacity="0.64"/>
<circle cx="216.50" cy="444.40" r="2.05" fill="#C9A23A" fill-opacity="0.64"/>
<circle cx="216.50" cy="446.90" r="2.05" fill="#C9A23A" fill-opacity="0.64"/>
<circle cx="216.50" cy="451.90" r="2.05" fill="#C9A23A" fill-opacity="0.64"/>
<circle cx="216.50" cy="455.60" r="2.05" fill="#C9A23A" fill-opacity="0.64"/>
<circle cx="216.50" cy="458.10" r="2.05" fill="#C9A23A" fill-opacity="0.64"/>
<circle cx="216.50" cy="461.30" r="2.05" fill="#C9A23A" fill-opacity="0.64"/>
<circle cx="236.50" cy="425.10" r="2.05" fill="#C9A23A" fill-opacity="0.64"/>
<circle cx="236.50" cy="435.80" r="2.05" fill="#C9A23A" fill-opacity="0.64"/>
<circle cx="236.50" cy="443.20" r="2.05" fill="#C9A23A" fill-opacity="0.64"/>
<circle cx="236.50" cy="449.90" r="2.05" fill="#C9A23A" fill-opacity="0.64"/>
<circle cx="236.50" cy="456.80" r="2.05" fill="#C9A23A" fill-opacity="0.64"/>
<circle cx="236.50" cy="459.80" r="2.05" fill="#C9A23A" fill-opacity="0.64"/>
<line x1="216.50" y1="388.50" x2="236.50" y2="388.50" stroke="#111" stroke-width="0.7"/>
<text x="226.50" y="388.97" font-size="8.3" text-anchor="middle">ns</text>
<text x="0" y="0" font-size="8.6" transform="translate(216.50 395.08) scale(0.84 1)" text-anchor="middle" fill="#C69C38" style="stroke:#C69C38">24</text>
<text x="0" y="0" font-size="8.6" transform="translate(236.50 395.08) scale(0.84 1)" text-anchor="middle" fill="#C69C38" style="stroke:#C69C38">28</text>
<circle cx="212.90" cy="488.60" r="10.2" fill="#EBBE98"/>
<path d="M212.90,488.60 L212.90,478.40 A10.2,10.2 0 0 1 223.08,487.96 Z" fill="#B98C2D" stroke="#151515" stroke-width="0.85" stroke-linejoin="round"/>
<circle cx="212.90" cy="488.60" r="10.2" fill="none" stroke="#151515" stroke-width="0.85"/>
<circle cx="238.30" cy="488.60" r="10.2" fill="#EBBE98"/>
<path d="M238.30,488.60 L238.30,478.40 A10.2,10.2 0 0 1 248.32,490.51 Z" fill="#B98C2D" stroke="#151515" stroke-width="0.85" stroke-linejoin="round"/>
<circle cx="238.30" cy="488.60" r="10.2" fill="none" stroke="#151515" stroke-width="0.85"/>
<line x1="286.80" y1="382.00" x2="286.80" y2="465.03" stroke="#111" stroke-width="0.85"/>
<line x1="286.80" y1="464.60" x2="330.80" y2="464.60" stroke="#111" stroke-width="0.85"/>
<line x1="284.00" y1="464.00" x2="286.80" y2="464.00" stroke="#111" stroke-width="0.7"/>
<text x="0" y="0" font-size="6.8" transform="translate(280.60 466.43) scale(0.84 1)" text-anchor="end">0</text>
<line x1="284.00" y1="450.90" x2="286.80" y2="450.90" stroke="#111" stroke-width="0.7"/>
<text x="0" y="0" font-size="6.8" transform="translate(280.60 453.33) scale(0.84 1)" text-anchor="end">20</text>
<line x1="284.00" y1="437.70" x2="286.80" y2="437.70" stroke="#111" stroke-width="0.7"/>
<text x="0" y="0" font-size="6.8" transform="translate(280.60 440.13) scale(0.84 1)" text-anchor="end">40</text>
<line x1="284.00" y1="424.60" x2="286.80" y2="424.60" stroke="#111" stroke-width="0.7"/>
<text x="0" y="0" font-size="6.8" transform="translate(280.60 427.03) scale(0.84 1)" text-anchor="end">60</text>
<line x1="284.00" y1="411.40" x2="286.80" y2="411.40" stroke="#111" stroke-width="0.7"/>
<text x="0" y="0" font-size="6.8" transform="translate(280.60 413.83) scale(0.84 1)" text-anchor="end">80</text>
<line x1="284.00" y1="398.40" x2="286.80" y2="398.40" stroke="#111" stroke-width="0.7"/>
<text x="0" y="0" font-size="6.8" transform="translate(280.60 400.83) scale(0.84 1)" text-anchor="end">100</text>
<line x1="284.00" y1="385.50" x2="286.80" y2="385.50" stroke="#111" stroke-width="0.7"/>
<text x="0" y="0" font-size="6.8" transform="translate(280.60 387.93) scale(0.84 1)" text-anchor="end">120</text>
<text x="263.70" y="423.30" font-size="6.3" text-anchor="middle" transform="rotate(-90 263.70 423.30)" dy="2.26">XBB.1.5<tspan font-size="4.2" dy="-2.4">+</tspan><tspan dy="2.4">BA.5</tspan><tspan font-size="4.2" dy="-2.4">−</tspan><tspan dy="2.4">/ XBB.1.5</tspan><tspan font-size="4.2" dy="-2.4">+</tspan><tspan dy="2.4"> Titer (%)</tspan></text>
<line x1="298.80" y1="464.60" x2="298.80" y2="466.80" stroke="#111" stroke-width="0.7"/>
<text x="298.80" y="474.49" font-size="6.4" text-anchor="middle">T1</text>
<line x1="318.70" y1="464.60" x2="318.70" y2="466.80" stroke="#111" stroke-width="0.7"/>
<text x="318.70" y="474.49" font-size="6.4" text-anchor="middle">T3</text>
<line x1="298.80" y1="400.70" x2="318.70" y2="410.40" stroke="#d0d0d0" stroke-width="0.35"/>
<line x1="298.80" y1="430.80" x2="318.70" y2="410.40" stroke="#d0d0d0" stroke-width="0.35"/>
<line x1="298.80" y1="435.70" x2="318.70" y2="438.10" stroke="#d0d0d0" stroke-width="0.35"/>
<line x1="298.80" y1="436.90" x2="318.70" y2="442.50" stroke="#d0d0d0" stroke-width="0.35"/>
<line x1="298.80" y1="438.70" x2="318.70" y2="442.50" stroke="#d0d0d0" stroke-width="0.35"/>
<line x1="298.80" y1="440.40" x2="318.70" y2="450.40" stroke="#d0d0d0" stroke-width="0.35"/>
<line x1="298.80" y1="444.90" x2="318.70" y2="455.00" stroke="#d0d0d0" stroke-width="0.35"/>
<line x1="298.80" y1="454.80" x2="318.70" y2="455.00" stroke="#d0d0d0" stroke-width="0.35"/>
<line x1="298.80" y1="460.90" x2="318.70" y2="460.00" stroke="#d0d0d0" stroke-width="0.35"/>
<line x1="294.20" y1="439.30" x2="303.40" y2="439.30" stroke="#111" stroke-width="1.0"/>
<line x1="314.10" y1="443.90" x2="323.30" y2="443.90" stroke="#111" stroke-width="1.0"/>
<circle cx="298.80" cy="400.70" r="2.05" fill="#C9A23A" fill-opacity="0.64"/>
<circle cx="298.80" cy="430.80" r="2.05" fill="#C9A23A" fill-opacity="0.64"/>
<circle cx="298.80" cy="435.70" r="2.05" fill="#C9A23A" fill-opacity="0.64"/>
<circle cx="298.80" cy="436.90" r="2.05" fill="#C9A23A" fill-opacity="0.64"/>
<circle cx="298.80" cy="438.70" r="2.05" fill="#C9A23A" fill-opacity="0.64"/>
<circle cx="298.80" cy="440.40" r="2.05" fill="#C9A23A" fill-opacity="0.64"/>
<circle cx="298.80" cy="444.90" r="2.05" fill="#C9A23A" fill-opacity="0.64"/>
<circle cx="298.80" cy="454.80" r="2.05" fill="#C9A23A" fill-opacity="0.64"/>
<circle cx="298.80" cy="460.90" r="2.05" fill="#C9A23A" fill-opacity="0.64"/>
<circle cx="318.70" cy="410.40" r="2.05" fill="#C9A23A" fill-opacity="0.64"/>
<circle cx="318.70" cy="438.10" r="2.05" fill="#C9A23A" fill-opacity="0.64"/>
<circle cx="318.70" cy="442.50" r="2.05" fill="#C9A23A" fill-opacity="0.64"/>
<circle cx="318.70" cy="450.40" r="2.05" fill="#C9A23A" fill-opacity="0.64"/>
<circle cx="318.70" cy="455.00" r="2.05" fill="#C9A23A" fill-opacity="0.64"/>
<circle cx="318.70" cy="460.00" r="2.05" fill="#C9A23A" fill-opacity="0.64"/>
<line x1="298.80" y1="388.40" x2="318.70" y2="388.40" stroke="#111" stroke-width="0.7"/>
<text x="308.75" y="388.97" font-size="8.3" text-anchor="middle">ns</text>
<text x="0" y="0" font-size="8.6" transform="translate(298.80 394.98) scale(0.84 1)" text-anchor="middle" fill="#C69C38" style="stroke:#C69C38">39</text>
<text x="0" y="0" font-size="8.6" transform="translate(318.70 394.98) scale(0.84 1)" text-anchor="middle" fill="#C69C38" style="stroke:#C69C38">32</text>
<circle cx="295.40" cy="488.60" r="10.2" fill="#C8D4D4"/>
<path d="M295.40,488.60 L295.40,478.40 A10.2,10.2 0 0 1 301.90,496.46 Z" fill="#B98C2D" stroke="#151515" stroke-width="0.85" stroke-linejoin="round"/>
<circle cx="295.40" cy="488.60" r="10.2" fill="none" stroke="#151515" stroke-width="0.85"/>
<circle cx="321.40" cy="488.60" r="10.2" fill="#C8D4D4"/>
<path d="M321.40,488.60 L321.40,478.40 A10.2,10.2 0 0 1 330.63,492.94 Z" fill="#B98C2D" stroke="#151515" stroke-width="0.85" stroke-linejoin="round"/>
<circle cx="321.40" cy="488.60" r="10.2" fill="none" stroke="#151515" stroke-width="0.85"/>
<line x1="377.60" y1="381.80" x2="377.60" y2="465.03" stroke="#111" stroke-width="0.85"/>
<line x1="374.60" y1="385.70" x2="377.60" y2="385.70" stroke="#111" stroke-width="0.7"/>
<text x="0" y="0" transform="translate(372.30 388.93) scale(0.9 1)" font-size="6.8" text-anchor="end">2<tspan font-size="4.3" dx="0.6" dy="-3.3">18</tspan></text>
<line x1="374.60" y1="396.56" x2="377.60" y2="396.56" stroke="#111" stroke-width="0.7"/>
<text x="0" y="0" transform="translate(372.30 399.79) scale(0.9 1)" font-size="6.8" text-anchor="end">2<tspan font-size="4.3" dx="0.6" dy="-3.3">16</tspan></text>
<line x1="374.60" y1="407.42" x2="377.60" y2="407.42" stroke="#111" stroke-width="0.7"/>
<text x="0" y="0" transform="translate(372.30 410.65) scale(0.9 1)" font-size="6.8" text-anchor="end">2<tspan font-size="4.3" dx="0.6" dy="-3.3">14</tspan></text>
<line x1="374.60" y1="418.28" x2="377.60" y2="418.28" stroke="#111" stroke-width="0.7"/>
<text x="0" y="0" transform="translate(372.30 421.51) scale(0.9 1)" font-size="6.8" text-anchor="end">2<tspan font-size="4.3" dx="0.6" dy="-3.3">12</tspan></text>
<line x1="374.60" y1="429.14" x2="377.60" y2="429.14" stroke="#111" stroke-width="0.7"/>
<text x="0" y="0" transform="translate(372.30 432.37) scale(0.9 1)" font-size="6.8" text-anchor="end">2<tspan font-size="4.3" dx="0.6" dy="-3.3">10</tspan></text>
<line x1="374.60" y1="440.00" x2="377.60" y2="440.00" stroke="#111" stroke-width="0.7"/>
<text x="0" y="0" transform="translate(372.30 443.23) scale(0.9 1)" font-size="6.8" text-anchor="end">2<tspan font-size="4.3" dx="0.6" dy="-3.3">8</tspan></text>
<line x1="374.60" y1="450.86" x2="377.60" y2="450.86" stroke="#111" stroke-width="0.7"/>
<text x="0" y="0" transform="translate(372.30 454.09) scale(0.9 1)" font-size="6.8" text-anchor="end">2<tspan font-size="4.3" dx="0.6" dy="-3.3">6</tspan></text>
<line x1="374.60" y1="461.72" x2="377.60" y2="461.72" stroke="#111" stroke-width="0.7"/>
<text x="0" y="0" transform="translate(372.30 464.95) scale(0.9 1)" font-size="6.8" text-anchor="end">2<tspan font-size="4.3" dx="0.6" dy="-3.3">4</tspan></text>
<text x="357.10" y="424.81" font-size="6.4" text-anchor="middle" transform="rotate(-90 357.10 424.81)" dy="2.29">pVNT<tspan font-size="4.4" dy="1.6">50</tspan><tspan dy="-1.6"> Titer</tspan></text>
<line x1="377.60" y1="464.60" x2="440.40" y2="464.60" stroke="#111" stroke-width="0.85"/>
<line x1="377.60" y1="446.70" x2="440.40" y2="446.70" stroke="#a0a0a0" stroke-width="0.7" stroke-dasharray="2.2,2"/>
<text x="410.30" y="376.46" font-size="6.3" text-anchor="middle">T1 (n = 6)</text>
<line x1="386.60" y1="464.60" x2="386.60" y2="466.80" stroke="#111" stroke-width="0.7"/>
<text x="387.00" y="469.60" font-size="6.4" text-anchor="end" transform="rotate(-45 387.00 469.60)" dy="4.4">No Dp</text>
<line x1="401.60" y1="464.60" x2="401.60" y2="466.80" stroke="#111" stroke-width="0.7"/>
<text x="402.00" y="469.60" font-size="6.4" text-anchor="end" transform="rotate(-45 402.00 469.60)" dy="4.4">WT</text>
<line x1="416.60" y1="464.60" x2="416.60" y2="466.80" stroke="#111" stroke-width="0.7"/>
<text x="417.00" y="469.60" font-size="6.4" text-anchor="end" transform="rotate(-45 417.00 469.60)" dy="4.4">BA.5</text>
<line x1="431.60" y1="464.60" x2="431.60" y2="466.80" stroke="#111" stroke-width="0.7"/>
<text x="432.00" y="469.60" font-size="6.4" text-anchor="end" transform="rotate(-45 432.00 469.60)" dy="4.4">XBB.1.5</text>
<line x1="386.60" y1="437.20" x2="401.60" y2="437.90" stroke="#cbcbcb" stroke-width="0.35"/>
<line x1="386.60" y1="438.60" x2="401.60" y2="437.90" stroke="#cbcbcb" stroke-width="0.35"/>
<line x1="386.60" y1="440.10" x2="401.60" y2="441.50" stroke="#cbcbcb" stroke-width="0.35"/>
<line x1="386.60" y1="441.50" x2="401.60" y2="445.90" stroke="#cbcbcb" stroke-width="0.35"/>
<line x1="386.60" y1="443.00" x2="401.60" y2="455.40" stroke="#cbcbcb" stroke-width="0.35"/>
<line x1="386.60" y1="444.50" x2="401.60" y2="457.60" stroke="#cbcbcb" stroke-width="0.35"/>
<line x1="386.60" y1="445.90" x2="401.60" y2="457.60" stroke="#cbcbcb" stroke-width="0.35"/>
<line x1="401.60" y1="437.90" x2="416.60" y2="437.90" stroke="#cbcbcb" stroke-width="0.35"/>
<line x1="401.60" y1="441.50" x2="416.60" y2="443.70" stroke="#cbcbcb" stroke-width="0.35"/>
<line x1="401.60" y1="445.90" x2="416.60" y2="446.60" stroke="#cbcbcb" stroke-width="0.35"/>
<line x1="401.60" y1="455.40" x2="416.60" y2="457.60" stroke="#cbcbcb" stroke-width="0.35"/>
<line x1="401.60" y1="457.60" x2="416.60" y2="457.60" stroke="#cbcbcb" stroke-width="0.35"/>
<line x1="401.60" y1="457.60" x2="416.60" y2="457.60" stroke="#cbcbcb" stroke-width="0.35"/>
<line x1="416.60" y1="437.90" x2="431.60" y2="438.90" stroke="#cbcbcb" stroke-width="0.35"/>
<line x1="416.60" y1="443.70" x2="431.60" y2="446.20" stroke="#cbcbcb" stroke-width="0.35"/>
<line x1="416.60" y1="446.60" x2="431.60" y2="446.20" stroke="#cbcbcb" stroke-width="0.35"/>
<line x1="416.60" y1="457.60" x2="431.60" y2="453.20" stroke="#cbcbcb" stroke-width="0.35"/>
<line x1="416.60" y1="457.60" x2="431.60" y2="457.60" stroke="#cbcbcb" stroke-width="0.35"/>
<line x1="416.60" y1="457.60" x2="431.60" y2="457.60" stroke="#cbcbcb" stroke-width="0.35"/>
<line x1="382.00" y1="443.00" x2="391.20" y2="443.00" stroke="#111" stroke-width="1.0"/>
<line x1="397.00" y1="448.50" x2="406.20" y2="448.50" stroke="#111" stroke-width="1.0"/>
<line x1="412.00" y1="451.30" x2="421.20" y2="451.30" stroke="#111" stroke-width="1.0"/>
<line x1="427.00" y1="451.00" x2="436.20" y2="451.00" stroke="#111" stroke-width="1.0"/>
<circle cx="386.60" cy="437.20" r="2.05" fill="#444444" fill-opacity="0.66"/>
<circle cx="386.60" cy="438.60" r="2.05" fill="#444444" fill-opacity="0.66"/>
<circle cx="386.60" cy="440.10" r="2.05" fill="#444444" fill-opacity="0.66"/>
<circle cx="386.60" cy="441.50" r="2.05" fill="#444444" fill-opacity="0.66"/>
<circle cx="386.60" cy="443.00" r="2.05" fill="#444444" fill-opacity="0.66"/>
<circle cx="386.60" cy="444.50" r="2.05" fill="#444444" fill-opacity="0.66"/>
<circle cx="386.60" cy="445.90" r="2.05" fill="#444444" fill-opacity="0.66"/>
<circle cx="401.60" cy="437.90" r="2.05" fill="#D55F4D" fill-opacity="0.66"/>
<circle cx="401.60" cy="441.50" r="2.05" fill="#D55F4D" fill-opacity="0.66"/>
<circle cx="401.60" cy="445.90" r="2.05" fill="#D55F4D" fill-opacity="0.66"/>
<circle cx="401.60" cy="455.40" r="2.05" fill="#D55F4D" fill-opacity="0.66"/>
<circle cx="401.60" cy="457.60" r="2.05" fill="#D55F4D" fill-opacity="0.66"/>
<circle cx="401.60" cy="457.60" r="2.05" fill="#D55F4D" fill-opacity="0.66"/>
<circle cx="416.60" cy="437.90" r="2.05" fill="#3B74B2" fill-opacity="0.66"/>
<circle cx="416.60" cy="443.70" r="2.05" fill="#3B74B2" fill-opacity="0.66"/>
<circle cx="416.60" cy="446.60" r="2.05" fill="#3B74B2" fill-opacity="0.66"/>
<circle cx="416.60" cy="457.60" r="2.05" fill="#3B74B2" fill-opacity="0.66"/>
<circle cx="416.60" cy="457.60" r="2.05" fill="#3B74B2" fill-opacity="0.66"/>
<circle cx="416.60" cy="457.60" r="2.05" fill="#3B74B2" fill-opacity="0.66"/>
<circle cx="431.60" cy="438.90" r="2.05" fill="#C9A23A" fill-opacity="0.66"/>
<circle cx="431.60" cy="446.20" r="2.05" fill="#C9A23A" fill-opacity="0.66"/>
<circle cx="431.60" cy="446.20" r="2.05" fill="#C9A23A" fill-opacity="0.66"/>
<circle cx="431.60" cy="453.20" r="2.05" fill="#C9A23A" fill-opacity="0.66"/>
<circle cx="431.60" cy="457.60" r="2.05" fill="#C9A23A" fill-opacity="0.66"/>
<circle cx="431.60" cy="457.60" r="2.05" fill="#C9A23A" fill-opacity="0.66"/>
<text x="386.60" y="395.89" font-size="6.4" text-anchor="middle">175</text>
<text x="401.60" y="395.89" font-size="6.4" text-anchor="middle">85</text>
<text x="401.60" y="390.69" font-size="6.4" text-anchor="middle">2x</text>
<text x="401.60" y="387.12" font-size="6.2" text-anchor="middle">*</text>
<text x="416.60" y="395.89" font-size="6.4" text-anchor="middle">59</text>
<text x="416.60" y="390.69" font-size="6.4" text-anchor="middle">3x</text>
<text x="416.60" y="387.12" font-size="6.2" text-anchor="middle">ns</text>
<text x="431.60" y="395.89" font-size="6.4" text-anchor="middle">63</text>
<text x="431.60" y="390.69" font-size="6.4" text-anchor="middle">3x</text>
<text x="431.60" y="387.12" font-size="6.2" text-anchor="middle">*</text>
<line x1="446.60" y1="464.60" x2="509.10" y2="464.60" stroke="#111" stroke-width="0.85"/>
<line x1="446.60" y1="446.70" x2="509.10" y2="446.70" stroke="#a0a0a0" stroke-width="0.7" stroke-dasharray="2.2,2"/>
<text x="477.05" y="376.46" font-size="6.3" text-anchor="middle">T3 (n = 12)</text>
<line x1="455.30" y1="464.60" x2="455.30" y2="466.80" stroke="#111" stroke-width="0.7"/>
<text x="455.70" y="469.60" font-size="6.4" text-anchor="end" transform="rotate(-45 455.70 469.60)" dy="4.4">No Dp</text>
<line x1="470.30" y1="464.60" x2="470.30" y2="466.80" stroke="#111" stroke-width="0.7"/>
<text x="470.70" y="469.60" font-size="6.4" text-anchor="end" transform="rotate(-45 470.70 469.60)" dy="4.4">WT</text>
<line x1="485.30" y1="464.60" x2="485.30" y2="466.80" stroke="#111" stroke-width="0.7"/>
<text x="485.70" y="469.60" font-size="6.4" text-anchor="end" transform="rotate(-45 485.70 469.60)" dy="4.4">BA.5</text>
<line x1="500.30" y1="464.60" x2="500.30" y2="466.80" stroke="#111" stroke-width="0.7"/>
<text x="500.70" y="469.60" font-size="6.4" text-anchor="end" transform="rotate(-45 500.70 469.60)" dy="4.4">XBB.1.5</text>
<line x1="455.30" y1="419.40" x2="470.30" y2="421.40" stroke="#cbcbcb" stroke-width="0.35"/>
<line x1="455.30" y1="424.80" x2="470.30" y2="425.00" stroke="#cbcbcb" stroke-width="0.35"/>
<line x1="455.30" y1="429.50" x2="470.30" y2="431.00" stroke="#cbcbcb" stroke-width="0.35"/>
<line x1="455.30" y1="431.90" x2="470.30" y2="436.70" stroke="#cbcbcb" stroke-width="0.35"/>
<line x1="455.30" y1="433.70" x2="470.30" y2="438.50" stroke="#cbcbcb" stroke-width="0.35"/>
<line x1="455.30" y1="435.50" x2="470.30" y2="440.20" stroke="#cbcbcb" stroke-width="0.35"/>
<line x1="455.30" y1="436.70" x2="470.30" y2="442.00" stroke="#cbcbcb" stroke-width="0.35"/>
<line x1="455.30" y1="437.90" x2="470.30" y2="443.80" stroke="#cbcbcb" stroke-width="0.35"/>
<line x1="470.30" y1="421.40" x2="485.30" y2="437.60" stroke="#cbcbcb" stroke-width="0.35"/>
<line x1="470.30" y1="425.00" x2="485.30" y2="437.60" stroke="#cbcbcb" stroke-width="0.35"/>
<line x1="470.30" y1="431.00" x2="485.30" y2="443.20" stroke="#cbcbcb" stroke-width="0.35"/>
<line x1="470.30" y1="436.70" x2="485.30" y2="447.40" stroke="#cbcbcb" stroke-width="0.35"/>
<line x1="470.30" y1="438.50" x2="485.30" y2="458.10" stroke="#cbcbcb" stroke-width="0.35"/>
<line x1="470.30" y1="440.20" x2="485.30" y2="458.10" stroke="#cbcbcb" stroke-width="0.35"/>
<line x1="470.30" y1="442.00" x2="485.30" y2="458.10" stroke="#cbcbcb" stroke-width="0.35"/>
<line x1="470.30" y1="443.80" x2="485.30" y2="458.10" stroke="#cbcbcb" stroke-width="0.35"/>
<line x1="485.30" y1="437.60" x2="500.30" y2="437.60" stroke="#cbcbcb" stroke-width="0.35"/>
<line x1="485.30" y1="443.20" x2="500.30" y2="442.60" stroke="#cbcbcb" stroke-width="0.35"/>
<line x1="485.30" y1="447.40" x2="500.30" y2="442.60" stroke="#cbcbcb" stroke-width="0.35"/>
<line x1="485.30" y1="458.10" x2="500.30" y2="453.30" stroke="#cbcbcb" stroke-width="0.35"/>
<line x1="485.30" y1="458.10" x2="500.30" y2="458.10" stroke="#cbcbcb" stroke-width="0.35"/>
<line x1="485.30" y1="458.10" x2="500.30" y2="458.10" stroke="#cbcbcb" stroke-width="0.35"/>
<line x1="450.70" y1="432.10" x2="459.90" y2="432.10" stroke="#111" stroke-width="1.0"/>
<line x1="465.70" y1="436.90" x2="474.90" y2="436.90" stroke="#111" stroke-width="1.0"/>
<line x1="480.70" y1="452.10" x2="489.90" y2="452.10" stroke="#111" stroke-width="1.0"/>
<line x1="495.70" y1="453.30" x2="504.90" y2="453.30" stroke="#111" stroke-width="1.0"/>
<circle cx="455.30" cy="419.40" r="2.05" fill="#444444" fill-opacity="0.66"/>
<circle cx="455.30" cy="424.80" r="2.05" fill="#444444" fill-opacity="0.66"/>
<circle cx="455.30" cy="429.50" r="2.05" fill="#444444" fill-opacity="0.66"/>
<circle cx="455.30" cy="431.90" r="2.05" fill="#444444" fill-opacity="0.66"/>
<circle cx="455.30" cy="433.70" r="2.05" fill="#444444" fill-opacity="0.66"/>
<circle cx="455.30" cy="435.50" r="2.05" fill="#444444" fill-opacity="0.66"/>
<circle cx="455.30" cy="436.70" r="2.05" fill="#444444" fill-opacity="0.66"/>
<circle cx="455.30" cy="437.90" r="2.05" fill="#444444" fill-opacity="0.66"/>
<circle cx="470.30" cy="421.40" r="2.05" fill="#D55F4D" fill-opacity="0.66"/>
<circle cx="470.30" cy="425.00" r="2.05" fill="#D55F4D" fill-opacity="0.66"/>
<circle cx="470.30" cy="431.00" r="2.05" fill="#D55F4D" fill-opacity="0.66"/>
<circle cx="470.30" cy="436.70" r="2.05" fill="#D55F4D" fill-opacity="0.66"/>
<circle cx="470.30" cy="438.50" r="2.05" fill="#D55F4D" fill-opacity="0.66"/>
<circle cx="470.30" cy="440.20" r="2.05" fill="#D55F4D" fill-opacity="0.66"/>
<circle cx="470.30" cy="442.00" r="2.05" fill="#D55F4D" fill-opacity="0.66"/>
<circle cx="470.30" cy="443.80" r="2.05" fill="#D55F4D" fill-opacity="0.66"/>
<circle cx="485.30" cy="437.60" r="2.05" fill="#3B74B2" fill-opacity="0.66"/>
<circle cx="485.30" cy="443.20" r="2.05" fill="#3B74B2" fill-opacity="0.66"/>
<circle cx="485.30" cy="447.40" r="2.05" fill="#3B74B2" fill-opacity="0.66"/>
<circle cx="485.30" cy="458.10" r="2.05" fill="#3B74B2" fill-opacity="0.66"/>
<circle cx="485.30" cy="458.10" r="2.05" fill="#3B74B2" fill-opacity="0.66"/>
<circle cx="485.30" cy="458.10" r="2.05" fill="#3B74B2" fill-opacity="0.66"/>
<circle cx="500.30" cy="437.60" r="2.05" fill="#C9A23A" fill-opacity="0.66"/>
<circle cx="500.30" cy="442.60" r="2.05" fill="#C9A23A" fill-opacity="0.66"/>
<circle cx="500.30" cy="442.60" r="2.05" fill="#C9A23A" fill-opacity="0.66"/>
<circle cx="500.30" cy="453.30" r="2.05" fill="#C9A23A" fill-opacity="0.66"/>
<circle cx="500.30" cy="458.10" r="2.05" fill="#C9A23A" fill-opacity="0.66"/>
<circle cx="500.30" cy="458.10" r="2.05" fill="#C9A23A" fill-opacity="0.66"/>
<text x="455.30" y="395.89" font-size="6.4" text-anchor="middle">720</text>
<text x="470.30" y="395.89" font-size="6.4" text-anchor="middle">392</text>
<text x="470.30" y="390.69" font-size="6.4" text-anchor="middle">2x</text>
<text x="470.30" y="387.12" font-size="6.2" text-anchor="middle">***</text>
<text x="485.30" y="395.89" font-size="6.4" text-anchor="middle">53</text>
<text x="485.30" y="390.69" font-size="6.4" text-anchor="middle">14x</text>
<text x="485.30" y="387.12" font-size="6.2" text-anchor="middle">***</text>
<text x="500.30" y="395.89" font-size="6.4" text-anchor="middle">49</text>
<text x="500.30" y="390.69" font-size="6.4" text-anchor="middle">15x</text>
<text x="500.30" y="387.12" font-size="6.2" text-anchor="middle">***</text>
<text x="443.60" y="498.49" font-size="6.4" text-anchor="middle">Absorbed</text>
<line x1="547.60" y1="382.00" x2="547.60" y2="465.03" stroke="#111" stroke-width="0.85"/>
<line x1="547.60" y1="464.60" x2="591.60" y2="464.60" stroke="#111" stroke-width="0.85"/>
<line x1="544.80" y1="461.40" x2="547.60" y2="461.40" stroke="#111" stroke-width="0.7"/>
<text x="0" y="0" font-size="6.8" transform="translate(541.40 463.83) scale(0.84 1)" text-anchor="end">0</text>
<line x1="544.80" y1="448.70" x2="547.60" y2="448.70" stroke="#111" stroke-width="0.7"/>
<text x="0" y="0" font-size="6.8" transform="translate(541.40 451.13) scale(0.84 1)" text-anchor="end">20</text>
<line x1="544.80" y1="436.10" x2="547.60" y2="436.10" stroke="#111" stroke-width="0.7"/>
<text x="0" y="0" font-size="6.8" transform="translate(541.40 438.53) scale(0.84 1)" text-anchor="end">40</text>
<line x1="544.80" y1="423.40" x2="547.60" y2="423.40" stroke="#111" stroke-width="0.7"/>
<text x="0" y="0" font-size="6.8" transform="translate(541.40 425.83) scale(0.84 1)" text-anchor="end">60</text>
<line x1="544.80" y1="410.80" x2="547.60" y2="410.80" stroke="#111" stroke-width="0.7"/>
<text x="0" y="0" font-size="6.8" transform="translate(541.40 413.23) scale(0.84 1)" text-anchor="end">80</text>
<line x1="544.80" y1="398.30" x2="547.60" y2="398.30" stroke="#111" stroke-width="0.7"/>
<text x="0" y="0" font-size="6.8" transform="translate(541.40 400.73) scale(0.84 1)" text-anchor="end">100</text>
<line x1="544.80" y1="385.40" x2="547.60" y2="385.40" stroke="#111" stroke-width="0.7"/>
<text x="0" y="0" font-size="6.8" transform="translate(541.40 387.83) scale(0.84 1)" text-anchor="end">120</text>
<text x="524.50" y="423.30" font-size="6.3" text-anchor="middle" transform="rotate(-90 524.50 423.30)" dy="2.26">XBB.1.5<tspan font-size="4.2" dy="-2.4">+</tspan><tspan dy="2.4">WT</tspan><tspan font-size="4.2" dy="-2.4">−</tspan><tspan dy="2.4">/ XBB.1.5</tspan><tspan font-size="4.2" dy="-2.4">+</tspan><tspan dy="2.4"> Titer (%)</tspan></text>
<line x1="560.20" y1="464.60" x2="560.20" y2="466.80" stroke="#111" stroke-width="0.7"/>
<text x="560.20" y="474.49" font-size="6.4" text-anchor="middle">T1</text>
<line x1="579.70" y1="464.60" x2="579.70" y2="466.80" stroke="#111" stroke-width="0.7"/>
<text x="579.70" y="474.49" font-size="6.4" text-anchor="middle">T3</text>
<line x1="560.20" y1="398.30" x2="579.70" y2="398.30" stroke="#d0d0d0" stroke-width="0.35"/>
<line x1="560.20" y1="398.30" x2="579.70" y2="412.00" stroke="#d0d0d0" stroke-width="0.35"/>
<line x1="560.20" y1="398.30" x2="579.70" y2="413.20" stroke="#d0d0d0" stroke-width="0.35"/>
<line x1="560.20" y1="400.80" x2="579.70" y2="418.20" stroke="#d0d0d0" stroke-width="0.35"/>
<line x1="560.20" y1="400.80" x2="579.70" y2="420.70" stroke="#d0d0d0" stroke-width="0.35"/>
<line x1="560.20" y1="421.40" x2="579.70" y2="423.20" stroke="#d0d0d0" stroke-width="0.35"/>
<line x1="560.20" y1="421.40" x2="579.70" y2="426.90" stroke="#d0d0d0" stroke-width="0.35"/>
<line x1="560.20" y1="446.70" x2="579.70" y2="429.40" stroke="#d0d0d0" stroke-width="0.35"/>
<line x1="560.20" y1="446.70" x2="579.70" y2="433.10" stroke="#d0d0d0" stroke-width="0.35"/>
<line x1="560.20" y1="460.60" x2="579.70" y2="445.00" stroke="#d0d0d0" stroke-width="0.35"/>
<line x1="560.20" y1="460.60" x2="579.70" y2="446.70" stroke="#d0d0d0" stroke-width="0.35"/>
<line x1="555.60" y1="422.70" x2="564.80" y2="422.70" stroke="#111" stroke-width="1.0"/>
<line x1="575.10" y1="425.60" x2="584.30" y2="425.60" stroke="#111" stroke-width="1.0"/>
<circle cx="560.20" cy="398.30" r="2.05" fill="#C9A23A" fill-opacity="0.64"/>
<circle cx="560.20" cy="400.80" r="2.05" fill="#C9A23A" fill-opacity="0.64"/>
<circle cx="560.20" cy="421.40" r="2.05" fill="#C9A23A" fill-opacity="0.64"/>
<circle cx="560.20" cy="446.70" r="2.05" fill="#C9A23A" fill-opacity="0.64"/>
<circle cx="560.20" cy="460.60" r="2.05" fill="#C9A23A" fill-opacity="0.64"/>
<circle cx="579.70" cy="398.30" r="2.05" fill="#C9A23A" fill-opacity="0.64"/>
<circle cx="579.70" cy="412.00" r="2.05" fill="#C9A23A" fill-opacity="0.64"/>
<circle cx="579.70" cy="413.20" r="2.05" fill="#C9A23A" fill-opacity="0.64"/>
<circle cx="579.70" cy="418.20" r="2.05" fill="#C9A23A" fill-opacity="0.64"/>
<circle cx="579.70" cy="420.70" r="2.05" fill="#C9A23A" fill-opacity="0.64"/>
<circle cx="579.70" cy="423.20" r="2.05" fill="#C9A23A" fill-opacity="0.64"/>
<circle cx="579.70" cy="426.90" r="2.05" fill="#C9A23A" fill-opacity="0.64"/>
<circle cx="579.70" cy="429.40" r="2.05" fill="#C9A23A" fill-opacity="0.64"/>
<circle cx="579.70" cy="433.10" r="2.05" fill="#C9A23A" fill-opacity="0.64"/>
<circle cx="579.70" cy="445.00" r="2.05" fill="#C9A23A" fill-opacity="0.64"/>
<circle cx="579.70" cy="446.70" r="2.05" fill="#C9A23A" fill-opacity="0.64"/>
<line x1="560.20" y1="389.00" x2="579.70" y2="389.00" stroke="#111" stroke-width="0.7"/>
<text x="569.95" y="388.77" font-size="8.3" text-anchor="middle">ns</text>
<text x="0" y="0" font-size="8.6" transform="translate(560.20 395.58) scale(0.84 1)" text-anchor="middle" fill="#C69C38" style="stroke:#C69C38">63</text>
<text x="0" y="0" font-size="8.6" transform="translate(579.70 395.58) scale(0.84 1)" text-anchor="middle" fill="#C69C38" style="stroke:#C69C38">59</text>
<circle cx="557.20" cy="488.60" r="10.2" fill="#EBBE98"/>
<path d="M557.20,488.60 L557.20,478.40 A10.2,10.2 0 1 1 549.76,495.58 Z" fill="#B98C2D" stroke="#151515" stroke-width="0.85" stroke-linejoin="round"/>
<circle cx="557.20" cy="488.60" r="10.2" fill="none" stroke="#151515" stroke-width="0.85"/>
<circle cx="580.80" cy="488.60" r="10.2" fill="#EBBE98"/>
<path d="M580.80,488.60 L580.80,478.40 A10.2,10.2 0 1 1 575.33,497.21 Z" fill="#B98C2D" stroke="#151515" stroke-width="0.85" stroke-linejoin="round"/>
<circle cx="580.80" cy="488.60" r="10.2" fill="none" stroke="#151515" stroke-width="0.85"/>
<line x1="630.50" y1="382.00" x2="630.50" y2="465.03" stroke="#111" stroke-width="0.85"/>
<line x1="630.50" y1="464.60" x2="674.50" y2="464.60" stroke="#111" stroke-width="0.85"/>
<line x1="627.70" y1="461.20" x2="630.50" y2="461.20" stroke="#111" stroke-width="0.7"/>
<text x="0" y="0" font-size="6.8" transform="translate(624.30 463.63) scale(0.84 1)" text-anchor="end">0</text>
<line x1="627.70" y1="448.60" x2="630.50" y2="448.60" stroke="#111" stroke-width="0.7"/>
<text x="0" y="0" font-size="6.8" transform="translate(624.30 451.03) scale(0.84 1)" text-anchor="end">20</text>
<line x1="627.70" y1="436.00" x2="630.50" y2="436.00" stroke="#111" stroke-width="0.7"/>
<text x="0" y="0" font-size="6.8" transform="translate(624.30 438.43) scale(0.84 1)" text-anchor="end">40</text>
<line x1="627.70" y1="423.20" x2="630.50" y2="423.20" stroke="#111" stroke-width="0.7"/>
<text x="0" y="0" font-size="6.8" transform="translate(624.30 425.63) scale(0.84 1)" text-anchor="end">60</text>
<line x1="627.70" y1="410.60" x2="630.50" y2="410.60" stroke="#111" stroke-width="0.7"/>
<text x="0" y="0" font-size="6.8" transform="translate(624.30 413.03) scale(0.84 1)" text-anchor="end">80</text>
<line x1="627.70" y1="398.40" x2="630.50" y2="398.40" stroke="#111" stroke-width="0.7"/>
<text x="0" y="0" font-size="6.8" transform="translate(624.30 400.83) scale(0.84 1)" text-anchor="end">100</text>
<line x1="627.70" y1="385.90" x2="630.50" y2="385.90" stroke="#111" stroke-width="0.7"/>
<text x="0" y="0" font-size="6.8" transform="translate(624.30 388.33) scale(0.84 1)" text-anchor="end">120</text>
<text x="607.40" y="423.30" font-size="6.3" text-anchor="middle" transform="rotate(-90 607.40 423.30)" dy="2.26">XBB.1.5<tspan font-size="4.2" dy="-2.4">+</tspan><tspan dy="2.4">BA.5</tspan><tspan font-size="4.2" dy="-2.4">−</tspan><tspan dy="2.4">/ XBB.1.5</tspan><tspan font-size="4.2" dy="-2.4">+</tspan><tspan dy="2.4"> Titer (%)</tspan></text>
<line x1="642.10" y1="464.60" x2="642.10" y2="466.80" stroke="#111" stroke-width="0.7"/>
<text x="642.10" y="474.49" font-size="6.4" text-anchor="middle">T1</text>
<line x1="661.90" y1="464.60" x2="661.90" y2="466.80" stroke="#111" stroke-width="0.7"/>
<text x="661.90" y="474.49" font-size="6.4" text-anchor="middle">T3</text>
<line x1="642.10" y1="398.70" x2="661.90" y2="437.90" stroke="#d0d0d0" stroke-width="0.35"/>
<line x1="642.10" y1="398.70" x2="661.90" y2="450.90" stroke="#d0d0d0" stroke-width="0.35"/>
<line x1="642.10" y1="422.70" x2="661.90" y2="452.70" stroke="#d0d0d0" stroke-width="0.35"/>
<line x1="642.10" y1="460.90" x2="661.90" y2="454.40" stroke="#d0d0d0" stroke-width="0.35"/>
<line x1="642.10" y1="460.90" x2="661.90" y2="460.90" stroke="#d0d0d0" stroke-width="0.35"/>
<line x1="642.10" y1="460.90" x2="661.90" y2="460.90" stroke="#d0d0d0" stroke-width="0.35"/>
<line x1="637.50" y1="434.60" x2="646.70" y2="434.60" stroke="#111" stroke-width="1.0"/>
<line x1="657.30" y1="456.00" x2="666.50" y2="456.00" stroke="#111" stroke-width="1.0"/>
<circle cx="642.10" cy="398.70" r="2.05" fill="#C9A23A" fill-opacity="0.64"/>
<circle cx="642.10" cy="422.70" r="2.05" fill="#C9A23A" fill-opacity="0.64"/>
<circle cx="642.10" cy="460.90" r="2.05" fill="#C9A23A" fill-opacity="0.64"/>
<circle cx="642.10" cy="460.90" r="2.05" fill="#C9A23A" fill-opacity="0.64"/>
<circle cx="661.90" cy="437.90" r="2.05" fill="#C9A23A" fill-opacity="0.64"/>
<circle cx="661.90" cy="450.90" r="2.05" fill="#C9A23A" fill-opacity="0.64"/>
<circle cx="661.90" cy="452.70" r="2.05" fill="#C9A23A" fill-opacity="0.64"/>
<circle cx="661.90" cy="454.40" r="2.05" fill="#C9A23A" fill-opacity="0.64"/>
<circle cx="661.90" cy="460.90" r="2.05" fill="#C9A23A" fill-opacity="0.64"/>
<circle cx="661.90" cy="460.90" r="2.05" fill="#C9A23A" fill-opacity="0.64"/>
<line x1="642.10" y1="388.40" x2="661.90" y2="388.40" stroke="#111" stroke-width="0.7"/>
<text x="652.00" y="386.38" font-size="7.2" text-anchor="middle">*</text>
<text x="0" y="0" font-size="8.6" transform="translate(642.10 395.38) scale(0.84 1)" text-anchor="middle" fill="#C69C38" style="stroke:#C69C38">44</text>
<text x="0" y="0" font-size="8.6" transform="translate(661.90 395.38) scale(0.84 1)" text-anchor="middle" fill="#C69C38" style="stroke:#C69C38">10</text>
<circle cx="639.60" cy="488.60" r="10.2" fill="#C8D4D4"/>
<path d="M639.60,488.60 L639.60,478.40 A10.2,10.2 0 0 1 643.35,498.08 Z" fill="#B98C2D" stroke="#151515" stroke-width="0.85" stroke-linejoin="round"/>
<circle cx="639.60" cy="488.60" r="10.2" fill="none" stroke="#151515" stroke-width="0.85"/>
<circle cx="663.90" cy="488.60" r="10.2" fill="#C8D4D4"/>
<path d="M663.90,488.60 L663.90,478.40 A10.2,10.2 0 0 1 669.90,480.35 Z" fill="#B98C2D" stroke="#151515" stroke-width="0.85" stroke-linejoin="round"/>
<circle cx="663.90" cy="488.60" r="10.2" fill="none" stroke="#151515" stroke-width="0.85"/>
<text x="559.20" y="357.66" font-size="6.3" font-weight="bold">Pie Chart</text>
<rect x="559.20" y="364.80" width="8.60" height="8.60" fill="#B98C2D"/>
<text x="570.00" y="371.32" font-size="6.2">XBB.1.5−specific</text>
<rect x="621.60" y="349.40" width="8.60" height="8.60" fill="#EBBE98"/>
<text x="632.40" y="352.02" font-size="6.2">WT and XBB.1.5</text>
<text x="632.40" y="359.82" font-size="6.2">cross−reactive</text>
<rect x="621.60" y="365.30" width="8.60" height="8.60" fill="#C8D4D4"/>
<text x="632.40" y="368.02" font-size="6.2">BA.5 and XBB.1.5</text>
<text x="632.40" y="375.62" font-size="6.2">cross−reactive</text>
<line x1="34.30" y1="550.00" x2="34.30" y2="632.62" stroke="#111" stroke-width="0.85"/>
<line x1="31.30" y1="553.90" x2="34.30" y2="553.90" stroke="#111" stroke-width="0.7"/>
<text x="0" y="0" transform="translate(29.00 557.13) scale(0.9 1)" font-size="6.8" text-anchor="end">2<tspan font-size="4.3" dx="0.6" dy="-3.3">18</tspan></text>
<line x1="31.30" y1="564.56" x2="34.30" y2="564.56" stroke="#111" stroke-width="0.7"/>
<text x="0" y="0" transform="translate(29.00 567.79) scale(0.9 1)" font-size="6.8" text-anchor="end">2<tspan font-size="4.3" dx="0.6" dy="-3.3">16</tspan></text>
<line x1="31.30" y1="575.22" x2="34.30" y2="575.22" stroke="#111" stroke-width="0.7"/>
<text x="0" y="0" transform="translate(29.00 578.45) scale(0.9 1)" font-size="6.8" text-anchor="end">2<tspan font-size="4.3" dx="0.6" dy="-3.3">14</tspan></text>
<line x1="31.30" y1="585.88" x2="34.30" y2="585.88" stroke="#111" stroke-width="0.7"/>
<text x="0" y="0" transform="translate(29.00 589.11) scale(0.9 1)" font-size="6.8" text-anchor="end">2<tspan font-size="4.3" dx="0.6" dy="-3.3">12</tspan></text>
<line x1="31.30" y1="596.54" x2="34.30" y2="596.54" stroke="#111" stroke-width="0.7"/>
<text x="0" y="0" transform="translate(29.00 599.77) scale(0.9 1)" font-size="6.8" text-anchor="end">2<tspan font-size="4.3" dx="0.6" dy="-3.3">10</tspan></text>
<line x1="31.30" y1="607.20" x2="34.30" y2="607.20" stroke="#111" stroke-width="0.7"/>
<text x="0" y="0" transform="translate(29.00 610.43) scale(0.9 1)" font-size="6.8" text-anchor="end">2<tspan font-size="4.3" dx="0.6" dy="-3.3">8</tspan></text>
<line x1="31.30" y1="617.86" x2="34.30" y2="617.86" stroke="#111" stroke-width="0.7"/>
<text x="0" y="0" transform="translate(29.00 621.09) scale(0.9 1)" font-size="6.8" text-anchor="end">2<tspan font-size="4.3" dx="0.6" dy="-3.3">6</tspan></text>
<line x1="31.30" y1="628.52" x2="34.30" y2="628.52" stroke="#111" stroke-width="0.7"/>
<text x="0" y="0" transform="translate(29.00 631.75) scale(0.9 1)" font-size="6.8" text-anchor="end">2<tspan font-size="4.3" dx="0.6" dy="-3.3">4</tspan></text>
<text x="13.80" y="592.31" font-size="6.4" text-anchor="middle" transform="rotate(-90 13.80 592.31)" dy="2.29">pVNT<tspan font-size="4.4" dy="1.6">50</tspan><tspan dy="-1.6"> Titer</tspan></text>
<line x1="34.30" y1="632.20" x2="82.90" y2="632.20" stroke="#111" stroke-width="0.85"/>
<line x1="34.30" y1="614.30" x2="82.90" y2="614.30" stroke="#a0a0a0" stroke-width="0.7" stroke-dasharray="2.2,2"/>
<text x="61.40" y="544.46" font-size="6.3" text-anchor="middle">T1 (n = 3)</text>
<line x1="41.00" y1="632.20" x2="41.00" y2="634.40" stroke="#111" stroke-width="0.7"/>
<text x="41.40" y="637.20" font-size="6.4" text-anchor="end" transform="rotate(-45 41.40 637.20)" dy="4.4">No Dp</text>
<line x1="52.75" y1="632.20" x2="52.75" y2="634.40" stroke="#111" stroke-width="0.7"/>
<text x="53.15" y="637.20" font-size="6.4" text-anchor="end" transform="rotate(-45 53.15 637.20)" dy="4.4">WT</text>
<line x1="64.50" y1="632.20" x2="64.50" y2="634.40" stroke="#111" stroke-width="0.7"/>
<text x="64.90" y="637.20" font-size="6.4" text-anchor="end" transform="rotate(-45 64.90 637.20)" dy="4.4">BA.5</text>
<line x1="76.25" y1="632.20" x2="76.25" y2="634.40" stroke="#111" stroke-width="0.7"/>
<text x="76.65" y="637.20" font-size="6.4" text-anchor="end" transform="rotate(-45 76.65 637.20)" dy="4.4">XBB.1.5</text>
<line x1="41.00" y1="602.40" x2="52.75" y2="607.60" stroke="#cbcbcb" stroke-width="0.35"/>
<line x1="41.00" y1="606.50" x2="52.75" y2="623.90" stroke="#cbcbcb" stroke-width="0.35"/>
<line x1="52.75" y1="607.60" x2="64.50" y2="609.60" stroke="#cbcbcb" stroke-width="0.35"/>
<line x1="52.75" y1="623.90" x2="64.50" y2="617.20" stroke="#cbcbcb" stroke-width="0.35"/>
<line x1="64.50" y1="609.60" x2="76.25" y2="610.60" stroke="#cbcbcb" stroke-width="0.35"/>
<line x1="64.50" y1="609.60" x2="76.25" y2="612.70" stroke="#cbcbcb" stroke-width="0.35"/>
<line x1="64.50" y1="617.20" x2="76.25" y2="626.00" stroke="#cbcbcb" stroke-width="0.35"/>
<line x1="36.40" y1="606.50" x2="45.60" y2="606.50" stroke="#111" stroke-width="1.0"/>
<line x1="48.15" y1="613.30" x2="57.35" y2="613.30" stroke="#111" stroke-width="1.0"/>
<line x1="59.90" y1="613.30" x2="69.10" y2="613.30" stroke="#111" stroke-width="1.0"/>
<line x1="71.65" y1="617.40" x2="80.85" y2="617.40" stroke="#111" stroke-width="1.0"/>
<circle cx="41.00" cy="602.40" r="2.05" fill="#444444" fill-opacity="0.66"/>
<circle cx="41.00" cy="606.50" r="2.05" fill="#444444" fill-opacity="0.66"/>
<circle cx="52.75" cy="607.60" r="2.05" fill="#D55F4D" fill-opacity="0.66"/>
<circle cx="52.75" cy="623.90" r="2.05" fill="#D55F4D" fill-opacity="0.66"/>
<circle cx="64.50" cy="609.60" r="2.05" fill="#3B74B2" fill-opacity="0.66"/>
<circle cx="64.50" cy="617.20" r="2.05" fill="#3B74B2" fill-opacity="0.66"/>
<circle cx="76.25" cy="610.60" r="2.05" fill="#C9A23A" fill-opacity="0.66"/>
<circle cx="76.25" cy="612.70" r="2.05" fill="#C9A23A" fill-opacity="0.66"/>
<circle cx="76.25" cy="626.00" r="2.05" fill="#C9A23A" fill-opacity="0.66"/>
<text x="41.00" y="563.99" font-size="6.4" text-anchor="middle">308</text>
<text x="52.75" y="563.99" font-size="6.4" text-anchor="middle">119</text>
<text x="52.75" y="557.79" font-size="6.4" text-anchor="middle">3x</text>
<text x="64.50" y="563.99" font-size="6.4" text-anchor="middle">128</text>
<text x="64.50" y="557.79" font-size="6.4" text-anchor="middle">2x</text>
<text x="76.25" y="563.99" font-size="6.4" text-anchor="middle">73</text>
<text x="76.25" y="557.79" font-size="6.4" text-anchor="middle">4x</text>
<line x1="88.90" y1="632.20" x2="137.60" y2="632.20" stroke="#111" stroke-width="0.85"/>
<line x1="88.90" y1="614.30" x2="137.60" y2="614.30" stroke="#a0a0a0" stroke-width="0.7" stroke-dasharray="2.2,2"/>
<text x="113.25" y="544.46" font-size="6.3" text-anchor="middle">T3 (n = 1)</text>
<line x1="96.10" y1="632.20" x2="96.10" y2="634.40" stroke="#111" stroke-width="0.7"/>
<text x="96.50" y="637.20" font-size="6.4" text-anchor="end" transform="rotate(-45 96.50 637.20)" dy="4.4">No Dp</text>
<line x1="107.73" y1="632.20" x2="107.73" y2="634.40" stroke="#111" stroke-width="0.7"/>
<text x="108.13" y="637.20" font-size="6.4" text-anchor="end" transform="rotate(-45 108.13 637.20)" dy="4.4">WT</text>
<line x1="119.36" y1="632.20" x2="119.36" y2="634.40" stroke="#111" stroke-width="0.7"/>
<text x="119.76" y="637.20" font-size="6.4" text-anchor="end" transform="rotate(-45 119.76 637.20)" dy="4.4">BA.5</text>
<line x1="130.99" y1="632.20" x2="130.99" y2="634.40" stroke="#111" stroke-width="0.7"/>
<text x="131.39" y="637.20" font-size="6.4" text-anchor="end" transform="rotate(-45 131.39 637.20)" dy="4.4">XBB.1.5</text>
<line x1="96.10" y1="602.90" x2="107.73" y2="608.60" stroke="#cbcbcb" stroke-width="0.35"/>
<line x1="107.73" y1="608.60" x2="119.36" y2="603.90" stroke="#cbcbcb" stroke-width="0.35"/>
<line x1="119.36" y1="603.90" x2="130.99" y2="608.20" stroke="#cbcbcb" stroke-width="0.35"/>
<line x1="91.50" y1="603.70" x2="100.70" y2="603.70" stroke="#111" stroke-width="1.0"/>
<line x1="103.13" y1="609.60" x2="112.33" y2="609.60" stroke="#111" stroke-width="1.0"/>
<line x1="114.76" y1="605.10" x2="123.96" y2="605.10" stroke="#111" stroke-width="1.0"/>
<line x1="126.39" y1="609.40" x2="135.59" y2="609.40" stroke="#111" stroke-width="1.0"/>
<circle cx="96.10" cy="602.90" r="2.05" fill="#444444" fill-opacity="0.66"/>
<circle cx="107.73" cy="608.60" r="2.05" fill="#D55F4D" fill-opacity="0.66"/>
<circle cx="119.36" cy="603.90" r="2.05" fill="#3B74B2" fill-opacity="0.66"/>
<circle cx="130.99" cy="608.20" r="2.05" fill="#C9A23A" fill-opacity="0.66"/>
<text x="96.10" y="563.99" font-size="6.4" text-anchor="middle">432</text>
<text x="107.73" y="563.99" font-size="6.4" text-anchor="middle">203</text>
<text x="107.73" y="557.79" font-size="6.4" text-anchor="middle">2x</text>
<text x="119.36" y="563.99" font-size="6.4" text-anchor="middle">369</text>
<text x="119.36" y="557.79" font-size="6.4" text-anchor="middle">1x</text>
<text x="130.99" y="563.99" font-size="6.4" text-anchor="middle">206</text>
<text x="130.99" y="557.79" font-size="6.4" text-anchor="middle">2x</text>
<text x="85.80" y="666.09" font-size="6.4" text-anchor="middle">Absorbed</text>
<line x1="176.40" y1="549.80" x2="176.40" y2="632.62" stroke="#111" stroke-width="0.85"/>
<line x1="176.40" y1="632.20" x2="202.10" y2="632.20" stroke="#111" stroke-width="0.85"/>
<line x1="173.60" y1="621.40" x2="176.40" y2="621.40" stroke="#111" stroke-width="0.7"/>
<text x="0" y="0" font-size="6.8" transform="translate(170.20 623.83) scale(0.84 1)" text-anchor="end">20</text>
<line x1="173.60" y1="606.30" x2="176.40" y2="606.30" stroke="#111" stroke-width="0.7"/>
<text x="0" y="0" font-size="6.8" transform="translate(170.20 608.73) scale(0.84 1)" text-anchor="end">40</text>
<line x1="173.60" y1="591.40" x2="176.40" y2="591.40" stroke="#111" stroke-width="0.7"/>
<text x="0" y="0" font-size="6.8" transform="translate(170.20 593.83) scale(0.84 1)" text-anchor="end">60</text>
<line x1="173.60" y1="576.10" x2="176.40" y2="576.10" stroke="#111" stroke-width="0.7"/>
<text x="0" y="0" font-size="6.8" transform="translate(170.20 578.53) scale(0.84 1)" text-anchor="end">80</text>
<line x1="173.60" y1="560.90" x2="176.40" y2="560.90" stroke="#111" stroke-width="0.7"/>
<text x="0" y="0" font-size="6.8" transform="translate(170.20 563.33) scale(0.84 1)" text-anchor="end">100</text>
<text x="153.30" y="591.00" font-size="6.3" text-anchor="middle" transform="rotate(-90 153.30 591.00)" dy="2.26">JN.1<tspan font-size="4.2" dy="-2.4">+</tspan><tspan dy="2.4">WT</tspan><tspan font-size="4.2" dy="-2.4">−</tspan><tspan dy="2.4">/ JN.1</tspan><tspan font-size="4.2" dy="-2.4">+</tspan><tspan dy="2.4"> Titer (%)</tspan></text>
<line x1="183.30" y1="632.20" x2="183.30" y2="634.40" stroke="#111" stroke-width="0.7"/>
<text x="183.30" y="641.89" font-size="6.4" text-anchor="middle">T1</text>
<line x1="195.30" y1="632.20" x2="195.30" y2="634.40" stroke="#111" stroke-width="0.7"/>
<text x="195.30" y="641.89" font-size="6.4" text-anchor="middle">T3</text>
<line x1="183.30" y1="592.70" x2="195.30" y2="600.70" stroke="#d0d0d0" stroke-width="0.35"/>
<line x1="178.70" y1="597.30" x2="187.90" y2="597.30" stroke="#111" stroke-width="1.0"/>
<line x1="190.70" y1="602.30" x2="199.90" y2="602.30" stroke="#111" stroke-width="1.0"/>
<circle cx="183.30" cy="568.10" r="2.05" fill="#C77BEF" fill-opacity="0.7"/>
<circle cx="183.30" cy="592.70" r="2.05" fill="#C77BEF" fill-opacity="0.7"/>
<circle cx="183.30" cy="628.00" r="2.05" fill="#C77BEF" fill-opacity="0.7"/>
<circle cx="195.30" cy="600.70" r="2.05" fill="#C77BEF" fill-opacity="0.7"/>
<text x="0" y="0" font-size="8.6" transform="translate(183.30 556.58) scale(0.92 1)" text-anchor="middle" fill="#B552E8" style="stroke:#B552E8">53</text>
<text x="0" y="0" font-size="8.6" transform="translate(195.30 556.58) scale(0.92 1)" text-anchor="middle" fill="#B552E8" style="stroke:#B552E8">47</text>
<circle cx="179.60" cy="656.00" r="10.2" fill="#E8BACB"/>
<path d="M179.60,656.00 L179.60,645.80 A10.2,10.2 0 1 1 177.69,666.02 Z" fill="#6E3CA0" stroke="#151515" stroke-width="0.85" stroke-linejoin="round"/>
<circle cx="179.60" cy="656.00" r="10.2" fill="none" stroke="#151515" stroke-width="0.85"/>
<circle cx="203.40" cy="656.00" r="10.2" fill="#E8BACB"/>
<path d="M203.40,656.00 L203.40,645.80 A10.2,10.2 0 0 1 205.31,666.02 Z" fill="#6E3CA0" stroke="#151515" stroke-width="0.85" stroke-linejoin="round"/>
<circle cx="203.40" cy="656.00" r="10.2" fill="none" stroke="#151515" stroke-width="0.85"/>
<line x1="241.20" y1="549.80" x2="241.20" y2="632.62" stroke="#111" stroke-width="0.85"/>
<line x1="241.20" y1="632.20" x2="266.50" y2="632.20" stroke="#111" stroke-width="0.85"/>
<line x1="238.40" y1="614.90" x2="241.20" y2="614.90" stroke="#111" stroke-width="0.7"/>
<text x="0" y="0" font-size="6.8" transform="translate(235.00 617.33) scale(0.84 1)" text-anchor="end">40</text>
<line x1="238.40" y1="597.30" x2="241.20" y2="597.30" stroke="#111" stroke-width="0.7"/>
<text x="0" y="0" font-size="6.8" transform="translate(235.00 599.73) scale(0.84 1)" text-anchor="end">60</text>
<line x1="238.40" y1="579.90" x2="241.20" y2="579.90" stroke="#111" stroke-width="0.7"/>
<text x="0" y="0" font-size="6.8" transform="translate(235.00 582.33) scale(0.84 1)" text-anchor="end">80</text>
<line x1="238.40" y1="561.90" x2="241.20" y2="561.90" stroke="#111" stroke-width="0.7"/>
<text x="0" y="0" font-size="6.8" transform="translate(235.00 564.33) scale(0.84 1)" text-anchor="end">100</text>
<text x="218.10" y="591.00" font-size="6.3" text-anchor="middle" transform="rotate(-90 218.10 591.00)" dy="2.26">JN.1<tspan font-size="4.2" dy="-2.4">+</tspan><tspan dy="2.4">BA.5</tspan><tspan font-size="4.2" dy="-2.4">−</tspan><tspan dy="2.4">/ JN.1</tspan><tspan font-size="4.2" dy="-2.4">+</tspan><tspan dy="2.4"> Titer (%)</tspan></text>
<line x1="247.80" y1="632.20" x2="247.80" y2="634.40" stroke="#111" stroke-width="0.7"/>
<text x="247.80" y="641.89" font-size="6.4" text-anchor="middle">T1</text>
<line x1="259.70" y1="632.20" x2="259.70" y2="634.40" stroke="#111" stroke-width="0.7"/>
<text x="259.70" y="641.89" font-size="6.4" text-anchor="middle">T3</text>
<line x1="247.80" y1="613.40" x2="259.70" y2="576.90" stroke="#d0d0d0" stroke-width="0.35"/>
<line x1="243.20" y1="610.70" x2="252.40" y2="610.70" stroke="#111" stroke-width="1.0"/>
<line x1="255.10" y1="578.40" x2="264.30" y2="578.40" stroke="#111" stroke-width="1.0"/>
<circle cx="247.80" cy="587.40" r="2.05" fill="#C77BEF" fill-opacity="0.7"/>
<circle cx="247.80" cy="613.40" r="2.05" fill="#C77BEF" fill-opacity="0.7"/>
<circle cx="247.80" cy="628.40" r="2.05" fill="#C77BEF" fill-opacity="0.7"/>
<circle cx="259.70" cy="576.90" r="2.05" fill="#C77BEF" fill-opacity="0.7"/>
<text x="0" y="0" font-size="8.6" transform="translate(247.80 556.58) scale(0.92 1)" text-anchor="middle" fill="#B552E8" style="stroke:#B552E8">46</text>
<text x="0" y="0" font-size="8.6" transform="translate(259.70 556.58) scale(0.92 1)" text-anchor="middle" fill="#B552E8" style="stroke:#B552E8">83</text>
<circle cx="244.80" cy="656.00" r="10.2" fill="#D2D0EB"/>
<path d="M244.80,656.00 L244.80,645.80 A10.2,10.2 0 0 1 247.34,665.88 Z" fill="#6E3CA0" stroke="#151515" stroke-width="0.85" stroke-linejoin="round"/>
<circle cx="244.80" cy="656.00" r="10.2" fill="none" stroke="#151515" stroke-width="0.85"/>
<circle cx="269.30" cy="656.00" r="10.2" fill="#D2D0EB"/>
<path d="M269.30,656.00 L269.30,645.80 A10.2,10.2 0 1 1 260.36,651.09 Z" fill="#6E3CA0" stroke="#151515" stroke-width="0.85" stroke-linejoin="round"/>
<circle cx="269.30" cy="656.00" r="10.2" fill="none" stroke="#151515" stroke-width="0.85"/>
<line x1="304.60" y1="549.80" x2="304.60" y2="632.62" stroke="#111" stroke-width="0.85"/>
<line x1="304.60" y1="632.20" x2="330.70" y2="632.20" stroke="#111" stroke-width="0.85"/>
<line x1="301.80" y1="619.70" x2="304.60" y2="619.70" stroke="#111" stroke-width="0.7"/>
<text x="0" y="0" font-size="6.8" transform="translate(298.40 622.13) scale(0.84 1)" text-anchor="end">20</text>
<line x1="301.80" y1="604.70" x2="304.60" y2="604.70" stroke="#111" stroke-width="0.7"/>
<text x="0" y="0" font-size="6.8" transform="translate(298.40 607.13) scale(0.84 1)" text-anchor="end">40</text>
<line x1="301.80" y1="589.80" x2="304.60" y2="589.80" stroke="#111" stroke-width="0.7"/>
<text x="0" y="0" font-size="6.8" transform="translate(298.40 592.23) scale(0.84 1)" text-anchor="end">60</text>
<line x1="301.80" y1="575.40" x2="304.60" y2="575.40" stroke="#111" stroke-width="0.7"/>
<text x="0" y="0" font-size="6.8" transform="translate(298.40 577.83) scale(0.84 1)" text-anchor="end">80</text>
<line x1="301.80" y1="560.40" x2="304.60" y2="560.40" stroke="#111" stroke-width="0.7"/>
<text x="0" y="0" font-size="6.8" transform="translate(298.40 562.83) scale(0.84 1)" text-anchor="end">100</text>
<text x="281.50" y="591.00" font-size="6.3" text-anchor="middle" transform="rotate(-90 281.50 591.00)" dy="2.26">JN.1<tspan font-size="4.2" dy="-2.4">+</tspan><tspan dy="2.4">WT</tspan><tspan font-size="4.2" dy="-2.4">−</tspan><tspan dy="2.4">/ XBB.1.5</tspan><tspan font-size="4.2" dy="-2.4">+</tspan><tspan dy="2.4"> Titer (%)</tspan></text>
<line x1="312.10" y1="632.20" x2="312.10" y2="634.40" stroke="#111" stroke-width="0.7"/>
<text x="312.10" y="641.89" font-size="6.4" text-anchor="middle">T1</text>
<line x1="323.40" y1="632.20" x2="323.40" y2="634.40" stroke="#111" stroke-width="0.7"/>
<text x="323.40" y="641.89" font-size="6.4" text-anchor="middle">T3</text>
<line x1="312.10" y1="615.20" x2="323.40" y2="599.40" stroke="#d0d0d0" stroke-width="0.35"/>
<line x1="307.50" y1="612.20" x2="316.70" y2="612.20" stroke="#111" stroke-width="1.0"/>
<line x1="318.80" y1="600.20" x2="328.00" y2="600.20" stroke="#111" stroke-width="1.0"/>
<circle cx="312.10" cy="588.90" r="2.05" fill="#C77BEF" fill-opacity="0.7"/>
<circle cx="312.10" cy="615.20" r="2.05" fill="#C77BEF" fill-opacity="0.7"/>
<circle cx="312.10" cy="628.40" r="2.05" fill="#C77BEF" fill-opacity="0.7"/>
<circle cx="323.40" cy="599.40" r="2.05" fill="#C77BEF" fill-opacity="0.7"/>
<text x="0" y="0" font-size="8.6" transform="translate(312.10 556.58) scale(0.92 1)" text-anchor="middle" fill="#B552E8" style="stroke:#B552E8">32</text>
<text x="0" y="0" font-size="8.6" transform="translate(323.40 556.58) scale(0.92 1)" text-anchor="middle" fill="#B552E8" style="stroke:#B552E8">48</text>
<circle cx="308.20" cy="656.00" r="10.2" fill="#F0DEE4"/>
<path d="M308.20,656.00 L308.20,645.80 A10.2,10.2 0 0 1 317.43,660.34 Z" fill="#6E3CA0" stroke="#151515" stroke-width="0.85" stroke-linejoin="round"/>
<circle cx="308.20" cy="656.00" r="10.2" fill="none" stroke="#151515" stroke-width="0.85"/>
<circle cx="331.60" cy="656.00" r="10.2" fill="#F0DEE4"/>
<path d="M331.60,656.00 L331.60,645.80 A10.2,10.2 0 0 1 332.88,666.12 Z" fill="#6E3CA0" stroke="#151515" stroke-width="0.85" stroke-linejoin="round"/>
<circle cx="331.60" cy="656.00" r="10.2" fill="none" stroke="#151515" stroke-width="0.85"/>
<line x1="377.30" y1="550.00" x2="377.30" y2="632.62" stroke="#111" stroke-width="0.85"/>
<line x1="374.30" y1="553.90" x2="377.30" y2="553.90" stroke="#111" stroke-width="0.7"/>
<text x="0" y="0" transform="translate(372.00 557.13) scale(0.9 1)" font-size="6.8" text-anchor="end">2<tspan font-size="4.3" dx="0.6" dy="-3.3">18</tspan></text>
<line x1="374.30" y1="564.56" x2="377.30" y2="564.56" stroke="#111" stroke-width="0.7"/>
<text x="0" y="0" transform="translate(372.00 567.79) scale(0.9 1)" font-size="6.8" text-anchor="end">2<tspan font-size="4.3" dx="0.6" dy="-3.3">16</tspan></text>
<line x1="374.30" y1="575.22" x2="377.30" y2="575.22" stroke="#111" stroke-width="0.7"/>
<text x="0" y="0" transform="translate(372.00 578.45) scale(0.9 1)" font-size="6.8" text-anchor="end">2<tspan font-size="4.3" dx="0.6" dy="-3.3">14</tspan></text>
<line x1="374.30" y1="585.88" x2="377.30" y2="585.88" stroke="#111" stroke-width="0.7"/>
<text x="0" y="0" transform="translate(372.00 589.11) scale(0.9 1)" font-size="6.8" text-anchor="end">2<tspan font-size="4.3" dx="0.6" dy="-3.3">12</tspan></text>
<line x1="374.30" y1="596.54" x2="377.30" y2="596.54" stroke="#111" stroke-width="0.7"/>
<text x="0" y="0" transform="translate(372.00 599.77) scale(0.9 1)" font-size="6.8" text-anchor="end">2<tspan font-size="4.3" dx="0.6" dy="-3.3">10</tspan></text>
<line x1="374.30" y1="607.20" x2="377.30" y2="607.20" stroke="#111" stroke-width="0.7"/>
<text x="0" y="0" transform="translate(372.00 610.43) scale(0.9 1)" font-size="6.8" text-anchor="end">2<tspan font-size="4.3" dx="0.6" dy="-3.3">8</tspan></text>
<line x1="374.30" y1="617.86" x2="377.30" y2="617.86" stroke="#111" stroke-width="0.7"/>
<text x="0" y="0" transform="translate(372.00 621.09) scale(0.9 1)" font-size="6.8" text-anchor="end">2<tspan font-size="4.3" dx="0.6" dy="-3.3">6</tspan></text>
<line x1="374.30" y1="628.52" x2="377.30" y2="628.52" stroke="#111" stroke-width="0.7"/>
<text x="0" y="0" transform="translate(372.00 631.75) scale(0.9 1)" font-size="6.8" text-anchor="end">2<tspan font-size="4.3" dx="0.6" dy="-3.3">4</tspan></text>
<text x="356.80" y="592.31" font-size="6.4" text-anchor="middle" transform="rotate(-90 356.80 592.31)" dy="2.29">pVNT<tspan font-size="4.4" dy="1.6">50</tspan><tspan dy="-1.6"> Titer</tspan></text>
<line x1="377.30" y1="632.20" x2="425.90" y2="632.20" stroke="#111" stroke-width="0.85"/>
<line x1="377.30" y1="614.30" x2="425.90" y2="614.30" stroke="#a0a0a0" stroke-width="0.7" stroke-dasharray="2.2,2"/>
<text x="404.40" y="544.46" font-size="6.3" text-anchor="middle">T1 (n = 2)</text>
<line x1="384.00" y1="632.20" x2="384.00" y2="634.40" stroke="#111" stroke-width="0.7"/>
<text x="384.40" y="637.20" font-size="6.4" text-anchor="end" transform="rotate(-45 384.40 637.20)" dy="4.4">No Dp</text>
<line x1="395.75" y1="632.20" x2="395.75" y2="634.40" stroke="#111" stroke-width="0.7"/>
<text x="396.15" y="637.20" font-size="6.4" text-anchor="end" transform="rotate(-45 396.15 637.20)" dy="4.4">WT</text>
<line x1="407.50" y1="632.20" x2="407.50" y2="634.40" stroke="#111" stroke-width="0.7"/>
<text x="407.90" y="637.20" font-size="6.4" text-anchor="end" transform="rotate(-45 407.90 637.20)" dy="4.4">BA.5</text>
<line x1="419.25" y1="632.20" x2="419.25" y2="634.40" stroke="#111" stroke-width="0.7"/>
<text x="419.65" y="637.20" font-size="6.4" text-anchor="end" transform="rotate(-45 419.65 637.20)" dy="4.4">XBB.1.5</text>
<line x1="384.00" y1="608.20" x2="395.75" y2="612.70" stroke="#cbcbcb" stroke-width="0.35"/>
<line x1="384.00" y1="610.20" x2="395.75" y2="625.30" stroke="#cbcbcb" stroke-width="0.35"/>
<line x1="395.75" y1="612.70" x2="407.50" y2="616.30" stroke="#cbcbcb" stroke-width="0.35"/>
<line x1="395.75" y1="625.30" x2="407.50" y2="625.30" stroke="#cbcbcb" stroke-width="0.35"/>
<line x1="407.50" y1="616.30" x2="419.25" y2="610.60" stroke="#cbcbcb" stroke-width="0.35"/>
<line x1="407.50" y1="625.30" x2="419.25" y2="625.30" stroke="#cbcbcb" stroke-width="0.35"/>
<line x1="379.40" y1="610.20" x2="388.60" y2="610.20" stroke="#111" stroke-width="1.0"/>
<line x1="391.15" y1="620.20" x2="400.35" y2="620.20" stroke="#111" stroke-width="1.0"/>
<line x1="402.90" y1="622.30" x2="412.10" y2="622.30" stroke="#111" stroke-width="1.0"/>
<line x1="414.65" y1="619.20" x2="423.85" y2="619.20" stroke="#111" stroke-width="1.0"/>
<circle cx="384.00" cy="608.20" r="2.05" fill="#444444" fill-opacity="0.66"/>
<circle cx="384.00" cy="610.20" r="2.05" fill="#444444" fill-opacity="0.66"/>
<circle cx="395.75" cy="612.70" r="2.05" fill="#D55F4D" fill-opacity="0.66"/>
<circle cx="395.75" cy="625.30" r="2.05" fill="#D55F4D" fill-opacity="0.66"/>
<circle cx="407.50" cy="616.30" r="2.05" fill="#3B74B2" fill-opacity="0.66"/>
<circle cx="407.50" cy="625.30" r="2.05" fill="#3B74B2" fill-opacity="0.66"/>
<circle cx="419.25" cy="610.60" r="2.05" fill="#C9A23A" fill-opacity="0.66"/>
<circle cx="419.25" cy="625.30" r="2.05" fill="#C9A23A" fill-opacity="0.66"/>
<text x="384.00" y="563.99" font-size="6.4" text-anchor="middle">179</text>
<text x="395.75" y="563.99" font-size="6.4" text-anchor="middle">62</text>
<text x="395.75" y="557.79" font-size="6.4" text-anchor="middle">3x</text>
<text x="407.50" y="563.99" font-size="6.4" text-anchor="middle">41</text>
<text x="407.50" y="557.79" font-size="6.4" text-anchor="middle">4x</text>
<text x="419.25" y="563.99" font-size="6.4" text-anchor="middle">59</text>
<text x="419.25" y="557.79" font-size="6.4" text-anchor="middle">3x</text>
<line x1="431.90" y1="632.20" x2="480.60" y2="632.20" stroke="#111" stroke-width="0.85"/>
<line x1="431.90" y1="614.30" x2="480.60" y2="614.30" stroke="#a0a0a0" stroke-width="0.7" stroke-dasharray="2.2,2"/>
<text x="456.25" y="544.46" font-size="6.3" text-anchor="middle">T3 (n = 7)</text>
<line x1="439.10" y1="632.20" x2="439.10" y2="634.40" stroke="#111" stroke-width="0.7"/>
<text x="439.50" y="637.20" font-size="6.4" text-anchor="end" transform="rotate(-45 439.50 637.20)" dy="4.4">No Dp</text>
<line x1="450.73" y1="632.20" x2="450.73" y2="634.40" stroke="#111" stroke-width="0.7"/>
<text x="451.13" y="637.20" font-size="6.4" text-anchor="end" transform="rotate(-45 451.13 637.20)" dy="4.4">WT</text>
<line x1="462.36" y1="632.20" x2="462.36" y2="634.40" stroke="#111" stroke-width="0.7"/>
<text x="462.76" y="637.20" font-size="6.4" text-anchor="end" transform="rotate(-45 462.76 637.20)" dy="4.4">BA.5</text>
<line x1="473.99" y1="632.20" x2="473.99" y2="634.40" stroke="#111" stroke-width="0.7"/>
<text x="474.39" y="637.20" font-size="6.4" text-anchor="end" transform="rotate(-45 474.39 637.20)" dy="4.4">XBB.1.5</text>
<line x1="439.10" y1="586.50" x2="450.73" y2="588.50" stroke="#cbcbcb" stroke-width="0.35"/>
<line x1="439.10" y1="590.20" x2="450.73" y2="588.50" stroke="#cbcbcb" stroke-width="0.35"/>
<line x1="439.10" y1="593.20" x2="450.73" y2="589.80" stroke="#cbcbcb" stroke-width="0.35"/>
<line x1="439.10" y1="596.30" x2="450.73" y2="595.30" stroke="#cbcbcb" stroke-width="0.35"/>
<line x1="439.10" y1="598.80" x2="450.73" y2="601.40" stroke="#cbcbcb" stroke-width="0.35"/>
<line x1="439.10" y1="600.80" x2="450.73" y2="602.40" stroke="#cbcbcb" stroke-width="0.35"/>
<line x1="439.10" y1="604.50" x2="450.73" y2="625.30" stroke="#cbcbcb" stroke-width="0.35"/>
<line x1="450.73" y1="588.50" x2="462.36" y2="615.70" stroke="#cbcbcb" stroke-width="0.35"/>
<line x1="450.73" y1="589.80" x2="462.36" y2="615.70" stroke="#cbcbcb" stroke-width="0.35"/>
<line x1="450.73" y1="595.30" x2="462.36" y2="625.30" stroke="#cbcbcb" stroke-width="0.35"/>
<line x1="450.73" y1="601.40" x2="462.36" y2="625.30" stroke="#cbcbcb" stroke-width="0.35"/>
<line x1="450.73" y1="602.40" x2="462.36" y2="625.30" stroke="#cbcbcb" stroke-width="0.35"/>
<line x1="450.73" y1="625.30" x2="462.36" y2="625.30" stroke="#cbcbcb" stroke-width="0.35"/>
<line x1="462.36" y1="615.70" x2="473.99" y2="615.70" stroke="#cbcbcb" stroke-width="0.35"/>
<line x1="462.36" y1="625.30" x2="473.99" y2="625.30" stroke="#cbcbcb" stroke-width="0.35"/>
<line x1="462.36" y1="625.30" x2="473.99" y2="625.30" stroke="#cbcbcb" stroke-width="0.35"/>
<line x1="462.36" y1="625.30" x2="473.99" y2="625.30" stroke="#cbcbcb" stroke-width="0.35"/>
<line x1="434.50" y1="596.30" x2="443.70" y2="596.30" stroke="#111" stroke-width="1.0"/>
<line x1="446.13" y1="604.50" x2="455.33" y2="604.50" stroke="#111" stroke-width="1.0"/>
<line x1="457.76" y1="625.30" x2="466.96" y2="625.30" stroke="#111" stroke-width="1.0"/>
<line x1="469.39" y1="625.30" x2="478.59" y2="625.30" stroke="#111" stroke-width="1.0"/>
<circle cx="439.10" cy="586.50" r="2.05" fill="#444444" fill-opacity="0.66"/>
<circle cx="439.10" cy="590.20" r="2.05" fill="#444444" fill-opacity="0.66"/>
<circle cx="439.10" cy="593.20" r="2.05" fill="#444444" fill-opacity="0.66"/>
<circle cx="439.10" cy="596.30" r="2.05" fill="#444444" fill-opacity="0.66"/>
<circle cx="439.10" cy="598.80" r="2.05" fill="#444444" fill-opacity="0.66"/>
<circle cx="439.10" cy="600.80" r="2.05" fill="#444444" fill-opacity="0.66"/>
<circle cx="439.10" cy="604.50" r="2.05" fill="#444444" fill-opacity="0.66"/>
<circle cx="450.73" cy="588.50" r="2.05" fill="#D55F4D" fill-opacity="0.66"/>
<circle cx="450.73" cy="589.80" r="2.05" fill="#D55F4D" fill-opacity="0.66"/>
<circle cx="450.73" cy="595.30" r="2.05" fill="#D55F4D" fill-opacity="0.66"/>
<circle cx="450.73" cy="601.40" r="2.05" fill="#D55F4D" fill-opacity="0.66"/>
<circle cx="450.73" cy="602.40" r="2.05" fill="#D55F4D" fill-opacity="0.66"/>
<circle cx="450.73" cy="625.30" r="2.05" fill="#D55F4D" fill-opacity="0.66"/>
<circle cx="462.36" cy="615.70" r="2.05" fill="#3B74B2" fill-opacity="0.66"/>
<circle cx="462.36" cy="625.30" r="2.05" fill="#3B74B2" fill-opacity="0.66"/>
<circle cx="462.36" cy="625.30" r="2.05" fill="#3B74B2" fill-opacity="0.66"/>
<circle cx="462.36" cy="625.30" r="2.05" fill="#3B74B2" fill-opacity="0.66"/>
<circle cx="473.99" cy="615.70" r="2.05" fill="#C9A23A" fill-opacity="0.66"/>
<circle cx="473.99" cy="625.30" r="2.05" fill="#C9A23A" fill-opacity="0.66"/>
<circle cx="473.99" cy="625.30" r="2.05" fill="#C9A23A" fill-opacity="0.66"/>
<circle cx="473.99" cy="625.30" r="2.05" fill="#C9A23A" fill-opacity="0.66"/>
<text x="439.10" y="563.99" font-size="6.4" text-anchor="middle">1082</text>
<text x="450.73" y="563.99" font-size="6.4" text-anchor="middle">402</text>
<text x="450.73" y="557.79" font-size="6.4" text-anchor="middle">3x</text>
<text x="450.73" y="554.22" font-size="6.2" text-anchor="middle">*</text>
<text x="462.36" y="563.99" font-size="6.4" text-anchor="middle">27</text>
<text x="462.36" y="557.79" font-size="6.4" text-anchor="middle">40x</text>
<text x="462.36" y="554.22" font-size="6.2" text-anchor="middle">*</text>
<text x="473.99" y="563.99" font-size="6.4" text-anchor="middle">27</text>
<text x="473.99" y="557.79" font-size="6.4" text-anchor="middle">40x</text>
<text x="473.99" y="554.22" font-size="6.2" text-anchor="middle">*</text>
<text x="428.80" y="666.09" font-size="6.4" text-anchor="middle">Absorbed</text>
<line x1="519.80" y1="549.80" x2="519.80" y2="632.62" stroke="#111" stroke-width="0.85"/>
<line x1="519.80" y1="632.20" x2="545.50" y2="632.20" stroke="#111" stroke-width="0.85"/>
<line x1="517.00" y1="628.80" x2="519.80" y2="628.80" stroke="#111" stroke-width="0.7"/>
<text x="0" y="0" font-size="6.8" transform="translate(513.60 631.23) scale(0.84 1)" text-anchor="end">0</text>
<line x1="517.00" y1="615.20" x2="519.80" y2="615.20" stroke="#111" stroke-width="0.7"/>
<text x="0" y="0" font-size="6.8" transform="translate(513.60 617.63) scale(0.84 1)" text-anchor="end">20</text>
<line x1="517.00" y1="601.50" x2="519.80" y2="601.50" stroke="#111" stroke-width="0.7"/>
<text x="0" y="0" font-size="6.8" transform="translate(513.60 603.93) scale(0.84 1)" text-anchor="end">40</text>
<line x1="517.00" y1="587.70" x2="519.80" y2="587.70" stroke="#111" stroke-width="0.7"/>
<text x="0" y="0" font-size="6.8" transform="translate(513.60 590.13) scale(0.84 1)" text-anchor="end">60</text>
<line x1="517.00" y1="574.10" x2="519.80" y2="574.10" stroke="#111" stroke-width="0.7"/>
<text x="0" y="0" font-size="6.8" transform="translate(513.60 576.53) scale(0.84 1)" text-anchor="end">80</text>
<line x1="517.00" y1="560.10" x2="519.80" y2="560.10" stroke="#111" stroke-width="0.7"/>
<text x="0" y="0" font-size="6.8" transform="translate(513.60 562.53) scale(0.84 1)" text-anchor="end">100</text>
<text x="496.70" y="591.00" font-size="6.3" text-anchor="middle" transform="rotate(-90 496.70 591.00)" dy="2.26">JN.1<tspan font-size="4.2" dy="-2.4">+</tspan><tspan dy="2.4">WT</tspan><tspan font-size="4.2" dy="-2.4">−</tspan><tspan dy="2.4">/ JN.1</tspan><tspan font-size="4.2" dy="-2.4">+</tspan><tspan dy="2.4"> Titer (%)</tspan></text>
<line x1="526.50" y1="632.20" x2="526.50" y2="634.40" stroke="#111" stroke-width="0.7"/>
<text x="526.50" y="641.89" font-size="6.4" text-anchor="middle">T1</text>
<line x1="538.40" y1="632.20" x2="538.40" y2="634.40" stroke="#111" stroke-width="0.7"/>
<text x="538.40" y="641.89" font-size="6.4" text-anchor="middle">T3</text>
<line x1="526.50" y1="574.50" x2="538.40" y2="577.80" stroke="#d0d0d0" stroke-width="0.35"/>
<line x1="526.50" y1="628.40" x2="538.40" y2="560.10" stroke="#d0d0d0" stroke-width="0.35"/>
<line x1="521.90" y1="602.30" x2="531.10" y2="602.30" stroke="#111" stroke-width="1.0"/>
<line x1="533.80" y1="590.60" x2="543.00" y2="590.60" stroke="#111" stroke-width="1.0"/>
<circle cx="526.50" cy="574.50" r="2.05" fill="#C77BEF" fill-opacity="0.7"/>
<circle cx="526.50" cy="628.40" r="2.05" fill="#C77BEF" fill-opacity="0.7"/>
<circle cx="538.40" cy="560.10" r="2.05" fill="#C77BEF" fill-opacity="0.7"/>
<circle cx="538.40" cy="570.00" r="2.05" fill="#C77BEF" fill-opacity="0.7"/>
<circle cx="538.40" cy="577.80" r="2.05" fill="#C77BEF" fill-opacity="0.7"/>
<circle cx="538.40" cy="582.60" r="2.05" fill="#C77BEF" fill-opacity="0.7"/>
<circle cx="538.40" cy="587.70" r="2.05" fill="#C77BEF" fill-opacity="0.7"/>
<circle cx="538.40" cy="620.60" r="2.05" fill="#C77BEF" fill-opacity="0.7"/>
<circle cx="538.40" cy="628.40" r="2.05" fill="#C77BEF" fill-opacity="0.7"/>
<text x="0" y="0" font-size="8.6" transform="translate(526.50 556.78) scale(0.92 1)" text-anchor="middle" fill="#B552E8" style="stroke:#B552E8">40</text>
<text x="0" y="0" font-size="8.6" transform="translate(538.40 556.78) scale(0.92 1)" text-anchor="middle" fill="#B552E8" style="stroke:#B552E8">57</text>
<circle cx="520.10" cy="656.50" r="10.2" fill="#E8BACB"/>
<path d="M520.10,656.50 L520.10,646.30 A10.2,10.2 0 0 1 526.10,664.75 Z" fill="#6E3CA0" stroke="#151515" stroke-width="0.85" stroke-linejoin="round"/>
<circle cx="520.10" cy="656.50" r="10.2" fill="none" stroke="#151515" stroke-width="0.85"/>
<circle cx="543.40" cy="656.50" r="10.2" fill="#E8BACB"/>
<path d="M543.40,656.50 L543.40,646.30 A10.2,10.2 0 1 1 539.06,665.73 Z" fill="#6E3CA0" stroke="#151515" stroke-width="0.85" stroke-linejoin="round"/>
<circle cx="543.40" cy="656.50" r="10.2" fill="none" stroke="#151515" stroke-width="0.85"/>
<line x1="583.30" y1="549.80" x2="583.30" y2="632.62" stroke="#111" stroke-width="0.85"/>
<line x1="583.30" y1="632.20" x2="607.50" y2="632.20" stroke="#111" stroke-width="0.85"/>
<line x1="580.50" y1="628.80" x2="583.30" y2="628.80" stroke="#111" stroke-width="0.7"/>
<text x="0" y="0" font-size="6.8" transform="translate(577.10 631.23) scale(0.84 1)" text-anchor="end">0</text>
<line x1="580.50" y1="615.20" x2="583.30" y2="615.20" stroke="#111" stroke-width="0.7"/>
<text x="0" y="0" font-size="6.8" transform="translate(577.10 617.63) scale(0.84 1)" text-anchor="end">20</text>
<line x1="580.50" y1="601.50" x2="583.30" y2="601.50" stroke="#111" stroke-width="0.7"/>
<text x="0" y="0" font-size="6.8" transform="translate(577.10 603.93) scale(0.84 1)" text-anchor="end">40</text>
<line x1="580.50" y1="587.70" x2="583.30" y2="587.70" stroke="#111" stroke-width="0.7"/>
<text x="0" y="0" font-size="6.8" transform="translate(577.10 590.13) scale(0.84 1)" text-anchor="end">60</text>
<line x1="580.50" y1="574.10" x2="583.30" y2="574.10" stroke="#111" stroke-width="0.7"/>
<text x="0" y="0" font-size="6.8" transform="translate(577.10 576.53) scale(0.84 1)" text-anchor="end">80</text>
<line x1="580.50" y1="560.10" x2="583.30" y2="560.10" stroke="#111" stroke-width="0.7"/>
<text x="0" y="0" font-size="6.8" transform="translate(577.10 562.53) scale(0.84 1)" text-anchor="end">100</text>
<text x="560.20" y="591.00" font-size="6.3" text-anchor="middle" transform="rotate(-90 560.20 591.00)" dy="2.26">JN.1<tspan font-size="4.2" dy="-2.4">+</tspan><tspan dy="2.4">BA.5</tspan><tspan font-size="4.2" dy="-2.4">−</tspan><tspan dy="2.4">/ JN.1</tspan><tspan font-size="4.2" dy="-2.4">+</tspan><tspan dy="2.4"> Titer (%)</tspan></text>
<line x1="590.60" y1="632.20" x2="590.60" y2="634.40" stroke="#111" stroke-width="0.7"/>
<text x="590.60" y="641.89" font-size="6.4" text-anchor="middle">T1</text>
<line x1="602.40" y1="632.20" x2="602.40" y2="634.40" stroke="#111" stroke-width="0.7"/>
<text x="602.40" y="641.89" font-size="6.4" text-anchor="middle">T3</text>
<line x1="590.60" y1="604.40" x2="602.40" y2="628.00" stroke="#d0d0d0" stroke-width="0.35"/>
<line x1="590.60" y1="618.50" x2="602.40" y2="628.80" stroke="#d0d0d0" stroke-width="0.35"/>
<line x1="586.00" y1="612.30" x2="595.20" y2="612.30" stroke="#111" stroke-width="1.0"/>
<line x1="597.80" y1="628.80" x2="607.00" y2="628.80" stroke="#111" stroke-width="1.0"/>
<circle cx="590.60" cy="604.40" r="2.05" fill="#C77BEF" fill-opacity="0.7"/>
<circle cx="590.60" cy="618.50" r="2.05" fill="#C77BEF" fill-opacity="0.7"/>
<circle cx="602.40" cy="625.90" r="2.05" fill="#C77BEF" fill-opacity="0.7"/>
<circle cx="602.40" cy="628.00" r="2.05" fill="#C77BEF" fill-opacity="0.7"/>
<circle cx="602.40" cy="629.10" r="2.05" fill="#C77BEF" fill-opacity="0.7"/>
<text x="0" y="0" font-size="8.6" transform="translate(590.60 556.78) scale(0.92 1)" text-anchor="middle" fill="#B552E8" style="stroke:#B552E8">25</text>
<text x="0" y="0" font-size="8.6" transform="translate(602.40 556.78) scale(0.92 1)" text-anchor="middle" fill="#B552E8" style="stroke:#B552E8">1</text>
<circle cx="584.70" cy="656.50" r="10.2" fill="#D2D0EB"/>
<path d="M584.70,656.50 L584.70,646.30 A10.2,10.2 0 0 1 594.90,656.50 Z" fill="#6E3CA0" stroke="#151515" stroke-width="0.85" stroke-linejoin="round"/>
<circle cx="584.70" cy="656.50" r="10.2" fill="none" stroke="#151515" stroke-width="0.85"/>
<circle cx="606.90" cy="656.50" r="10.2" fill="#D2D0EB"/>
<path d="M606.90,656.50 L606.90,646.30 A10.2,10.2 0 0 1 607.54,646.32 Z" fill="#6E3CA0" stroke="#151515" stroke-width="0.85" stroke-linejoin="round"/>
<circle cx="606.90" cy="656.50" r="10.2" fill="none" stroke="#151515" stroke-width="0.85"/>
<line x1="648.30" y1="549.80" x2="648.30" y2="632.62" stroke="#111" stroke-width="0.85"/>
<line x1="648.30" y1="632.20" x2="680.00" y2="632.20" stroke="#111" stroke-width="0.85"/>
<line x1="645.50" y1="628.80" x2="648.30" y2="628.80" stroke="#111" stroke-width="0.7"/>
<text x="0" y="0" font-size="6.8" transform="translate(642.10 631.23) scale(0.84 1)" text-anchor="end">0</text>
<line x1="645.50" y1="615.20" x2="648.30" y2="615.20" stroke="#111" stroke-width="0.7"/>
<text x="0" y="0" font-size="6.8" transform="translate(642.10 617.63) scale(0.84 1)" text-anchor="end">20</text>
<line x1="645.50" y1="601.50" x2="648.30" y2="601.50" stroke="#111" stroke-width="0.7"/>
<text x="0" y="0" font-size="6.8" transform="translate(642.10 603.93) scale(0.84 1)" text-anchor="end">40</text>
<line x1="645.50" y1="587.70" x2="648.30" y2="587.70" stroke="#111" stroke-width="0.7"/>
<text x="0" y="0" font-size="6.8" transform="translate(642.10 590.13) scale(0.84 1)" text-anchor="end">60</text>
<line x1="645.50" y1="574.10" x2="648.30" y2="574.10" stroke="#111" stroke-width="0.7"/>
<text x="0" y="0" font-size="6.8" transform="translate(642.10 576.53) scale(0.84 1)" text-anchor="end">80</text>
<line x1="645.50" y1="560.10" x2="648.30" y2="560.10" stroke="#111" stroke-width="0.7"/>
<text x="0" y="0" font-size="6.8" transform="translate(642.10 562.53) scale(0.84 1)" text-anchor="end">100</text>
<text x="625.20" y="591.00" font-size="6.3" text-anchor="middle" transform="rotate(-90 625.20 591.00)" dy="2.26">JN.1<tspan font-size="4.2" dy="-2.4">+</tspan><tspan dy="2.4">WT</tspan><tspan font-size="4.2" dy="-2.4">−</tspan><tspan dy="2.4">/ XBB.1.5</tspan><tspan font-size="4.2" dy="-2.4">+</tspan><tspan dy="2.4"> Titer (%)</tspan></text>
<line x1="655.50" y1="632.20" x2="655.50" y2="634.40" stroke="#111" stroke-width="0.7"/>
<text x="655.50" y="641.89" font-size="6.4" text-anchor="middle">T1</text>
<line x1="667.30" y1="632.20" x2="667.30" y2="634.40" stroke="#111" stroke-width="0.7"/>
<text x="667.30" y="641.89" font-size="6.4" text-anchor="middle">T3</text>
<line x1="655.50" y1="577.20" x2="667.30" y2="629.00" stroke="#d0d0d0" stroke-width="0.35"/>
<line x1="655.50" y1="619.10" x2="667.30" y2="628.00" stroke="#d0d0d0" stroke-width="0.35"/>
<line x1="650.90" y1="599.10" x2="660.10" y2="599.10" stroke="#111" stroke-width="1.0"/>
<line x1="662.70" y1="629.40" x2="671.90" y2="629.40" stroke="#111" stroke-width="1.0"/>
<circle cx="655.50" cy="577.20" r="2.05" fill="#C77BEF" fill-opacity="0.7"/>
<circle cx="655.50" cy="619.10" r="2.05" fill="#C77BEF" fill-opacity="0.7"/>
<circle cx="667.30" cy="628.00" r="2.05" fill="#C77BEF" fill-opacity="0.7"/>
<circle cx="667.30" cy="629.10" r="2.05" fill="#C77BEF" fill-opacity="0.7"/>
<text x="0" y="0" font-size="8.6" transform="translate(655.50 556.78) scale(0.92 1)" text-anchor="middle" fill="#B552E8" style="stroke:#B552E8">45</text>
<text x="0" y="0" font-size="8.6" transform="translate(667.30 556.78) scale(0.92 1)" text-anchor="middle" fill="#B552E8" style="stroke:#B552E8">1</text>
<circle cx="648.10" cy="656.50" r="10.2" fill="#F0DEE4"/>
<path d="M648.10,656.50 L648.10,646.30 A10.2,10.2 0 0 1 651.25,666.20 Z" fill="#6E3CA0" stroke="#151515" stroke-width="0.85" stroke-linejoin="round"/>
<circle cx="648.10" cy="656.50" r="10.2" fill="none" stroke="#151515" stroke-width="0.85"/>
<circle cx="671.70" cy="656.50" r="10.2" fill="#F0DEE4"/>
<path d="M671.70,656.50 L671.70,646.30 A10.2,10.2 0 0 1 672.34,646.32 Z" fill="#6E3CA0" stroke="#151515" stroke-width="0.85" stroke-linejoin="round"/>
<circle cx="671.70" cy="656.50" r="10.2" fill="none" stroke="#151515" stroke-width="0.85"/>
<text x="559.30" y="513.76" font-size="6.3" font-weight="bold">Pie Chart</text>
<rect x="558.40" y="517.40" width="9.00" height="9.00" fill="#6E3CA0"/>
<text x="569.60" y="524.12" font-size="6.2">JN.1−specific</text>
<rect x="558.40" y="532.50" width="9.00" height="9.00" fill="#E8BACB"/>
<text x="569.60" y="535.22" font-size="6.2">WT and JN.1</text>
<text x="569.60" y="543.22" font-size="6.2">cross−reactive</text>
<rect x="617.70" y="516.90" width="9.00" height="9.00" fill="#D2D0EB"/>
<text x="628.90" y="519.82" font-size="6.2">BA.5 and JN.1</text>
<text x="628.90" y="527.42" font-size="6.2">cross−reactive</text>
<rect x="617.70" y="532.50" width="9.00" height="9.00" fill="#F0DEE4"/>
<text x="628.90" y="535.22" font-size="6.2">XBB.1.5 and JN.1</text>
<text x="628.90" y="543.22" font-size="6.2">cross−reactive</text>
<line x1="377.70" y1="717.50" x2="377.70" y2="800.02" stroke="#111" stroke-width="0.85"/>
<line x1="374.70" y1="721.40" x2="377.70" y2="721.40" stroke="#111" stroke-width="0.7"/>
<text x="0" y="0" transform="translate(372.40 724.63) scale(0.9 1)" font-size="6.8" text-anchor="end">2<tspan font-size="4.3" dx="0.6" dy="-3.3">18</tspan></text>
<line x1="374.70" y1="732.14" x2="377.70" y2="732.14" stroke="#111" stroke-width="0.7"/>
<text x="0" y="0" transform="translate(372.40 735.37) scale(0.9 1)" font-size="6.8" text-anchor="end">2<tspan font-size="4.3" dx="0.6" dy="-3.3">16</tspan></text>
<line x1="374.70" y1="742.88" x2="377.70" y2="742.88" stroke="#111" stroke-width="0.7"/>
<text x="0" y="0" transform="translate(372.40 746.11) scale(0.9 1)" font-size="6.8" text-anchor="end">2<tspan font-size="4.3" dx="0.6" dy="-3.3">14</tspan></text>
<line x1="374.70" y1="753.62" x2="377.70" y2="753.62" stroke="#111" stroke-width="0.7"/>
<text x="0" y="0" transform="translate(372.40 756.85) scale(0.9 1)" font-size="6.8" text-anchor="end">2<tspan font-size="4.3" dx="0.6" dy="-3.3">12</tspan></text>
<line x1="374.70" y1="764.36" x2="377.70" y2="764.36" stroke="#111" stroke-width="0.7"/>
<text x="0" y="0" transform="translate(372.40 767.59) scale(0.9 1)" font-size="6.8" text-anchor="end">2<tspan font-size="4.3" dx="0.6" dy="-3.3">10</tspan></text>
<line x1="374.70" y1="775.10" x2="377.70" y2="775.10" stroke="#111" stroke-width="0.7"/>
<text x="0" y="0" transform="translate(372.40 778.33) scale(0.9 1)" font-size="6.8" text-anchor="end">2<tspan font-size="4.3" dx="0.6" dy="-3.3">8</tspan></text>
<line x1="374.70" y1="785.84" x2="377.70" y2="785.84" stroke="#111" stroke-width="0.7"/>
<text x="0" y="0" transform="translate(372.40 789.07) scale(0.9 1)" font-size="6.8" text-anchor="end">2<tspan font-size="4.3" dx="0.6" dy="-3.3">6</tspan></text>
<line x1="374.70" y1="796.58" x2="377.70" y2="796.58" stroke="#111" stroke-width="0.7"/>
<text x="0" y="0" transform="translate(372.40 799.81) scale(0.9 1)" font-size="6.8" text-anchor="end">2<tspan font-size="4.3" dx="0.6" dy="-3.3">4</tspan></text>
<text x="357.20" y="760.09" font-size="6.4" text-anchor="middle" transform="rotate(-90 357.20 760.09)" dy="2.29">pVNT<tspan font-size="4.4" dy="1.6">50</tspan><tspan dy="-1.6"> Titer</tspan></text>
<line x1="377.70" y1="799.60" x2="426.30" y2="799.60" stroke="#111" stroke-width="0.85"/>
<line x1="377.70" y1="781.70" x2="426.30" y2="781.70" stroke="#c8c8c8" stroke-width="1.3" stroke-dasharray="2.2,2"/>
<text x="404.80" y="711.96" font-size="6.3" text-anchor="middle">T1 (n = 1)</text>
<line x1="384.40" y1="799.60" x2="384.40" y2="801.80" stroke="#111" stroke-width="0.7"/>
<text x="384.80" y="804.60" font-size="6.4" text-anchor="end" transform="rotate(-45 384.80 804.60)" dy="4.4">No Dp</text>
<line x1="396.15" y1="799.60" x2="396.15" y2="801.80" stroke="#111" stroke-width="0.7"/>
<text x="396.55" y="804.60" font-size="6.4" text-anchor="end" transform="rotate(-45 396.55 804.60)" dy="4.4">WT</text>
<line x1="407.90" y1="799.60" x2="407.90" y2="801.80" stroke="#111" stroke-width="0.7"/>
<text x="408.30" y="804.60" font-size="6.4" text-anchor="end" transform="rotate(-45 408.30 804.60)" dy="4.4">BA.5</text>
<line x1="419.65" y1="799.60" x2="419.65" y2="801.80" stroke="#111" stroke-width="0.7"/>
<text x="420.05" y="804.60" font-size="6.4" text-anchor="end" transform="rotate(-45 420.05 804.60)" dy="4.4">XBB.1.5</text>
<line x1="384.40" y1="773.10" x2="396.15" y2="787.40" stroke="#cbcbcb" stroke-width="0.35"/>
<line x1="396.15" y1="787.40" x2="407.90" y2="786.00" stroke="#cbcbcb" stroke-width="0.35"/>
<line x1="407.90" y1="786.00" x2="419.65" y2="775.10" stroke="#cbcbcb" stroke-width="0.35"/>
<line x1="379.80" y1="774.10" x2="389.00" y2="774.10" stroke="#111" stroke-width="1.0"/>
<line x1="391.55" y1="788.00" x2="400.75" y2="788.00" stroke="#111" stroke-width="1.0"/>
<line x1="403.30" y1="786.40" x2="412.50" y2="786.40" stroke="#111" stroke-width="1.0"/>
<line x1="415.05" y1="776.10" x2="424.25" y2="776.10" stroke="#111" stroke-width="1.0"/>
<circle cx="384.40" cy="773.10" r="2.05" fill="#444444" fill-opacity="0.66"/>
<circle cx="396.15" cy="787.40" r="2.05" fill="#D55F4D" fill-opacity="0.66"/>
<circle cx="407.90" cy="786.00" r="2.05" fill="#3B74B2" fill-opacity="0.66"/>
<circle cx="419.65" cy="775.10" r="2.05" fill="#C9A23A" fill-opacity="0.66"/>
<text x="384.40" y="731.79" font-size="6.4" text-anchor="middle">294</text>
<text x="396.15" y="731.79" font-size="6.4" text-anchor="middle">50</text>
<text x="396.15" y="725.79" font-size="6.4" text-anchor="middle">6x</text>
<text x="407.90" y="731.79" font-size="6.4" text-anchor="middle">62</text>
<text x="407.90" y="725.79" font-size="6.4" text-anchor="middle">5x</text>
<text x="419.65" y="731.79" font-size="6.4" text-anchor="middle">242</text>
<text x="419.65" y="725.79" font-size="6.4" text-anchor="middle">1x</text>
<line x1="432.30" y1="799.60" x2="481.00" y2="799.60" stroke="#111" stroke-width="0.85"/>
<line x1="432.30" y1="781.70" x2="481.00" y2="781.70" stroke="#c8c8c8" stroke-width="1.3" stroke-dasharray="2.2,2"/>
<text x="456.65" y="711.96" font-size="6.3" text-anchor="middle">T3 (n = 7)</text>
<line x1="439.50" y1="799.60" x2="439.50" y2="801.80" stroke="#111" stroke-width="0.7"/>
<text x="439.90" y="804.60" font-size="6.4" text-anchor="end" transform="rotate(-45 439.90 804.60)" dy="4.4">No Dp</text>
<line x1="451.13" y1="799.60" x2="451.13" y2="801.80" stroke="#111" stroke-width="0.7"/>
<text x="451.53" y="804.60" font-size="6.4" text-anchor="end" transform="rotate(-45 451.53 804.60)" dy="4.4">WT</text>
<line x1="462.76" y1="799.60" x2="462.76" y2="801.80" stroke="#111" stroke-width="0.7"/>
<text x="463.16" y="804.60" font-size="6.4" text-anchor="end" transform="rotate(-45 463.16 804.60)" dy="4.4">BA.5</text>
<line x1="474.39" y1="799.60" x2="474.39" y2="801.80" stroke="#111" stroke-width="0.7"/>
<text x="474.79" y="804.60" font-size="6.4" text-anchor="end" transform="rotate(-45 474.79 804.60)" dy="4.4">XBB.1.5</text>
<line x1="439.50" y1="764.30" x2="451.13" y2="768.00" stroke="#cbcbcb" stroke-width="0.35"/>
<line x1="439.50" y1="766.90" x2="451.13" y2="770.00" stroke="#cbcbcb" stroke-width="0.35"/>
<line x1="439.50" y1="772.00" x2="451.13" y2="776.10" stroke="#cbcbcb" stroke-width="0.35"/>
<line x1="439.50" y1="774.10" x2="451.13" y2="778.20" stroke="#cbcbcb" stroke-width="0.35"/>
<line x1="439.50" y1="777.20" x2="451.13" y2="782.30" stroke="#cbcbcb" stroke-width="0.35"/>
<line x1="439.50" y1="780.20" x2="451.13" y2="784.30" stroke="#cbcbcb" stroke-width="0.35"/>
<line x1="451.13" y1="768.00" x2="462.76" y2="782.30" stroke="#cbcbcb" stroke-width="0.35"/>
<line x1="451.13" y1="770.00" x2="462.76" y2="785.30" stroke="#cbcbcb" stroke-width="0.35"/>
<line x1="451.13" y1="776.10" x2="462.76" y2="787.40" stroke="#cbcbcb" stroke-width="0.35"/>
<line x1="451.13" y1="778.20" x2="462.76" y2="789.40" stroke="#cbcbcb" stroke-width="0.35"/>
<line x1="451.13" y1="782.30" x2="462.76" y2="790.40" stroke="#cbcbcb" stroke-width="0.35"/>
<line x1="451.13" y1="784.30" x2="462.76" y2="793.50" stroke="#cbcbcb" stroke-width="0.35"/>
<line x1="462.76" y1="782.30" x2="474.39" y2="782.30" stroke="#cbcbcb" stroke-width="0.35"/>
<line x1="462.76" y1="785.30" x2="474.39" y2="782.30" stroke="#cbcbcb" stroke-width="0.35"/>
<line x1="462.76" y1="787.40" x2="474.39" y2="784.30" stroke="#cbcbcb" stroke-width="0.35"/>
<line x1="462.76" y1="789.40" x2="474.39" y2="786.40" stroke="#cbcbcb" stroke-width="0.35"/>
<line x1="462.76" y1="790.40" x2="474.39" y2="788.40" stroke="#cbcbcb" stroke-width="0.35"/>
<line x1="462.76" y1="793.50" x2="474.39" y2="790.40" stroke="#cbcbcb" stroke-width="0.35"/>
<line x1="434.90" y1="774.10" x2="444.10" y2="774.10" stroke="#111" stroke-width="1.0"/>
<line x1="446.53" y1="779.20" x2="455.73" y2="779.20" stroke="#111" stroke-width="1.0"/>
<line x1="458.16" y1="788.40" x2="467.36" y2="788.40" stroke="#111" stroke-width="1.0"/>
<line x1="469.79" y1="787.40" x2="478.99" y2="787.40" stroke="#111" stroke-width="1.0"/>
<circle cx="439.50" cy="764.30" r="2.05" fill="#444444" fill-opacity="0.66"/>
<circle cx="439.50" cy="766.90" r="2.05" fill="#444444" fill-opacity="0.66"/>
<circle cx="439.50" cy="772.00" r="2.05" fill="#444444" fill-opacity="0.66"/>
<circle cx="439.50" cy="774.10" r="2.05" fill="#444444" fill-opacity="0.66"/>
<circle cx="439.50" cy="777.20" r="2.05" fill="#444444" fill-opacity="0.66"/>
<circle cx="439.50" cy="780.20" r="2.05" fill="#444444" fill-opacity="0.66"/>
<circle cx="451.13" cy="768.00" r="2.05" fill="#D55F4D" fill-opacity="0.66"/>
<circle cx="451.13" cy="770.00" r="2.05" fill="#D55F4D" fill-opacity="0.66"/>
<circle cx="451.13" cy="776.10" r="2.05" fill="#D55F4D" fill-opacity="0.66"/>
<circle cx="451.13" cy="778.20" r="2.05" fill="#D55F4D" fill-opacity="0.66"/>
<circle cx="451.13" cy="782.30" r="2.05" fill="#D55F4D" fill-opacity="0.66"/>
<circle cx="451.13" cy="784.30" r="2.05" fill="#D55F4D" fill-opacity="0.66"/>
<circle cx="462.76" cy="782.30" r="2.05" fill="#3B74B2" fill-opacity="0.66"/>
<circle cx="462.76" cy="785.30" r="2.05" fill="#3B74B2" fill-opacity="0.66"/>
<circle cx="462.76" cy="787.40" r="2.05" fill="#3B74B2" fill-opacity="0.66"/>
<circle cx="462.76" cy="789.40" r="2.05" fill="#3B74B2" fill-opacity="0.66"/>
<circle cx="462.76" cy="790.40" r="2.05" fill="#3B74B2" fill-opacity="0.66"/>
<circle cx="462.76" cy="793.50" r="2.05" fill="#3B74B2" fill-opacity="0.66"/>
<circle cx="474.39" cy="782.30" r="2.05" fill="#C9A23A" fill-opacity="0.66"/>
<circle cx="474.39" cy="784.30" r="2.05" fill="#C9A23A" fill-opacity="0.66"/>
<circle cx="474.39" cy="786.40" r="2.05" fill="#C9A23A" fill-opacity="0.66"/>
<circle cx="474.39" cy="788.40" r="2.05" fill="#C9A23A" fill-opacity="0.66"/>
<circle cx="474.39" cy="790.40" r="2.05" fill="#C9A23A" fill-opacity="0.66"/>
<text x="439.50" y="731.79" font-size="6.4" text-anchor="middle">312</text>
<text x="451.13" y="731.79" font-size="6.4" text-anchor="middle">157</text>
<text x="451.13" y="725.79" font-size="6.4" text-anchor="middle">2x</text>
<text x="451.13" y="722.92" font-size="6.2" text-anchor="middle">*</text>
<text x="462.76" y="731.79" font-size="6.4" text-anchor="middle">47</text>
<text x="462.76" y="725.79" font-size="6.4" text-anchor="middle">7x</text>
<text x="462.76" y="722.92" font-size="6.2" text-anchor="middle">*</text>
<text x="474.39" y="731.79" font-size="6.4" text-anchor="middle">56</text>
<text x="474.39" y="725.79" font-size="6.4" text-anchor="middle">6x</text>
<text x="474.39" y="722.92" font-size="6.2" text-anchor="middle">*</text>
<text x="429.90" y="833.19" font-size="6.4" text-anchor="middle">Absorbed</text>
<line x1="521.30" y1="718.80" x2="521.30" y2="801.12" stroke="#111" stroke-width="0.85"/>
<line x1="521.30" y1="800.70" x2="547.00" y2="800.70" stroke="#111" stroke-width="0.85"/>
<line x1="518.50" y1="796.90" x2="521.30" y2="796.90" stroke="#111" stroke-width="0.7"/>
<text x="0" y="0" font-size="6.8" transform="translate(515.10 799.33) scale(0.84 1)" text-anchor="end">0</text>
<line x1="518.50" y1="783.00" x2="521.30" y2="783.00" stroke="#111" stroke-width="0.7"/>
<text x="0" y="0" font-size="6.8" transform="translate(515.10 785.43) scale(0.84 1)" text-anchor="end">20</text>
<line x1="518.50" y1="769.50" x2="521.30" y2="769.50" stroke="#111" stroke-width="0.7"/>
<text x="0" y="0" font-size="6.8" transform="translate(515.10 771.93) scale(0.84 1)" text-anchor="end">40</text>
<line x1="518.50" y1="755.60" x2="521.30" y2="755.60" stroke="#111" stroke-width="0.7"/>
<text x="0" y="0" font-size="6.8" transform="translate(515.10 758.03) scale(0.84 1)" text-anchor="end">60</text>
<line x1="518.50" y1="741.80" x2="521.30" y2="741.80" stroke="#111" stroke-width="0.7"/>
<text x="0" y="0" font-size="6.8" transform="translate(515.10 744.23) scale(0.84 1)" text-anchor="end">80</text>
<line x1="518.50" y1="728.20" x2="521.30" y2="728.20" stroke="#111" stroke-width="0.7"/>
<text x="0" y="0" font-size="6.8" transform="translate(515.10 730.63) scale(0.84 1)" text-anchor="end">100</text>
<text x="498.20" y="759.75" font-size="6.3" text-anchor="middle" transform="rotate(-90 498.20 759.75)" dy="2.26">XEC<tspan font-size="4.2" dy="-2.4">+</tspan><tspan dy="2.4">WT</tspan><tspan font-size="4.2" dy="-2.4">−</tspan><tspan dy="2.4">/ XEC</tspan><tspan font-size="4.2" dy="-2.4">+</tspan><tspan dy="2.4"> Titer (%)</tspan></text>
<line x1="526.60" y1="800.70" x2="526.60" y2="802.90" stroke="#111" stroke-width="0.7"/>
<text x="526.60" y="810.39" font-size="6.4" text-anchor="middle">T1</text>
<line x1="537.60" y1="800.70" x2="537.60" y2="802.90" stroke="#111" stroke-width="0.7"/>
<text x="537.60" y="810.39" font-size="6.4" text-anchor="middle">T3</text>
<line x1="526.60" y1="796.90" x2="537.60" y2="763.00" stroke="#d0d0d0" stroke-width="0.35"/>
<line x1="522.00" y1="796.90" x2="531.20" y2="796.90" stroke="#111" stroke-width="1.0"/>
<line x1="533.00" y1="762.40" x2="542.20" y2="762.40" stroke="#111" stroke-width="1.0"/>
<circle cx="526.60" cy="796.90" r="2.05" fill="#EE9AD6" fill-opacity="0.7"/>
<circle cx="537.60" cy="724.70" r="2.05" fill="#EE9AD6" fill-opacity="0.7"/>
<circle cx="537.60" cy="745.30" r="2.05" fill="#EE9AD6" fill-opacity="0.7"/>
<circle cx="537.60" cy="748.20" r="2.05" fill="#EE9AD6" fill-opacity="0.7"/>
<circle cx="537.60" cy="763.00" r="2.05" fill="#EE9AD6" fill-opacity="0.7"/>
<circle cx="537.60" cy="789.00" r="2.05" fill="#EE9AD6" fill-opacity="0.7"/>
<circle cx="537.60" cy="795.40" r="2.05" fill="#EE9AD6" fill-opacity="0.7"/>
<text x="0" y="0" font-size="8.6" transform="translate(526.60 724.78) scale(0.92 1)" text-anchor="middle" fill="#E283C8" style="stroke:#E283C8">1</text>
<text x="0" y="0" font-size="8.6" transform="translate(537.60 724.78) scale(0.92 1)" text-anchor="middle" fill="#E283C8" style="stroke:#E283C8">51</text>
<circle cx="519.90" cy="824.90" r="10.2" fill="#EDB4B6"/>
<path d="M519.90,824.90 L519.90,814.70 A10.2,10.2 0 0 1 520.54,814.72 Z" fill="#D987C4" stroke="#151515" stroke-width="0.85" stroke-linejoin="round"/>
<circle cx="519.90" cy="824.90" r="10.2" fill="none" stroke="#151515" stroke-width="0.85"/>
<circle cx="543.50" cy="824.90" r="10.2" fill="#EDB4B6"/>
<path d="M543.50,824.90 L543.50,814.70 A10.2,10.2 0 1 1 542.86,835.08 Z" fill="#D987C4" stroke="#151515" stroke-width="0.85" stroke-linejoin="round"/>
<circle cx="543.50" cy="824.90" r="10.2" fill="none" stroke="#151515" stroke-width="0.85"/>
<line x1="583.30" y1="718.80" x2="583.30" y2="801.12" stroke="#111" stroke-width="0.85"/>
<line x1="583.30" y1="800.70" x2="607.50" y2="800.70" stroke="#111" stroke-width="0.85"/>
<line x1="580.50" y1="796.90" x2="583.30" y2="796.90" stroke="#111" stroke-width="0.7"/>
<text x="0" y="0" font-size="6.8" transform="translate(577.10 799.33) scale(0.84 1)" text-anchor="end">0</text>
<line x1="580.50" y1="783.00" x2="583.30" y2="783.00" stroke="#111" stroke-width="0.7"/>
<text x="0" y="0" font-size="6.8" transform="translate(577.10 785.43) scale(0.84 1)" text-anchor="end">20</text>
<line x1="580.50" y1="769.50" x2="583.30" y2="769.50" stroke="#111" stroke-width="0.7"/>
<text x="0" y="0" font-size="6.8" transform="translate(577.10 771.93) scale(0.84 1)" text-anchor="end">40</text>
<line x1="580.50" y1="755.60" x2="583.30" y2="755.60" stroke="#111" stroke-width="0.7"/>
<text x="0" y="0" font-size="6.8" transform="translate(577.10 758.03) scale(0.84 1)" text-anchor="end">60</text>
<line x1="580.50" y1="741.80" x2="583.30" y2="741.80" stroke="#111" stroke-width="0.7"/>
<text x="0" y="0" font-size="6.8" transform="translate(577.10 744.23) scale(0.84 1)" text-anchor="end">80</text>
<line x1="580.50" y1="728.20" x2="583.30" y2="728.20" stroke="#111" stroke-width="0.7"/>
<text x="0" y="0" font-size="6.8" transform="translate(577.10 730.63) scale(0.84 1)" text-anchor="end">100</text>
<text x="560.20" y="759.75" font-size="6.3" text-anchor="middle" transform="rotate(-90 560.20 759.75)" dy="2.26">XEC<tspan font-size="4.2" dy="-2.4">+</tspan><tspan dy="2.4">BA.5</tspan><tspan font-size="4.2" dy="-2.4">−</tspan><tspan dy="2.4">/ XEC</tspan><tspan font-size="4.2" dy="-2.4">+</tspan><tspan dy="2.4"> Titer (%)</tspan></text>
<line x1="590.60" y1="800.70" x2="590.60" y2="802.90" stroke="#111" stroke-width="0.7"/>
<text x="590.60" y="810.39" font-size="6.4" text-anchor="middle">T1</text>
<line x1="602.40" y1="800.70" x2="602.40" y2="802.90" stroke="#111" stroke-width="0.7"/>
<text x="602.40" y="810.39" font-size="6.4" text-anchor="middle">T3</text>
<line x1="590.60" y1="796.30" x2="602.40" y2="792.50" stroke="#d0d0d0" stroke-width="0.35"/>
<line x1="586.00" y1="796.90" x2="595.20" y2="796.90" stroke="#111" stroke-width="1.0"/>
<line x1="597.80" y1="792.50" x2="607.00" y2="792.50" stroke="#111" stroke-width="1.0"/>
<circle cx="590.60" cy="796.30" r="2.05" fill="#EE9AD6" fill-opacity="0.7"/>
<circle cx="602.40" cy="773.30" r="2.05" fill="#EE9AD6" fill-opacity="0.7"/>
<circle cx="602.40" cy="788.10" r="2.05" fill="#EE9AD6" fill-opacity="0.7"/>
<circle cx="602.40" cy="792.50" r="2.05" fill="#EE9AD6" fill-opacity="0.7"/>
<circle cx="602.40" cy="795.40" r="2.05" fill="#EE9AD6" fill-opacity="0.7"/>
<text x="0" y="0" font-size="8.6" transform="translate(590.60 724.78) scale(0.92 1)" text-anchor="middle" fill="#E283C8" style="stroke:#E283C8">1</text>
<text x="0" y="0" font-size="8.6" transform="translate(602.40 724.78) scale(0.92 1)" text-anchor="middle" fill="#E283C8" style="stroke:#E283C8">7</text>
<circle cx="584.70" cy="824.90" r="10.2" fill="#CFCDE6"/>
<path d="M584.70,824.90 L584.70,814.70 A10.2,10.2 0 0 1 585.34,814.72 Z" fill="#D987C4" stroke="#151515" stroke-width="0.85" stroke-linejoin="round"/>
<circle cx="584.70" cy="824.90" r="10.2" fill="none" stroke="#151515" stroke-width="0.85"/>
<circle cx="606.90" cy="824.90" r="10.2" fill="#CFCDE6"/>
<path d="M606.90,824.90 L606.90,814.70 A10.2,10.2 0 0 1 611.24,815.67 Z" fill="#D987C4" stroke="#151515" stroke-width="0.85" stroke-linejoin="round"/>
<circle cx="606.90" cy="824.90" r="10.2" fill="none" stroke="#151515" stroke-width="0.85"/>
<line x1="645.80" y1="718.80" x2="645.80" y2="801.12" stroke="#111" stroke-width="0.85"/>
<line x1="645.80" y1="800.70" x2="680.00" y2="800.70" stroke="#111" stroke-width="0.85"/>
<line x1="643.00" y1="796.90" x2="645.80" y2="796.90" stroke="#111" stroke-width="0.7"/>
<text x="0" y="0" font-size="6.8" transform="translate(639.60 799.33) scale(0.84 1)" text-anchor="end">0</text>
<line x1="643.00" y1="783.00" x2="645.80" y2="783.00" stroke="#111" stroke-width="0.7"/>
<text x="0" y="0" font-size="6.8" transform="translate(639.60 785.43) scale(0.84 1)" text-anchor="end">20</text>
<line x1="643.00" y1="769.50" x2="645.80" y2="769.50" stroke="#111" stroke-width="0.7"/>
<text x="0" y="0" font-size="6.8" transform="translate(639.60 771.93) scale(0.84 1)" text-anchor="end">40</text>
<line x1="643.00" y1="755.60" x2="645.80" y2="755.60" stroke="#111" stroke-width="0.7"/>
<text x="0" y="0" font-size="6.8" transform="translate(639.60 758.03) scale(0.84 1)" text-anchor="end">60</text>
<line x1="643.00" y1="741.80" x2="645.80" y2="741.80" stroke="#111" stroke-width="0.7"/>
<text x="0" y="0" font-size="6.8" transform="translate(639.60 744.23) scale(0.84 1)" text-anchor="end">80</text>
<line x1="643.00" y1="728.20" x2="645.80" y2="728.20" stroke="#111" stroke-width="0.7"/>
<text x="0" y="0" font-size="6.8" transform="translate(639.60 730.63) scale(0.84 1)" text-anchor="end">100</text>
<text x="622.70" y="759.75" font-size="6.3" text-anchor="middle" transform="rotate(-90 622.70 759.75)" dy="2.26">XEC<tspan font-size="4.2" dy="-2.4">+</tspan><tspan dy="2.4">WT</tspan><tspan font-size="4.2" dy="-2.4">−</tspan><tspan dy="2.4">/ XBB.1.5</tspan><tspan font-size="4.2" dy="-2.4">+</tspan><tspan dy="2.4"> Titer (%)</tspan></text>
<line x1="655.50" y1="800.70" x2="655.50" y2="802.90" stroke="#111" stroke-width="0.7"/>
<text x="655.50" y="810.39" font-size="6.4" text-anchor="middle">T1</text>
<line x1="667.30" y1="800.70" x2="667.30" y2="802.90" stroke="#111" stroke-width="0.7"/>
<text x="667.30" y="810.39" font-size="6.4" text-anchor="middle">T3</text>
<line x1="655.50" y1="740.00" x2="667.30" y2="759.20" stroke="#d0d0d0" stroke-width="0.35"/>
<line x1="650.90" y1="740.90" x2="660.10" y2="740.90" stroke="#111" stroke-width="1.0"/>
<line x1="662.70" y1="789.50" x2="671.90" y2="789.50" stroke="#111" stroke-width="1.0"/>
<circle cx="655.50" cy="740.00" r="2.05" fill="#EE9AD6" fill-opacity="0.7"/>
<circle cx="667.30" cy="759.20" r="2.05" fill="#EE9AD6" fill-opacity="0.7"/>
<circle cx="667.30" cy="789.50" r="2.05" fill="#EE9AD6" fill-opacity="0.7"/>
<circle cx="667.30" cy="792.50" r="2.05" fill="#EE9AD6" fill-opacity="0.7"/>
<circle cx="667.30" cy="795.40" r="2.05" fill="#EE9AD6" fill-opacity="0.7"/>
<text x="0" y="0" font-size="8.6" transform="translate(655.50 724.78) scale(0.92 1)" text-anchor="middle" fill="#E283C8" style="stroke:#E283C8">82</text>
<text x="0" y="0" font-size="8.6" transform="translate(667.30 724.78) scale(0.92 1)" text-anchor="middle" fill="#E283C8" style="stroke:#E283C8">12</text>
<circle cx="648.10" cy="824.90" r="10.2" fill="#D9AE88"/>
<path d="M648.10,824.90 L648.10,814.70 A10.2,10.2 0 1 1 638.87,820.56 Z" fill="#D987C4" stroke="#151515" stroke-width="0.85" stroke-linejoin="round"/>
<circle cx="648.10" cy="824.90" r="10.2" fill="none" stroke="#151515" stroke-width="0.85"/>
<circle cx="671.70" cy="824.90" r="10.2" fill="#D9AE88"/>
<path d="M671.70,824.90 L671.70,814.70 A10.2,10.2 0 0 1 678.68,817.46 Z" fill="#D987C4" stroke="#151515" stroke-width="0.85" stroke-linejoin="round"/>
<circle cx="671.70" cy="824.90" r="10.2" fill="none" stroke="#151515" stroke-width="0.85"/>
<text x="558.20" y="680.86" font-size="6.3" font-weight="bold">Pie Chart</text>
<rect x="558.40" y="683.90" width="9.00" height="9.00" fill="#D987C4"/>
<text x="569.60" y="690.62" font-size="6.2">XEC−specific</text>
<rect x="558.40" y="702.00" width="9.00" height="9.00" fill="#EDB4B6"/>
<text x="569.60" y="704.92" font-size="6.2">WT and XEC</text>
<text x="569.60" y="712.52" font-size="6.2">cross−reactive</text>
<rect x="617.70" y="684.10" width="9.00" height="9.00" fill="#CFCDE6"/>
<text x="628.90" y="687.02" font-size="6.2">BA.5 and XEC</text>
<text x="628.90" y="694.62" font-size="6.2">cross−reactive</text>
<rect x="617.70" y="702.00" width="9.00" height="9.00" fill="#D9AE88"/>
<text x="628.90" y="704.92" font-size="6.2">XBB.1.5 and XEC</text>
<text x="628.90" y="712.52" font-size="6.2">cross−reactive</text>
<text x="90.00" y="691.78" font-size="6.1" text-anchor="middle">Correlation of BA.5 nAb at T1 with XBB.1.5 nAb at T3</text>
<text x="92.50" y="698.46" font-size="6.3" text-anchor="middle">(Double infection, n = 12)</text>
<line x1="31.80" y1="703.50" x2="31.80" y2="816.82" stroke="#111" stroke-width="0.85"/>
<line x1="31.80" y1="816.40" x2="166.30" y2="816.40" stroke="#111" stroke-width="0.85"/>
<line x1="29.00" y1="811.50" x2="31.80" y2="811.50" stroke="#111" stroke-width="0.7"/>
<text x="26.80" y="813.65" font-size="6.0" text-anchor="end">0</text>
<line x1="29.00" y1="792.90" x2="31.80" y2="792.90" stroke="#111" stroke-width="0.7"/>
<text x="26.80" y="795.05" font-size="6.0" text-anchor="end">20</text>
<line x1="29.00" y1="774.20" x2="31.80" y2="774.20" stroke="#111" stroke-width="0.7"/>
<text x="26.80" y="776.35" font-size="6.0" text-anchor="end">40</text>
<line x1="29.00" y1="755.10" x2="31.80" y2="755.10" stroke="#111" stroke-width="0.7"/>
<text x="26.80" y="757.25" font-size="6.0" text-anchor="end">60</text>
<line x1="29.00" y1="736.30" x2="31.80" y2="736.30" stroke="#111" stroke-width="0.7"/>
<text x="26.80" y="738.45" font-size="6.0" text-anchor="end">80</text>
<line x1="29.00" y1="717.20" x2="31.80" y2="717.20" stroke="#111" stroke-width="0.7"/>
<text x="26.80" y="719.35" font-size="6.0" text-anchor="end">100</text>
<line x1="37.70" y1="816.40" x2="37.70" y2="818.60" stroke="#111" stroke-width="0.7"/>
<text x="0" y="0" transform="translate(39.10 828.90) scale(0.9 1)" font-size="6.8" text-anchor="middle">2<tspan font-size="4.3" dx="0.6" dy="-3.3">4</tspan></text>
<line x1="67.80" y1="816.40" x2="67.80" y2="818.60" stroke="#111" stroke-width="0.7"/>
<text x="0" y="0" transform="translate(69.20 828.90) scale(0.9 1)" font-size="6.8" text-anchor="middle">2<tspan font-size="4.3" dx="0.6" dy="-3.3">6</tspan></text>
<line x1="97.50" y1="816.40" x2="97.50" y2="818.60" stroke="#111" stroke-width="0.7"/>
<text x="0" y="0" transform="translate(98.90 828.90) scale(0.9 1)" font-size="6.8" text-anchor="middle">2<tspan font-size="4.3" dx="0.6" dy="-3.3">8</tspan></text>
<line x1="127.80" y1="816.40" x2="127.80" y2="818.60" stroke="#111" stroke-width="0.7"/>
<text x="0" y="0" transform="translate(129.20 828.90) scale(0.9 1)" font-size="6.8" text-anchor="middle">2<tspan font-size="4.3" dx="0.6" dy="-3.3">10</tspan></text>
<line x1="157.60" y1="816.40" x2="157.60" y2="818.60" stroke="#111" stroke-width="0.7"/>
<text x="0" y="0" transform="translate(159.00 828.90) scale(0.9 1)" font-size="6.8" text-anchor="middle">2<tspan font-size="4.3" dx="0.6" dy="-3.3">12</tspan></text>
<text x="98.40" y="834.80" font-size="6.4" text-anchor="middle" transform="rotate(0 98.40 834.80)" dy="2.29">BA.5<tspan font-size="4.2" dy="-2.4">+</tspan><tspan dy="2.4">WT</tspan><tspan font-size="4.2" dy="-2.4">−</tspan><tspan dy="2.4"> pVNT</tspan><tspan font-size="4.2" dy="1.5">50</tspan><tspan dy="-1.5"></tspan> Titer at T1</text>
<text x="7.90" y="759.80" font-size="6.4" text-anchor="middle" transform="rotate(-90 7.90 759.80)" dy="2.29">XBB.1.5<tspan font-size="4.2" dy="-2.4">+</tspan><tspan dy="2.4">WT</tspan><tspan font-size="4.2" dy="-2.4">−</tspan><tspan dy="2.4">/ XBB.1.5</tspan><tspan font-size="4.2" dy="-2.4">+</tspan><tspan dy="2.4"> Titer (%) at T3</tspan></text>
<text x="37.2" y="714.96" font-size="6.3"><tspan font-style="italic">R</tspan> = 0.66, <tspan font-style="italic">p</tspan> = 0.022</text>
<line x1="44.70" y1="786.20" x2="136.00" y2="742.70" stroke="#111" stroke-width="0.7"/>
<circle cx="45.20" cy="790.40" r="2.2" fill="#000"/>
<circle cx="76.40" cy="769.80" r="2.2" fill="#000"/>
<circle cx="96.80" cy="765.60" r="2.2" fill="#000"/>
<circle cx="107.20" cy="759.40" r="2.2" fill="#000"/>
<circle cx="108.00" cy="752.60" r="2.2" fill="#000"/>
<circle cx="108.40" cy="754.60" r="2.2" fill="#000"/>
<circle cx="112.90" cy="755.10" r="2.2" fill="#000"/>
<circle cx="118.60" cy="746.90" r="2.2" fill="#000"/>
<circle cx="125.80" cy="740.00" r="2.2" fill="#000"/>
<circle cx="127.80" cy="738.30" r="2.2" fill="#000"/>
<circle cx="136.00" cy="717.20" r="2.2" fill="#000"/>
<circle cx="136.00" cy="787.90" r="2.2" fill="#000"/>
<text x="270.50" y="689.26" font-size="6.3" text-anchor="middle">Neutralization Potency at T3</text>
<text x="270.30" y="696.46" font-size="6.3" text-anchor="middle">(Double infection, n = 12)</text>
<line x1="204.50" y1="718.40" x2="204.50" y2="808.32" stroke="#111" stroke-width="0.85"/>
<line x1="204.50" y1="807.90" x2="264.50" y2="807.90" stroke="#111" stroke-width="0.85"/>
<line x1="273.50" y1="807.90" x2="333.50" y2="807.90" stroke="#111" stroke-width="0.85"/>
<line x1="201.70" y1="725.60" x2="204.50" y2="725.60" stroke="#111" stroke-width="0.7"/>
<text x="198.90" y="728.25" font-size="6.0" text-anchor="end">10<tspan font-size="4.2" dx="0.3" dy="-2.6">1</tspan></text>
<line x1="201.70" y1="745.30" x2="204.50" y2="745.30" stroke="#111" stroke-width="0.7"/>
<text x="198.90" y="747.95" font-size="6.0" text-anchor="end">10<tspan font-size="4.2" dx="0.3" dy="-2.6">0</tspan></text>
<line x1="201.70" y1="764.90" x2="204.50" y2="764.90" stroke="#111" stroke-width="0.7"/>
<text x="198.90" y="767.55" font-size="6.0" text-anchor="end">10<tspan font-size="4.2" dx="0.3" dy="-2.6">−1</tspan></text>
<line x1="201.70" y1="784.40" x2="204.50" y2="784.40" stroke="#111" stroke-width="0.7"/>
<text x="198.90" y="787.05" font-size="6.0" text-anchor="end">10<tspan font-size="4.2" dx="0.3" dy="-2.6">−2</tspan></text>
<line x1="201.70" y1="804.50" x2="204.50" y2="804.50" stroke="#111" stroke-width="0.7"/>
<text x="198.90" y="807.15" font-size="6.0" text-anchor="end">10<tspan font-size="4.2" dx="0.3" dy="-2.6">−3</tspan></text>
<text x="180.00" y="764.00" font-size="6.5" text-anchor="middle" transform="rotate(-90 180.00 764.00)" dy="2.33">pVNT<tspan font-size="4.4" dy="1.6">50</tspan><tspan dy="-1.6"> Titer/ RBD IgG Titer</tspan></text>
<text x="235.90" y="713.06" font-size="6.3" text-anchor="middle">BA.5</text>
<text x="304.90" y="713.06" font-size="6.3" text-anchor="middle">XBB.1.5</text>
<text x="235.55" y="724.11" font-size="7.0" text-anchor="middle">*</text>
<text x="235.55" y="730.41" font-size="7.0" text-anchor="middle">1.7x</text>
<line x1="221.10" y1="731.20" x2="250.00" y2="731.20" stroke="#111" stroke-width="0.7"/>
<text x="221.10" y="738.98" font-size="7.2" text-anchor="middle">0.153</text>
<text x="250.00" y="738.98" font-size="7.2" text-anchor="middle">0.262</text>
<line x1="221.10" y1="747.80" x2="250.00" y2="743.50" stroke="#cbcbcb" stroke-width="0.35"/>
<line x1="221.10" y1="756.20" x2="250.00" y2="749.10" stroke="#cbcbcb" stroke-width="0.35"/>
<line x1="221.10" y1="758.00" x2="250.00" y2="754.20" stroke="#cbcbcb" stroke-width="0.35"/>
<line x1="221.10" y1="759.80" x2="250.00" y2="756.20" stroke="#cbcbcb" stroke-width="0.35"/>
<line x1="221.10" y1="763.10" x2="250.00" y2="758.00" stroke="#cbcbcb" stroke-width="0.35"/>
<line x1="221.10" y1="765.70" x2="250.00" y2="761.90" stroke="#cbcbcb" stroke-width="0.35"/>
<line x1="221.10" y1="768.30" x2="250.00" y2="764.40" stroke="#cbcbcb" stroke-width="0.35"/>
<line x1="221.10" y1="770.80" x2="250.00" y2="773.40" stroke="#cbcbcb" stroke-width="0.35"/>
<line x1="221.10" y1="773.40" x2="250.00" y2="774.60" stroke="#cbcbcb" stroke-width="0.35"/>
<line x1="221.10" y1="781.00" x2="250.00" y2="777.20" stroke="#cbcbcb" stroke-width="0.35"/>
<circle cx="221.10" cy="747.80" r="2.05" fill="#3B74B2" fill-opacity="0.66"/>
<circle cx="221.10" cy="756.20" r="2.05" fill="#3B74B2" fill-opacity="0.66"/>
<circle cx="221.10" cy="758.00" r="2.05" fill="#3B74B2" fill-opacity="0.66"/>
<circle cx="221.10" cy="759.80" r="2.05" fill="#3B74B2" fill-opacity="0.66"/>
<circle cx="221.10" cy="763.10" r="2.05" fill="#3B74B2" fill-opacity="0.66"/>
<circle cx="221.10" cy="765.70" r="2.05" fill="#3B74B2" fill-opacity="0.66"/>
<circle cx="221.10" cy="768.30" r="2.05" fill="#3B74B2" fill-opacity="0.66"/>
<circle cx="221.10" cy="770.80" r="2.05" fill="#3B74B2" fill-opacity="0.66"/>
<circle cx="221.10" cy="773.40" r="2.05" fill="#3B74B2" fill-opacity="0.66"/>
<circle cx="221.10" cy="781.00" r="2.05" fill="#3B74B2" fill-opacity="0.66"/>
<circle cx="250.00" cy="743.50" r="2.05" fill="#3B74B2" fill-opacity="0.66"/>
<circle cx="250.00" cy="749.10" r="2.05" fill="#3B74B2" fill-opacity="0.66"/>
<circle cx="250.00" cy="754.20" r="2.05" fill="#3B74B2" fill-opacity="0.66"/>
<circle cx="250.00" cy="756.20" r="2.05" fill="#3B74B2" fill-opacity="0.66"/>
<circle cx="250.00" cy="758.00" r="2.05" fill="#3B74B2" fill-opacity="0.66"/>
<circle cx="250.00" cy="761.90" r="2.05" fill="#3B74B2" fill-opacity="0.66"/>
<circle cx="250.00" cy="764.40" r="2.05" fill="#3B74B2" fill-opacity="0.66"/>
<circle cx="250.00" cy="773.40" r="2.05" fill="#3B74B2" fill-opacity="0.66"/>
<circle cx="250.00" cy="774.60" r="2.05" fill="#3B74B2" fill-opacity="0.66"/>
<circle cx="250.00" cy="777.20" r="2.05" fill="#3B74B2" fill-opacity="0.66"/>
<line x1="216.50" y1="767.50" x2="225.70" y2="767.50" stroke="#111" stroke-width="1.0"/>
<line x1="245.40" y1="763.10" x2="254.60" y2="763.10" stroke="#111" stroke-width="1.0"/>
<line x1="221.10" y1="807.90" x2="221.10" y2="810.10" stroke="#111" stroke-width="0.7"/>
<text x="221.50" y="812.90" font-size="6.4" text-anchor="end" transform="rotate(-45 221.50 812.90)" dy="4.4">No Dp</text>
<line x1="250.00" y1="807.90" x2="250.00" y2="810.10" stroke="#111" stroke-width="0.7"/>
<text x="250.40" y="812.90" font-size="6.4" text-anchor="end" transform="rotate(-45 250.40 812.90)" dy="4.4">WT Dp</text>
<text x="305.05" y="724.11" font-size="7.0" text-anchor="middle">***</text>
<text x="305.05" y="730.41" font-size="7.0" text-anchor="middle">2.3x</text>
<line x1="290.60" y1="731.20" x2="319.50" y2="731.20" stroke="#111" stroke-width="0.7"/>
<text x="290.60" y="738.98" font-size="7.2" text-anchor="middle">0.016</text>
<text x="319.50" y="738.98" font-size="7.2" text-anchor="middle">0.038</text>
<line x1="290.60" y1="771.60" x2="319.50" y2="761.90" stroke="#cbcbcb" stroke-width="0.35"/>
<line x1="290.60" y1="774.60" x2="319.50" y2="761.90" stroke="#cbcbcb" stroke-width="0.35"/>
<line x1="290.60" y1="777.20" x2="319.50" y2="767.00" stroke="#cbcbcb" stroke-width="0.35"/>
<line x1="290.60" y1="779.80" x2="319.50" y2="770.80" stroke="#cbcbcb" stroke-width="0.35"/>
<line x1="290.60" y1="782.30" x2="319.50" y2="773.40" stroke="#cbcbcb" stroke-width="0.35"/>
<line x1="290.60" y1="784.90" x2="319.50" y2="775.90" stroke="#cbcbcb" stroke-width="0.35"/>
<line x1="290.60" y1="787.40" x2="319.50" y2="779.80" stroke="#cbcbcb" stroke-width="0.35"/>
<line x1="290.60" y1="790.00" x2="319.50" y2="783.60" stroke="#cbcbcb" stroke-width="0.35"/>
<circle cx="290.60" cy="771.60" r="2.05" fill="#C9A23A" fill-opacity="0.66"/>
<circle cx="290.60" cy="774.60" r="2.05" fill="#C9A23A" fill-opacity="0.66"/>
<circle cx="290.60" cy="777.20" r="2.05" fill="#C9A23A" fill-opacity="0.66"/>
<circle cx="290.60" cy="779.80" r="2.05" fill="#C9A23A" fill-opacity="0.66"/>
<circle cx="290.60" cy="782.30" r="2.05" fill="#C9A23A" fill-opacity="0.66"/>
<circle cx="290.60" cy="784.90" r="2.05" fill="#C9A23A" fill-opacity="0.66"/>
<circle cx="290.60" cy="787.40" r="2.05" fill="#C9A23A" fill-opacity="0.66"/>
<circle cx="290.60" cy="790.00" r="2.05" fill="#C9A23A" fill-opacity="0.66"/>
<circle cx="319.50" cy="761.90" r="2.05" fill="#C9A23A" fill-opacity="0.66"/>
<circle cx="319.50" cy="767.00" r="2.05" fill="#C9A23A" fill-opacity="0.66"/>
<circle cx="319.50" cy="770.80" r="2.05" fill="#C9A23A" fill-opacity="0.66"/>
<circle cx="319.50" cy="773.40" r="2.05" fill="#C9A23A" fill-opacity="0.66"/>
<circle cx="319.50" cy="775.90" r="2.05" fill="#C9A23A" fill-opacity="0.66"/>
<circle cx="319.50" cy="779.80" r="2.05" fill="#C9A23A" fill-opacity="0.66"/>
<circle cx="319.50" cy="783.60" r="2.05" fill="#C9A23A" fill-opacity="0.66"/>
<line x1="286.00" y1="783.60" x2="295.20" y2="783.60" stroke="#111" stroke-width="1.0"/>
<line x1="314.90" y1="776.40" x2="324.10" y2="776.40" stroke="#111" stroke-width="1.0"/>
<line x1="290.60" y1="807.90" x2="290.60" y2="810.10" stroke="#111" stroke-width="0.7"/>
<text x="291.00" y="812.90" font-size="6.4" text-anchor="end" transform="rotate(-45 291.00 812.90)" dy="4.4">No Dp</text>
<line x1="319.50" y1="807.90" x2="319.50" y2="810.10" stroke="#111" stroke-width="0.7"/>
<text x="319.90" y="812.90" font-size="6.4" text-anchor="end" transform="rotate(-45 319.90 812.90)" dy="4.4">WT Dp</text>
</svg></body></html>
